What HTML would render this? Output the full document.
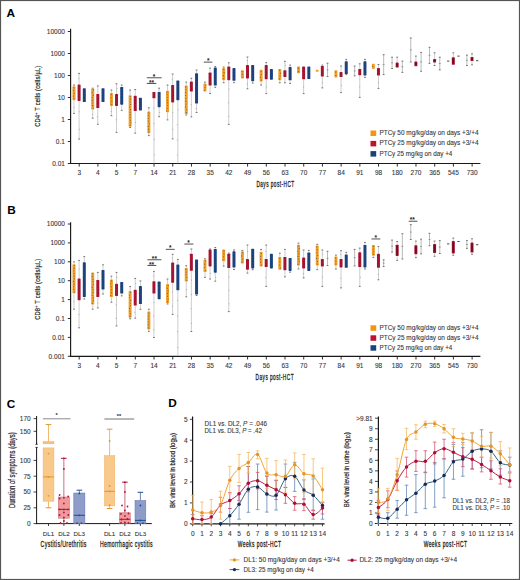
<!DOCTYPE html>
<html><head><meta charset="utf-8"><style>
html,body{margin:0;padding:0;background:#fff;}
body{width:520px;height:580px;overflow:hidden;font-family:"Liberation Sans", sans-serif;}
svg{display:block;}
</style></head><body>
<svg width="520" height="580" viewBox="0 0 520 580" font-family="'Liberation Sans', sans-serif">
<g>
<rect x="0.00" y="0.00" width="520.00" height="580.00" fill="#fff" />
<text x="6.60" y="16.80" font-size="11.8" text-anchor="start" fill="#000" font-weight="bold" >A</text>
<text x="7.20" y="214.20" font-size="11.8" text-anchor="start" fill="#000" font-weight="bold" >B</text>
<text x="6.80" y="407.60" font-size="11.8" text-anchor="start" fill="#000" font-weight="bold" >C</text>
<text x="168.30" y="407.20" font-size="11.8" text-anchor="start" fill="#000" font-weight="bold" >D</text>
<line x1="70.60" y1="28.70" x2="70.60" y2="164.00" stroke="#181818" stroke-width="1.15" />
<line x1="70.10" y1="163.50" x2="480.40" y2="163.50" stroke="#181818" stroke-width="1.15" />
<line x1="67.80" y1="31.50" x2="70.60" y2="31.50" stroke="#181818" stroke-width="0.9" />
<text x="64.90" y="33.80" font-size="6.5" text-anchor="end" fill="#383838" font-weight="normal" stroke="#383838" stroke-width="0.1" >10000</text>
<line x1="67.80" y1="53.50" x2="70.60" y2="53.50" stroke="#181818" stroke-width="0.9" />
<text x="64.90" y="55.80" font-size="6.5" text-anchor="end" fill="#383838" font-weight="normal" stroke="#383838" stroke-width="0.1" >1000</text>
<line x1="67.80" y1="75.50" x2="70.60" y2="75.50" stroke="#181818" stroke-width="0.9" />
<text x="64.90" y="77.80" font-size="6.5" text-anchor="end" fill="#383838" font-weight="normal" stroke="#383838" stroke-width="0.1" >100</text>
<line x1="67.80" y1="97.50" x2="70.60" y2="97.50" stroke="#181818" stroke-width="0.9" />
<text x="64.90" y="99.80" font-size="6.5" text-anchor="end" fill="#383838" font-weight="normal" stroke="#383838" stroke-width="0.1" >10</text>
<line x1="67.80" y1="119.50" x2="70.60" y2="119.50" stroke="#181818" stroke-width="0.9" />
<text x="64.90" y="121.80" font-size="6.5" text-anchor="end" fill="#383838" font-weight="normal" stroke="#383838" stroke-width="0.1" >1</text>
<line x1="67.80" y1="141.50" x2="70.60" y2="141.50" stroke="#181818" stroke-width="0.9" />
<text x="64.90" y="143.80" font-size="6.5" text-anchor="end" fill="#383838" font-weight="normal" stroke="#383838" stroke-width="0.1" >0.1</text>
<line x1="67.80" y1="163.50" x2="70.60" y2="163.50" stroke="#181818" stroke-width="0.9" />
<text x="64.90" y="165.80" font-size="6.5" text-anchor="end" fill="#383838" font-weight="normal" stroke="#383838" stroke-width="0.1" >0.01</text>
<line x1="79.20" y1="163.50" x2="79.20" y2="166.60" stroke="#181818" stroke-width="0.9" />
<text x="79.20" y="175.20" font-size="6.5" text-anchor="middle" fill="#383838" font-weight="normal" stroke="#383838" stroke-width="0.1" >3</text>
<line x1="97.91" y1="163.50" x2="97.91" y2="166.60" stroke="#181818" stroke-width="0.9" />
<text x="97.91" y="175.20" font-size="6.5" text-anchor="middle" fill="#383838" font-weight="normal" stroke="#383838" stroke-width="0.1" >4</text>
<line x1="116.62" y1="163.50" x2="116.62" y2="166.60" stroke="#181818" stroke-width="0.9" />
<text x="116.62" y="175.20" font-size="6.5" text-anchor="middle" fill="#383838" font-weight="normal" stroke="#383838" stroke-width="0.1" >5</text>
<line x1="135.33" y1="163.50" x2="135.33" y2="166.60" stroke="#181818" stroke-width="0.9" />
<text x="135.33" y="175.20" font-size="6.5" text-anchor="middle" fill="#383838" font-weight="normal" stroke="#383838" stroke-width="0.1" >7</text>
<line x1="154.04" y1="163.50" x2="154.04" y2="166.60" stroke="#181818" stroke-width="0.9" />
<text x="154.04" y="175.20" font-size="6.5" text-anchor="middle" fill="#383838" font-weight="normal" stroke="#383838" stroke-width="0.1" >14</text>
<line x1="172.75" y1="163.50" x2="172.75" y2="166.60" stroke="#181818" stroke-width="0.9" />
<text x="172.75" y="175.20" font-size="6.5" text-anchor="middle" fill="#383838" font-weight="normal" stroke="#383838" stroke-width="0.1" >21</text>
<line x1="191.46" y1="163.50" x2="191.46" y2="166.60" stroke="#181818" stroke-width="0.9" />
<text x="191.46" y="175.20" font-size="6.5" text-anchor="middle" fill="#383838" font-weight="normal" stroke="#383838" stroke-width="0.1" >28</text>
<line x1="210.17" y1="163.50" x2="210.17" y2="166.60" stroke="#181818" stroke-width="0.9" />
<text x="210.17" y="175.20" font-size="6.5" text-anchor="middle" fill="#383838" font-weight="normal" stroke="#383838" stroke-width="0.1" >35</text>
<line x1="228.88" y1="163.50" x2="228.88" y2="166.60" stroke="#181818" stroke-width="0.9" />
<text x="228.88" y="175.20" font-size="6.5" text-anchor="middle" fill="#383838" font-weight="normal" stroke="#383838" stroke-width="0.1" >42</text>
<line x1="247.59" y1="163.50" x2="247.59" y2="166.60" stroke="#181818" stroke-width="0.9" />
<text x="247.59" y="175.20" font-size="6.5" text-anchor="middle" fill="#383838" font-weight="normal" stroke="#383838" stroke-width="0.1" >49</text>
<line x1="266.30" y1="163.50" x2="266.30" y2="166.60" stroke="#181818" stroke-width="0.9" />
<text x="266.30" y="175.20" font-size="6.5" text-anchor="middle" fill="#383838" font-weight="normal" stroke="#383838" stroke-width="0.1" >56</text>
<line x1="285.01" y1="163.50" x2="285.01" y2="166.60" stroke="#181818" stroke-width="0.9" />
<text x="285.01" y="175.20" font-size="6.5" text-anchor="middle" fill="#383838" font-weight="normal" stroke="#383838" stroke-width="0.1" >63</text>
<line x1="303.72" y1="163.50" x2="303.72" y2="166.60" stroke="#181818" stroke-width="0.9" />
<text x="303.72" y="175.20" font-size="6.5" text-anchor="middle" fill="#383838" font-weight="normal" stroke="#383838" stroke-width="0.1" >70</text>
<line x1="322.43" y1="163.50" x2="322.43" y2="166.60" stroke="#181818" stroke-width="0.9" />
<text x="322.43" y="175.20" font-size="6.5" text-anchor="middle" fill="#383838" font-weight="normal" stroke="#383838" stroke-width="0.1" >77</text>
<line x1="341.14" y1="163.50" x2="341.14" y2="166.60" stroke="#181818" stroke-width="0.9" />
<text x="341.14" y="175.20" font-size="6.5" text-anchor="middle" fill="#383838" font-weight="normal" stroke="#383838" stroke-width="0.1" >84</text>
<line x1="359.85" y1="163.50" x2="359.85" y2="166.60" stroke="#181818" stroke-width="0.9" />
<text x="359.85" y="175.20" font-size="6.5" text-anchor="middle" fill="#383838" font-weight="normal" stroke="#383838" stroke-width="0.1" >91</text>
<line x1="378.56" y1="163.50" x2="378.56" y2="166.60" stroke="#181818" stroke-width="0.9" />
<text x="378.56" y="175.20" font-size="6.5" text-anchor="middle" fill="#383838" font-weight="normal" stroke="#383838" stroke-width="0.1" >98</text>
<line x1="397.27" y1="163.50" x2="397.27" y2="166.60" stroke="#181818" stroke-width="0.9" />
<text x="397.27" y="175.20" font-size="6.5" text-anchor="middle" fill="#383838" font-weight="normal" stroke="#383838" stroke-width="0.1" >180</text>
<line x1="415.98" y1="163.50" x2="415.98" y2="166.60" stroke="#181818" stroke-width="0.9" />
<text x="415.98" y="175.20" font-size="6.5" text-anchor="middle" fill="#383838" font-weight="normal" stroke="#383838" stroke-width="0.1" >270</text>
<line x1="434.69" y1="163.50" x2="434.69" y2="166.60" stroke="#181818" stroke-width="0.9" />
<text x="434.69" y="175.20" font-size="6.5" text-anchor="middle" fill="#383838" font-weight="normal" stroke="#383838" stroke-width="0.1" >365</text>
<line x1="453.40" y1="163.50" x2="453.40" y2="166.60" stroke="#181818" stroke-width="0.9" />
<text x="453.40" y="175.20" font-size="6.5" text-anchor="middle" fill="#383838" font-weight="normal" stroke="#383838" stroke-width="0.1" >545</text>
<line x1="472.11" y1="163.50" x2="472.11" y2="166.60" stroke="#181818" stroke-width="0.9" />
<text x="472.11" y="175.20" font-size="6.5" text-anchor="middle" fill="#383838" font-weight="normal" stroke="#383838" stroke-width="0.1" >730</text>
<line x1="74.00" y1="85.00" x2="74.00" y2="86.30" stroke="#b9b9b9" stroke-width="0.7" />
<line x1="73.10" y1="85.00" x2="74.90" y2="85.00" stroke="#555" stroke-width="0.8" />
<line x1="74.00" y1="100.20" x2="74.00" y2="113.40" stroke="#b9b9b9" stroke-width="0.7" />
<line x1="73.10" y1="113.40" x2="74.90" y2="113.40" stroke="#555" stroke-width="0.8" />
<rect x="72.50" y="86.30" width="3.00" height="13.90" fill="#f0a02a" rx="0.6"/>
<circle cx="73.75" cy="87.69" r="0.55" fill="#3a2a2a" opacity="0.6"/>
<circle cx="73.51" cy="90.47" r="0.55" fill="#3a2a2a" opacity="0.6"/>
<circle cx="74.21" cy="93.25" r="0.55" fill="#3a2a2a" opacity="0.6"/>
<circle cx="73.40" cy="96.03" r="0.55" fill="#3a2a2a" opacity="0.6"/>
<circle cx="74.05" cy="98.81" r="0.55" fill="#3a2a2a" opacity="0.6"/>
<circle cx="73.81" cy="107.30" r="0.5" fill="#777" opacity="0.6"/>
<line x1="79.10" y1="73.40" x2="79.10" y2="84.40" stroke="#b9b9b9" stroke-width="0.7" />
<line x1="78.20" y1="73.40" x2="80.00" y2="73.40" stroke="#555" stroke-width="0.8" />
<line x1="79.10" y1="100.90" x2="79.10" y2="139.10" stroke="#b9b9b9" stroke-width="0.7" />
<line x1="78.20" y1="139.10" x2="80.00" y2="139.10" stroke="#555" stroke-width="0.8" />
<rect x="77.60" y="84.40" width="3.00" height="16.50" fill="#ac1433" rx="0.6"/>
<circle cx="78.48" cy="85.78" r="0.55" fill="#3a2a2a" opacity="0.6"/>
<circle cx="79.11" cy="88.53" r="0.55" fill="#3a2a2a" opacity="0.6"/>
<circle cx="78.45" cy="91.28" r="0.55" fill="#3a2a2a" opacity="0.6"/>
<circle cx="79.01" cy="94.03" r="0.55" fill="#3a2a2a" opacity="0.6"/>
<circle cx="78.50" cy="96.78" r="0.55" fill="#3a2a2a" opacity="0.6"/>
<circle cx="78.53" cy="99.53" r="0.55" fill="#3a2a2a" opacity="0.6"/>
<circle cx="78.99" cy="111.70" r="0.5" fill="#777" opacity="0.6"/>
<circle cx="79.56" cy="129.30" r="0.5" fill="#777" opacity="0.6"/>
<circle cx="78.57" cy="78.40" r="0.5" fill="#777" opacity="0.6"/>
<rect x="82.80" y="88.20" width="3.00" height="13.80" fill="#1b4584" rx="0.6"/>
<circle cx="83.91" cy="89.58" r="0.55" fill="#3a2a2a" opacity="0.6"/>
<circle cx="84.48" cy="92.34" r="0.55" fill="#3a2a2a" opacity="0.6"/>
<circle cx="84.93" cy="95.10" r="0.55" fill="#3a2a2a" opacity="0.6"/>
<circle cx="84.41" cy="97.86" r="0.55" fill="#3a2a2a" opacity="0.6"/>
<circle cx="84.16" cy="100.62" r="0.55" fill="#3a2a2a" opacity="0.6"/>
<line x1="92.71" y1="88.20" x2="92.71" y2="88.60" stroke="#b9b9b9" stroke-width="0.7" />
<line x1="91.81" y1="88.20" x2="93.61" y2="88.20" stroke="#555" stroke-width="0.8" />
<line x1="92.71" y1="109.60" x2="92.71" y2="118.20" stroke="#b9b9b9" stroke-width="0.7" />
<line x1="91.81" y1="118.20" x2="93.61" y2="118.20" stroke="#555" stroke-width="0.8" />
<rect x="91.21" y="88.60" width="3.00" height="21.00" fill="#f0a02a" rx="0.6"/>
<circle cx="93.38" cy="89.91" r="0.55" fill="#3a2a2a" opacity="0.6"/>
<circle cx="92.08" cy="92.54" r="0.55" fill="#3a2a2a" opacity="0.6"/>
<circle cx="93.21" cy="95.16" r="0.55" fill="#3a2a2a" opacity="0.6"/>
<circle cx="92.42" cy="97.79" r="0.55" fill="#3a2a2a" opacity="0.6"/>
<circle cx="92.21" cy="100.41" r="0.55" fill="#3a2a2a" opacity="0.6"/>
<circle cx="92.17" cy="103.04" r="0.55" fill="#3a2a2a" opacity="0.6"/>
<circle cx="92.44" cy="105.66" r="0.55" fill="#3a2a2a" opacity="0.6"/>
<circle cx="93.15" cy="108.29" r="0.55" fill="#3a2a2a" opacity="0.6"/>
<circle cx="92.26" cy="114.40" r="0.5" fill="#777" opacity="0.6"/>
<line x1="97.81" y1="85.90" x2="97.81" y2="93.90" stroke="#b9b9b9" stroke-width="0.7" />
<line x1="96.91" y1="85.90" x2="98.71" y2="85.90" stroke="#555" stroke-width="0.8" />
<line x1="97.81" y1="108.10" x2="97.81" y2="124.30" stroke="#b9b9b9" stroke-width="0.7" />
<line x1="96.91" y1="124.30" x2="98.71" y2="124.30" stroke="#555" stroke-width="0.8" />
<rect x="96.31" y="93.90" width="3.00" height="14.20" fill="#ac1433" rx="0.6"/>
<circle cx="97.92" cy="95.32" r="0.55" fill="#3a2a2a" opacity="0.6"/>
<circle cx="98.00" cy="98.16" r="0.55" fill="#3a2a2a" opacity="0.6"/>
<circle cx="97.63" cy="101.00" r="0.55" fill="#3a2a2a" opacity="0.6"/>
<circle cx="97.88" cy="103.84" r="0.55" fill="#3a2a2a" opacity="0.6"/>
<circle cx="97.20" cy="106.68" r="0.55" fill="#3a2a2a" opacity="0.6"/>
<circle cx="97.19" cy="116.70" r="0.5" fill="#777" opacity="0.6"/>
<rect x="101.51" y="88.20" width="3.00" height="13.80" fill="#1b4584" rx="0.6"/>
<circle cx="102.60" cy="89.58" r="0.55" fill="#3a2a2a" opacity="0.6"/>
<circle cx="103.26" cy="92.34" r="0.55" fill="#3a2a2a" opacity="0.6"/>
<circle cx="102.91" cy="95.10" r="0.55" fill="#3a2a2a" opacity="0.6"/>
<circle cx="102.75" cy="97.86" r="0.55" fill="#3a2a2a" opacity="0.6"/>
<circle cx="103.13" cy="100.62" r="0.55" fill="#3a2a2a" opacity="0.6"/>
<line x1="111.42" y1="90.10" x2="111.42" y2="93.00" stroke="#b9b9b9" stroke-width="0.7" />
<line x1="110.52" y1="90.10" x2="112.32" y2="90.10" stroke="#555" stroke-width="0.8" />
<line x1="111.42" y1="105.90" x2="111.42" y2="115.70" stroke="#b9b9b9" stroke-width="0.7" />
<line x1="110.52" y1="115.70" x2="112.32" y2="115.70" stroke="#555" stroke-width="0.8" />
<rect x="109.92" y="93.00" width="3.00" height="12.90" fill="#f0a02a" rx="0.6"/>
<circle cx="111.35" cy="94.61" r="0.55" fill="#3a2a2a" opacity="0.6"/>
<circle cx="111.14" cy="97.84" r="0.55" fill="#3a2a2a" opacity="0.6"/>
<circle cx="111.83" cy="101.06" r="0.55" fill="#3a2a2a" opacity="0.6"/>
<circle cx="111.70" cy="104.29" r="0.55" fill="#3a2a2a" opacity="0.6"/>
<circle cx="111.06" cy="111.30" r="0.5" fill="#777" opacity="0.6"/>
<line x1="116.52" y1="83.80" x2="116.52" y2="93.90" stroke="#b9b9b9" stroke-width="0.7" />
<line x1="115.62" y1="83.80" x2="117.42" y2="83.80" stroke="#555" stroke-width="0.8" />
<line x1="116.52" y1="105.90" x2="116.52" y2="132.40" stroke="#b9b9b9" stroke-width="0.7" />
<line x1="115.62" y1="132.40" x2="117.42" y2="132.40" stroke="#555" stroke-width="0.8" />
<rect x="115.02" y="93.90" width="3.00" height="12.00" fill="#ac1433" rx="0.6"/>
<circle cx="116.62" cy="95.40" r="0.55" fill="#3a2a2a" opacity="0.6"/>
<circle cx="116.56" cy="98.40" r="0.55" fill="#3a2a2a" opacity="0.6"/>
<circle cx="117.05" cy="101.40" r="0.55" fill="#3a2a2a" opacity="0.6"/>
<circle cx="116.84" cy="104.40" r="0.55" fill="#3a2a2a" opacity="0.6"/>
<circle cx="116.22" cy="119.65" r="0.5" fill="#777" opacity="0.6"/>
<circle cx="117.19" cy="88.35" r="0.5" fill="#777" opacity="0.6"/>
<line x1="121.72" y1="85.00" x2="121.72" y2="86.90" stroke="#b9b9b9" stroke-width="0.7" />
<line x1="120.82" y1="85.00" x2="122.62" y2="85.00" stroke="#555" stroke-width="0.8" />
<line x1="121.72" y1="104.70" x2="121.72" y2="110.40" stroke="#b9b9b9" stroke-width="0.7" />
<line x1="120.82" y1="110.40" x2="122.62" y2="110.40" stroke="#555" stroke-width="0.8" />
<rect x="120.22" y="86.90" width="3.00" height="17.80" fill="#1b4584" rx="0.6"/>
<circle cx="121.19" cy="88.38" r="0.55" fill="#3a2a2a" opacity="0.6"/>
<circle cx="121.61" cy="91.35" r="0.55" fill="#3a2a2a" opacity="0.6"/>
<circle cx="122.08" cy="94.32" r="0.55" fill="#3a2a2a" opacity="0.6"/>
<circle cx="121.23" cy="97.28" r="0.55" fill="#3a2a2a" opacity="0.6"/>
<circle cx="121.70" cy="100.25" r="0.55" fill="#3a2a2a" opacity="0.6"/>
<circle cx="121.07" cy="103.22" r="0.55" fill="#3a2a2a" opacity="0.6"/>
<line x1="130.13" y1="90.10" x2="130.13" y2="95.20" stroke="#b9b9b9" stroke-width="0.7" />
<line x1="129.23" y1="90.10" x2="131.03" y2="90.10" stroke="#555" stroke-width="0.8" />
<line x1="130.13" y1="126.70" x2="130.13" y2="127.50" stroke="#b9b9b9" stroke-width="0.7" />
<line x1="129.23" y1="127.50" x2="131.03" y2="127.50" stroke="#555" stroke-width="0.8" />
<rect x="128.63" y="95.20" width="3.00" height="31.50" fill="#f0a02a" rx="0.6"/>
<circle cx="130.37" cy="96.51" r="0.55" fill="#3a2a2a" opacity="0.6"/>
<circle cx="130.50" cy="99.14" r="0.55" fill="#3a2a2a" opacity="0.6"/>
<circle cx="130.23" cy="101.76" r="0.55" fill="#3a2a2a" opacity="0.6"/>
<circle cx="130.66" cy="104.39" r="0.55" fill="#3a2a2a" opacity="0.6"/>
<circle cx="129.87" cy="107.01" r="0.55" fill="#3a2a2a" opacity="0.6"/>
<circle cx="130.40" cy="109.64" r="0.55" fill="#3a2a2a" opacity="0.6"/>
<circle cx="130.26" cy="112.26" r="0.55" fill="#3a2a2a" opacity="0.6"/>
<circle cx="130.24" cy="114.89" r="0.55" fill="#3a2a2a" opacity="0.6"/>
<circle cx="130.07" cy="117.51" r="0.55" fill="#3a2a2a" opacity="0.6"/>
<circle cx="130.61" cy="120.14" r="0.55" fill="#3a2a2a" opacity="0.6"/>
<circle cx="130.75" cy="122.76" r="0.55" fill="#3a2a2a" opacity="0.6"/>
<circle cx="130.09" cy="125.39" r="0.55" fill="#3a2a2a" opacity="0.6"/>
<line x1="135.23" y1="89.50" x2="135.23" y2="95.80" stroke="#b9b9b9" stroke-width="0.7" />
<line x1="134.33" y1="89.50" x2="136.13" y2="89.50" stroke="#555" stroke-width="0.8" />
<line x1="135.23" y1="111.00" x2="135.23" y2="133.20" stroke="#b9b9b9" stroke-width="0.7" />
<line x1="134.33" y1="133.20" x2="136.13" y2="133.20" stroke="#555" stroke-width="0.8" />
<rect x="133.73" y="95.80" width="3.00" height="15.20" fill="#ac1433" rx="0.6"/>
<circle cx="135.46" cy="97.32" r="0.55" fill="#3a2a2a" opacity="0.6"/>
<circle cx="134.61" cy="100.36" r="0.55" fill="#3a2a2a" opacity="0.6"/>
<circle cx="135.51" cy="103.40" r="0.55" fill="#3a2a2a" opacity="0.6"/>
<circle cx="135.44" cy="106.44" r="0.55" fill="#3a2a2a" opacity="0.6"/>
<circle cx="135.92" cy="109.48" r="0.55" fill="#3a2a2a" opacity="0.6"/>
<circle cx="135.68" cy="122.60" r="0.5" fill="#777" opacity="0.6"/>
<rect x="138.93" y="97.70" width="3.00" height="12.70" fill="#1b4584" rx="0.6"/>
<circle cx="140.13" cy="99.29" r="0.55" fill="#3a2a2a" opacity="0.6"/>
<circle cx="140.27" cy="102.46" r="0.55" fill="#3a2a2a" opacity="0.6"/>
<circle cx="140.67" cy="105.64" r="0.55" fill="#3a2a2a" opacity="0.6"/>
<circle cx="139.76" cy="108.81" r="0.55" fill="#3a2a2a" opacity="0.6"/>
<line x1="148.84" y1="107.80" x2="148.84" y2="111.50" stroke="#b9b9b9" stroke-width="0.7" />
<line x1="147.94" y1="107.80" x2="149.74" y2="107.80" stroke="#555" stroke-width="0.8" />
<line x1="148.84" y1="133.20" x2="148.84" y2="135.60" stroke="#b9b9b9" stroke-width="0.7" />
<line x1="147.94" y1="135.60" x2="149.74" y2="135.60" stroke="#555" stroke-width="0.8" />
<rect x="147.34" y="111.50" width="3.00" height="21.70" fill="#f0a02a" rx="0.6"/>
<circle cx="148.79" cy="112.86" r="0.55" fill="#3a2a2a" opacity="0.6"/>
<circle cx="148.38" cy="115.57" r="0.55" fill="#3a2a2a" opacity="0.6"/>
<circle cx="148.30" cy="118.28" r="0.55" fill="#3a2a2a" opacity="0.6"/>
<circle cx="148.22" cy="120.99" r="0.55" fill="#3a2a2a" opacity="0.6"/>
<circle cx="149.22" cy="123.71" r="0.55" fill="#3a2a2a" opacity="0.6"/>
<circle cx="148.32" cy="126.42" r="0.55" fill="#3a2a2a" opacity="0.6"/>
<circle cx="148.49" cy="129.13" r="0.55" fill="#3a2a2a" opacity="0.6"/>
<circle cx="148.69" cy="131.84" r="0.55" fill="#3a2a2a" opacity="0.6"/>
<line x1="153.94" y1="98.30" x2="153.94" y2="163.50" stroke="#b9b9b9" stroke-width="0.7" />
<rect x="152.44" y="92.00" width="3.00" height="6.30" fill="#ac1433" rx="0.6"/>
<circle cx="154.46" cy="93.58" r="0.55" fill="#3a2a2a" opacity="0.6"/>
<circle cx="153.35" cy="96.72" r="0.55" fill="#3a2a2a" opacity="0.6"/>
<circle cx="153.87" cy="108.08" r="0.5" fill="#777" opacity="0.6"/>
<circle cx="154.01" cy="123.62" r="0.5" fill="#777" opacity="0.6"/>
<circle cx="154.48" cy="139.18" r="0.5" fill="#777" opacity="0.6"/>
<circle cx="154.39" cy="154.72" r="0.5" fill="#777" opacity="0.6"/>
<line x1="159.14" y1="88.20" x2="159.14" y2="92.00" stroke="#b9b9b9" stroke-width="0.7" />
<line x1="158.24" y1="88.20" x2="160.04" y2="88.20" stroke="#555" stroke-width="0.8" />
<line x1="159.14" y1="107.20" x2="159.14" y2="116.70" stroke="#b9b9b9" stroke-width="0.7" />
<line x1="158.24" y1="116.70" x2="160.04" y2="116.70" stroke="#555" stroke-width="0.8" />
<rect x="157.64" y="92.00" width="3.00" height="15.20" fill="#1b4584" rx="0.6"/>
<circle cx="159.65" cy="93.52" r="0.55" fill="#3a2a2a" opacity="0.6"/>
<circle cx="158.83" cy="96.56" r="0.55" fill="#3a2a2a" opacity="0.6"/>
<circle cx="159.02" cy="99.60" r="0.55" fill="#3a2a2a" opacity="0.6"/>
<circle cx="158.94" cy="102.64" r="0.55" fill="#3a2a2a" opacity="0.6"/>
<circle cx="159.68" cy="105.68" r="0.55" fill="#3a2a2a" opacity="0.6"/>
<circle cx="159.78" cy="112.45" r="0.5" fill="#777" opacity="0.6"/>
<line x1="167.55" y1="85.00" x2="167.55" y2="90.70" stroke="#b9b9b9" stroke-width="0.7" />
<line x1="166.65" y1="85.00" x2="168.45" y2="85.00" stroke="#555" stroke-width="0.8" />
<line x1="167.55" y1="112.30" x2="167.55" y2="119.90" stroke="#b9b9b9" stroke-width="0.7" />
<line x1="166.65" y1="119.90" x2="168.45" y2="119.90" stroke="#555" stroke-width="0.8" />
<rect x="166.05" y="90.70" width="3.00" height="21.60" fill="#f0a02a" rx="0.6"/>
<circle cx="167.06" cy="92.05" r="0.55" fill="#3a2a2a" opacity="0.6"/>
<circle cx="167.10" cy="94.75" r="0.55" fill="#3a2a2a" opacity="0.6"/>
<circle cx="167.17" cy="97.45" r="0.55" fill="#3a2a2a" opacity="0.6"/>
<circle cx="167.18" cy="100.15" r="0.55" fill="#3a2a2a" opacity="0.6"/>
<circle cx="167.53" cy="102.85" r="0.55" fill="#3a2a2a" opacity="0.6"/>
<circle cx="167.67" cy="105.55" r="0.55" fill="#3a2a2a" opacity="0.6"/>
<circle cx="167.22" cy="108.25" r="0.55" fill="#3a2a2a" opacity="0.6"/>
<circle cx="166.86" cy="110.95" r="0.55" fill="#3a2a2a" opacity="0.6"/>
<line x1="172.65" y1="74.00" x2="172.65" y2="85.00" stroke="#b9b9b9" stroke-width="0.7" />
<line x1="171.75" y1="74.00" x2="173.55" y2="74.00" stroke="#555" stroke-width="0.8" />
<line x1="172.65" y1="102.40" x2="172.65" y2="138.90" stroke="#b9b9b9" stroke-width="0.7" />
<line x1="171.75" y1="138.90" x2="173.55" y2="138.90" stroke="#555" stroke-width="0.8" />
<rect x="171.15" y="85.00" width="3.00" height="17.40" fill="#ac1433" rx="0.6"/>
<circle cx="172.54" cy="86.45" r="0.55" fill="#3a2a2a" opacity="0.6"/>
<circle cx="172.47" cy="89.35" r="0.55" fill="#3a2a2a" opacity="0.6"/>
<circle cx="172.74" cy="92.25" r="0.55" fill="#3a2a2a" opacity="0.6"/>
<circle cx="173.28" cy="95.15" r="0.55" fill="#3a2a2a" opacity="0.6"/>
<circle cx="172.92" cy="98.05" r="0.55" fill="#3a2a2a" opacity="0.6"/>
<circle cx="172.67" cy="100.95" r="0.55" fill="#3a2a2a" opacity="0.6"/>
<circle cx="172.81" cy="112.78" r="0.5" fill="#777" opacity="0.6"/>
<circle cx="172.90" cy="129.53" r="0.5" fill="#777" opacity="0.6"/>
<circle cx="172.03" cy="79.00" r="0.5" fill="#777" opacity="0.6"/>
<line x1="177.85" y1="100.20" x2="177.85" y2="163.50" stroke="#b9b9b9" stroke-width="0.7" />
<rect x="176.35" y="80.60" width="3.00" height="19.60" fill="#1b4584" rx="0.6"/>
<circle cx="178.41" cy="82.00" r="0.55" fill="#3a2a2a" opacity="0.6"/>
<circle cx="178.24" cy="84.80" r="0.55" fill="#3a2a2a" opacity="0.6"/>
<circle cx="178.37" cy="87.60" r="0.55" fill="#3a2a2a" opacity="0.6"/>
<circle cx="178.27" cy="90.40" r="0.55" fill="#3a2a2a" opacity="0.6"/>
<circle cx="177.70" cy="93.20" r="0.55" fill="#3a2a2a" opacity="0.6"/>
<circle cx="177.71" cy="96.00" r="0.55" fill="#3a2a2a" opacity="0.6"/>
<circle cx="177.29" cy="98.80" r="0.55" fill="#3a2a2a" opacity="0.6"/>
<circle cx="178.04" cy="109.74" r="0.5" fill="#777" opacity="0.6"/>
<circle cx="177.24" cy="124.81" r="0.5" fill="#777" opacity="0.6"/>
<circle cx="177.24" cy="139.89" r="0.5" fill="#777" opacity="0.6"/>
<circle cx="177.44" cy="154.96" r="0.5" fill="#777" opacity="0.6"/>
<line x1="186.26" y1="82.10" x2="186.26" y2="85.50" stroke="#b9b9b9" stroke-width="0.7" />
<line x1="185.36" y1="82.10" x2="187.16" y2="82.10" stroke="#555" stroke-width="0.8" />
<line x1="186.26" y1="114.00" x2="186.26" y2="115.00" stroke="#b9b9b9" stroke-width="0.7" />
<line x1="185.36" y1="115.00" x2="187.16" y2="115.00" stroke="#555" stroke-width="0.8" />
<rect x="184.76" y="85.50" width="3.00" height="28.50" fill="#f0a02a" rx="0.6"/>
<circle cx="185.79" cy="86.92" r="0.55" fill="#3a2a2a" opacity="0.6"/>
<circle cx="186.04" cy="89.78" r="0.55" fill="#3a2a2a" opacity="0.6"/>
<circle cx="185.63" cy="92.62" r="0.55" fill="#3a2a2a" opacity="0.6"/>
<circle cx="185.56" cy="95.47" r="0.55" fill="#3a2a2a" opacity="0.6"/>
<circle cx="185.77" cy="98.33" r="0.55" fill="#3a2a2a" opacity="0.6"/>
<circle cx="185.70" cy="101.17" r="0.55" fill="#3a2a2a" opacity="0.6"/>
<circle cx="186.07" cy="104.03" r="0.55" fill="#3a2a2a" opacity="0.6"/>
<circle cx="185.60" cy="106.88" r="0.55" fill="#3a2a2a" opacity="0.6"/>
<circle cx="186.78" cy="109.72" r="0.55" fill="#3a2a2a" opacity="0.6"/>
<circle cx="186.42" cy="112.58" r="0.55" fill="#3a2a2a" opacity="0.6"/>
<line x1="191.36" y1="78.30" x2="191.36" y2="81.40" stroke="#b9b9b9" stroke-width="0.7" />
<line x1="190.46" y1="78.30" x2="192.26" y2="78.30" stroke="#555" stroke-width="0.8" />
<line x1="191.36" y1="91.60" x2="191.36" y2="116.90" stroke="#b9b9b9" stroke-width="0.7" />
<line x1="190.46" y1="116.90" x2="192.26" y2="116.90" stroke="#555" stroke-width="0.8" />
<rect x="189.86" y="81.40" width="3.00" height="10.20" fill="#ac1433" rx="0.6"/>
<circle cx="190.87" cy="83.10" r="0.55" fill="#3a2a2a" opacity="0.6"/>
<circle cx="191.01" cy="86.50" r="0.55" fill="#3a2a2a" opacity="0.6"/>
<circle cx="191.15" cy="89.90" r="0.55" fill="#3a2a2a" opacity="0.6"/>
<circle cx="191.17" cy="104.75" r="0.5" fill="#777" opacity="0.6"/>
<line x1="196.56" y1="70.00" x2="196.56" y2="73.20" stroke="#b9b9b9" stroke-width="0.7" />
<line x1="195.66" y1="70.00" x2="197.46" y2="70.00" stroke="#555" stroke-width="0.8" />
<line x1="196.56" y1="103.60" x2="196.56" y2="112.50" stroke="#b9b9b9" stroke-width="0.7" />
<line x1="195.66" y1="112.50" x2="197.46" y2="112.50" stroke="#555" stroke-width="0.8" />
<rect x="195.06" y="73.20" width="3.00" height="30.40" fill="#1b4584" rx="0.6"/>
<circle cx="196.03" cy="74.58" r="0.55" fill="#3a2a2a" opacity="0.6"/>
<circle cx="197.05" cy="77.35" r="0.55" fill="#3a2a2a" opacity="0.6"/>
<circle cx="197.25" cy="80.11" r="0.55" fill="#3a2a2a" opacity="0.6"/>
<circle cx="196.51" cy="82.87" r="0.55" fill="#3a2a2a" opacity="0.6"/>
<circle cx="196.54" cy="85.64" r="0.55" fill="#3a2a2a" opacity="0.6"/>
<circle cx="195.98" cy="88.40" r="0.55" fill="#3a2a2a" opacity="0.6"/>
<circle cx="196.00" cy="91.16" r="0.55" fill="#3a2a2a" opacity="0.6"/>
<circle cx="196.34" cy="93.93" r="0.55" fill="#3a2a2a" opacity="0.6"/>
<circle cx="196.23" cy="96.69" r="0.55" fill="#3a2a2a" opacity="0.6"/>
<circle cx="197.02" cy="99.45" r="0.55" fill="#3a2a2a" opacity="0.6"/>
<circle cx="196.09" cy="102.22" r="0.55" fill="#3a2a2a" opacity="0.6"/>
<circle cx="195.89" cy="108.55" r="0.5" fill="#777" opacity="0.6"/>
<line x1="204.97" y1="82.10" x2="204.97" y2="83.60" stroke="#b9b9b9" stroke-width="0.7" />
<line x1="204.07" y1="82.10" x2="205.87" y2="82.10" stroke="#555" stroke-width="0.8" />
<rect x="203.47" y="83.60" width="3.00" height="8.00" fill="#f0a02a" rx="0.6"/>
<circle cx="205.60" cy="84.93" r="0.55" fill="#3a2a2a" opacity="0.6"/>
<circle cx="205.01" cy="87.60" r="0.55" fill="#3a2a2a" opacity="0.6"/>
<circle cx="204.48" cy="90.27" r="0.55" fill="#3a2a2a" opacity="0.6"/>
<line x1="210.07" y1="68.10" x2="210.07" y2="72.60" stroke="#b9b9b9" stroke-width="0.7" />
<line x1="209.17" y1="68.10" x2="210.97" y2="68.10" stroke="#555" stroke-width="0.8" />
<line x1="210.07" y1="85.50" x2="210.07" y2="93.50" stroke="#b9b9b9" stroke-width="0.7" />
<line x1="209.17" y1="93.50" x2="210.97" y2="93.50" stroke="#555" stroke-width="0.8" />
<rect x="208.57" y="72.60" width="3.00" height="12.90" fill="#ac1433" rx="0.6"/>
<circle cx="210.13" cy="74.21" r="0.55" fill="#3a2a2a" opacity="0.6"/>
<circle cx="209.41" cy="77.44" r="0.55" fill="#3a2a2a" opacity="0.6"/>
<circle cx="210.11" cy="80.66" r="0.55" fill="#3a2a2a" opacity="0.6"/>
<circle cx="210.74" cy="83.89" r="0.55" fill="#3a2a2a" opacity="0.6"/>
<line x1="215.27" y1="66.60" x2="215.27" y2="67.50" stroke="#b9b9b9" stroke-width="0.7" />
<line x1="214.37" y1="66.60" x2="216.17" y2="66.60" stroke="#555" stroke-width="0.8" />
<line x1="215.27" y1="85.50" x2="215.27" y2="87.40" stroke="#b9b9b9" stroke-width="0.7" />
<line x1="214.37" y1="87.40" x2="216.17" y2="87.40" stroke="#555" stroke-width="0.8" />
<rect x="213.77" y="67.50" width="3.00" height="18.00" fill="#1b4584" rx="0.6"/>
<circle cx="215.78" cy="69.00" r="0.55" fill="#3a2a2a" opacity="0.6"/>
<circle cx="215.54" cy="72.00" r="0.55" fill="#3a2a2a" opacity="0.6"/>
<circle cx="214.94" cy="75.00" r="0.55" fill="#3a2a2a" opacity="0.6"/>
<circle cx="215.08" cy="78.00" r="0.55" fill="#3a2a2a" opacity="0.6"/>
<circle cx="214.80" cy="81.00" r="0.55" fill="#3a2a2a" opacity="0.6"/>
<circle cx="215.65" cy="84.00" r="0.55" fill="#3a2a2a" opacity="0.6"/>
<line x1="223.68" y1="67.00" x2="223.68" y2="68.10" stroke="#b9b9b9" stroke-width="0.7" />
<line x1="222.78" y1="67.00" x2="224.58" y2="67.00" stroke="#555" stroke-width="0.8" />
<line x1="223.68" y1="80.20" x2="223.68" y2="82.70" stroke="#b9b9b9" stroke-width="0.7" />
<line x1="222.78" y1="82.70" x2="224.58" y2="82.70" stroke="#555" stroke-width="0.8" />
<rect x="222.18" y="68.10" width="3.00" height="12.10" fill="#f0a02a" rx="0.6"/>
<circle cx="223.73" cy="69.61" r="0.55" fill="#3a2a2a" opacity="0.6"/>
<circle cx="224.07" cy="72.64" r="0.55" fill="#3a2a2a" opacity="0.6"/>
<circle cx="223.44" cy="75.66" r="0.55" fill="#3a2a2a" opacity="0.6"/>
<circle cx="223.29" cy="78.69" r="0.55" fill="#3a2a2a" opacity="0.6"/>
<line x1="228.78" y1="62.80" x2="228.78" y2="66.60" stroke="#b9b9b9" stroke-width="0.7" />
<line x1="227.88" y1="62.80" x2="229.68" y2="62.80" stroke="#555" stroke-width="0.8" />
<line x1="228.78" y1="80.20" x2="228.78" y2="124.40" stroke="#b9b9b9" stroke-width="0.7" />
<line x1="227.88" y1="124.40" x2="229.68" y2="124.40" stroke="#555" stroke-width="0.8" />
<rect x="227.28" y="66.60" width="3.00" height="13.60" fill="#ac1433" rx="0.6"/>
<circle cx="229.22" cy="67.96" r="0.55" fill="#3a2a2a" opacity="0.6"/>
<circle cx="229.46" cy="70.68" r="0.55" fill="#3a2a2a" opacity="0.6"/>
<circle cx="229.27" cy="73.40" r="0.55" fill="#3a2a2a" opacity="0.6"/>
<circle cx="229.21" cy="76.12" r="0.55" fill="#3a2a2a" opacity="0.6"/>
<circle cx="229.23" cy="78.84" r="0.55" fill="#3a2a2a" opacity="0.6"/>
<circle cx="229.12" cy="89.07" r="0.5" fill="#777" opacity="0.6"/>
<circle cx="228.40" cy="102.80" r="0.5" fill="#777" opacity="0.6"/>
<circle cx="228.80" cy="116.53" r="0.5" fill="#777" opacity="0.6"/>
<line x1="233.98" y1="80.80" x2="233.98" y2="82.70" stroke="#b9b9b9" stroke-width="0.7" />
<line x1="233.08" y1="82.70" x2="234.88" y2="82.70" stroke="#555" stroke-width="0.8" />
<rect x="232.48" y="68.10" width="3.00" height="12.70" fill="#1b4584" rx="0.6"/>
<circle cx="233.78" cy="69.69" r="0.55" fill="#3a2a2a" opacity="0.6"/>
<circle cx="233.32" cy="72.86" r="0.55" fill="#3a2a2a" opacity="0.6"/>
<circle cx="233.32" cy="76.04" r="0.55" fill="#3a2a2a" opacity="0.6"/>
<circle cx="233.67" cy="79.21" r="0.55" fill="#3a2a2a" opacity="0.6"/>
<rect x="240.89" y="70.20" width="3.00" height="8.20" fill="#f0a02a" rx="0.6"/>
<circle cx="242.05" cy="71.57" r="0.55" fill="#3a2a2a" opacity="0.6"/>
<circle cx="242.66" cy="74.30" r="0.55" fill="#3a2a2a" opacity="0.6"/>
<circle cx="243.03" cy="77.03" r="0.55" fill="#3a2a2a" opacity="0.6"/>
<line x1="247.49" y1="57.00" x2="247.49" y2="65.10" stroke="#b9b9b9" stroke-width="0.7" />
<line x1="246.59" y1="57.00" x2="248.39" y2="57.00" stroke="#555" stroke-width="0.8" />
<line x1="247.49" y1="78.40" x2="247.49" y2="88.80" stroke="#b9b9b9" stroke-width="0.7" />
<line x1="246.59" y1="88.80" x2="248.39" y2="88.80" stroke="#555" stroke-width="0.8" />
<rect x="245.99" y="65.10" width="3.00" height="13.30" fill="#ac1433" rx="0.6"/>
<circle cx="247.42" cy="66.43" r="0.55" fill="#3a2a2a" opacity="0.6"/>
<circle cx="248.10" cy="69.09" r="0.55" fill="#3a2a2a" opacity="0.6"/>
<circle cx="248.17" cy="71.75" r="0.55" fill="#3a2a2a" opacity="0.6"/>
<circle cx="248.13" cy="74.41" r="0.55" fill="#3a2a2a" opacity="0.6"/>
<circle cx="247.30" cy="77.07" r="0.55" fill="#3a2a2a" opacity="0.6"/>
<circle cx="247.10" cy="84.10" r="0.5" fill="#777" opacity="0.6"/>
<circle cx="247.11" cy="60.55" r="0.5" fill="#777" opacity="0.6"/>
<line x1="252.69" y1="81.20" x2="252.69" y2="83.10" stroke="#b9b9b9" stroke-width="0.7" />
<line x1="251.79" y1="83.10" x2="253.59" y2="83.10" stroke="#555" stroke-width="0.8" />
<rect x="251.19" y="65.10" width="3.00" height="16.10" fill="#1b4584" rx="0.6"/>
<circle cx="252.27" cy="66.44" r="0.55" fill="#3a2a2a" opacity="0.6"/>
<circle cx="252.28" cy="69.12" r="0.55" fill="#3a2a2a" opacity="0.6"/>
<circle cx="252.86" cy="71.81" r="0.55" fill="#3a2a2a" opacity="0.6"/>
<circle cx="253.25" cy="74.49" r="0.55" fill="#3a2a2a" opacity="0.6"/>
<circle cx="253.17" cy="77.17" r="0.55" fill="#3a2a2a" opacity="0.6"/>
<circle cx="252.66" cy="79.86" r="0.55" fill="#3a2a2a" opacity="0.6"/>
<line x1="261.10" y1="81.60" x2="261.10" y2="85.00" stroke="#b9b9b9" stroke-width="0.7" />
<line x1="260.20" y1="85.00" x2="262.00" y2="85.00" stroke="#555" stroke-width="0.8" />
<rect x="259.60" y="69.80" width="3.00" height="11.80" fill="#f0a02a" rx="0.6"/>
<circle cx="261.31" cy="71.27" r="0.55" fill="#3a2a2a" opacity="0.6"/>
<circle cx="261.52" cy="74.22" r="0.55" fill="#3a2a2a" opacity="0.6"/>
<circle cx="260.52" cy="77.17" r="0.55" fill="#3a2a2a" opacity="0.6"/>
<circle cx="261.32" cy="80.12" r="0.55" fill="#3a2a2a" opacity="0.6"/>
<line x1="266.20" y1="62.60" x2="266.20" y2="65.10" stroke="#b9b9b9" stroke-width="0.7" />
<line x1="265.30" y1="62.60" x2="267.10" y2="62.60" stroke="#555" stroke-width="0.8" />
<line x1="266.20" y1="79.30" x2="266.20" y2="93.60" stroke="#b9b9b9" stroke-width="0.7" />
<line x1="265.30" y1="93.60" x2="267.10" y2="93.60" stroke="#555" stroke-width="0.8" />
<rect x="264.70" y="65.10" width="3.00" height="14.20" fill="#ac1433" rx="0.6"/>
<circle cx="266.77" cy="66.52" r="0.55" fill="#3a2a2a" opacity="0.6"/>
<circle cx="266.60" cy="69.36" r="0.55" fill="#3a2a2a" opacity="0.6"/>
<circle cx="266.55" cy="72.20" r="0.55" fill="#3a2a2a" opacity="0.6"/>
<circle cx="266.17" cy="75.04" r="0.55" fill="#3a2a2a" opacity="0.6"/>
<circle cx="265.75" cy="77.88" r="0.55" fill="#3a2a2a" opacity="0.6"/>
<circle cx="266.60" cy="86.95" r="0.5" fill="#777" opacity="0.6"/>
<rect x="269.90" y="68.90" width="3.00" height="10.80" fill="#1b4584" rx="0.6"/>
<circle cx="271.17" cy="70.25" r="0.55" fill="#3a2a2a" opacity="0.6"/>
<circle cx="271.82" cy="72.95" r="0.55" fill="#3a2a2a" opacity="0.6"/>
<circle cx="272.06" cy="75.65" r="0.55" fill="#3a2a2a" opacity="0.6"/>
<circle cx="271.25" cy="78.35" r="0.55" fill="#3a2a2a" opacity="0.6"/>
<line x1="279.81" y1="80.30" x2="279.81" y2="82.80" stroke="#b9b9b9" stroke-width="0.7" />
<line x1="278.91" y1="82.80" x2="280.71" y2="82.80" stroke="#555" stroke-width="0.8" />
<rect x="278.31" y="68.90" width="3.00" height="11.40" fill="#f0a02a" rx="0.6"/>
<circle cx="279.67" cy="70.33" r="0.55" fill="#3a2a2a" opacity="0.6"/>
<circle cx="280.44" cy="73.17" r="0.55" fill="#3a2a2a" opacity="0.6"/>
<circle cx="280.12" cy="76.03" r="0.55" fill="#3a2a2a" opacity="0.6"/>
<circle cx="279.35" cy="78.88" r="0.55" fill="#3a2a2a" opacity="0.6"/>
<line x1="284.91" y1="61.30" x2="284.91" y2="70.20" stroke="#b9b9b9" stroke-width="0.7" />
<line x1="284.01" y1="61.30" x2="285.81" y2="61.30" stroke="#555" stroke-width="0.8" />
<line x1="284.91" y1="77.10" x2="284.91" y2="82.80" stroke="#b9b9b9" stroke-width="0.7" />
<line x1="284.01" y1="82.80" x2="285.81" y2="82.80" stroke="#555" stroke-width="0.8" />
<rect x="283.41" y="70.20" width="3.00" height="6.90" fill="#ac1433" rx="0.6"/>
<circle cx="284.39" cy="71.92" r="0.55" fill="#3a2a2a" opacity="0.6"/>
<circle cx="284.42" cy="75.38" r="0.55" fill="#3a2a2a" opacity="0.6"/>
<circle cx="285.48" cy="65.25" r="0.5" fill="#777" opacity="0.6"/>
<line x1="290.11" y1="65.10" x2="290.11" y2="67.00" stroke="#b9b9b9" stroke-width="0.7" />
<line x1="289.21" y1="65.10" x2="291.01" y2="65.10" stroke="#555" stroke-width="0.8" />
<line x1="290.11" y1="80.30" x2="290.11" y2="83.50" stroke="#b9b9b9" stroke-width="0.7" />
<line x1="289.21" y1="83.50" x2="291.01" y2="83.50" stroke="#555" stroke-width="0.8" />
<rect x="288.61" y="67.00" width="3.00" height="13.30" fill="#1b4584" rx="0.6"/>
<circle cx="290.54" cy="68.33" r="0.55" fill="#3a2a2a" opacity="0.6"/>
<circle cx="289.61" cy="70.99" r="0.55" fill="#3a2a2a" opacity="0.6"/>
<circle cx="290.57" cy="73.65" r="0.55" fill="#3a2a2a" opacity="0.6"/>
<circle cx="290.78" cy="76.31" r="0.55" fill="#3a2a2a" opacity="0.6"/>
<circle cx="290.33" cy="78.97" r="0.55" fill="#3a2a2a" opacity="0.6"/>
<rect x="297.02" y="66.40" width="3.00" height="6.90" fill="#f0a02a" rx="0.6"/>
<circle cx="298.31" cy="68.12" r="0.55" fill="#3a2a2a" opacity="0.6"/>
<circle cx="298.59" cy="71.58" r="0.55" fill="#3a2a2a" opacity="0.6"/>
<line x1="303.62" y1="79.30" x2="303.62" y2="93.60" stroke="#b9b9b9" stroke-width="0.7" />
<line x1="302.72" y1="93.60" x2="304.52" y2="93.60" stroke="#555" stroke-width="0.8" />
<rect x="302.12" y="66.40" width="3.00" height="12.90" fill="#ac1433" rx="0.6"/>
<circle cx="303.10" cy="68.01" r="0.55" fill="#3a2a2a" opacity="0.6"/>
<circle cx="302.94" cy="71.24" r="0.55" fill="#3a2a2a" opacity="0.6"/>
<circle cx="304.28" cy="74.46" r="0.55" fill="#3a2a2a" opacity="0.6"/>
<circle cx="303.83" cy="77.69" r="0.55" fill="#3a2a2a" opacity="0.6"/>
<circle cx="303.66" cy="86.95" r="0.5" fill="#777" opacity="0.6"/>
<rect x="307.32" y="66.40" width="3.00" height="12.60" fill="#1b4584" rx="0.6"/>
<circle cx="309.43" cy="67.98" r="0.55" fill="#3a2a2a" opacity="0.6"/>
<circle cx="308.73" cy="71.12" r="0.55" fill="#3a2a2a" opacity="0.6"/>
<circle cx="309.34" cy="74.28" r="0.55" fill="#3a2a2a" opacity="0.6"/>
<circle cx="309.28" cy="77.42" r="0.55" fill="#3a2a2a" opacity="0.6"/>
<rect x="315.73" y="69.80" width="3.00" height="1.90" fill="#f0a02a" rx="0.6"/>
<line x1="322.33" y1="65.10" x2="322.33" y2="66.00" stroke="#b9b9b9" stroke-width="0.7" />
<line x1="321.43" y1="65.10" x2="323.23" y2="65.10" stroke="#555" stroke-width="0.8" />
<line x1="322.33" y1="76.50" x2="322.33" y2="87.90" stroke="#b9b9b9" stroke-width="0.7" />
<line x1="321.43" y1="87.90" x2="323.23" y2="87.90" stroke="#555" stroke-width="0.8" />
<rect x="320.83" y="66.00" width="3.00" height="10.50" fill="#ac1433" rx="0.6"/>
<circle cx="321.93" cy="67.31" r="0.55" fill="#3a2a2a" opacity="0.6"/>
<circle cx="321.98" cy="69.94" r="0.55" fill="#3a2a2a" opacity="0.6"/>
<circle cx="322.04" cy="72.56" r="0.55" fill="#3a2a2a" opacity="0.6"/>
<circle cx="321.97" cy="75.19" r="0.55" fill="#3a2a2a" opacity="0.6"/>
<circle cx="322.45" cy="82.70" r="0.5" fill="#777" opacity="0.6"/>
<line x1="327.53" y1="63.20" x2="327.53" y2="76.50" stroke="#aaa" stroke-width="0.8" />
<line x1="326.63" y1="63.20" x2="328.43" y2="63.20" stroke="#555" stroke-width="0.8" />
<line x1="326.63" y1="76.50" x2="328.43" y2="76.50" stroke="#555" stroke-width="0.8" />
<line x1="326.63" y1="69.85" x2="328.43" y2="69.85" stroke="#777" stroke-width="0.7" />
<rect x="334.44" y="70.20" width="3.00" height="7.20" fill="#f0a02a" rx="0.6"/>
<circle cx="335.60" cy="72.00" r="0.55" fill="#3a2a2a" opacity="0.6"/>
<circle cx="335.83" cy="75.60" r="0.55" fill="#3a2a2a" opacity="0.6"/>
<line x1="341.04" y1="66.00" x2="341.04" y2="72.10" stroke="#b9b9b9" stroke-width="0.7" />
<line x1="340.14" y1="66.00" x2="341.94" y2="66.00" stroke="#555" stroke-width="0.8" />
<line x1="341.04" y1="77.10" x2="341.04" y2="92.60" stroke="#b9b9b9" stroke-width="0.7" />
<line x1="340.14" y1="92.60" x2="341.94" y2="92.60" stroke="#555" stroke-width="0.8" />
<rect x="339.54" y="72.10" width="3.00" height="5.00" fill="#ac1433" rx="0.6"/>
<circle cx="340.52" cy="74.60" r="0.55" fill="#3a2a2a" opacity="0.6"/>
<circle cx="341.61" cy="85.35" r="0.5" fill="#777" opacity="0.6"/>
<line x1="346.24" y1="59.40" x2="346.24" y2="61.30" stroke="#b9b9b9" stroke-width="0.7" />
<line x1="345.34" y1="59.40" x2="347.14" y2="59.40" stroke="#555" stroke-width="0.8" />
<line x1="346.24" y1="74.00" x2="346.24" y2="74.60" stroke="#b9b9b9" stroke-width="0.7" />
<line x1="345.34" y1="74.60" x2="347.14" y2="74.60" stroke="#555" stroke-width="0.8" />
<rect x="344.74" y="61.30" width="3.00" height="12.70" fill="#1b4584" rx="0.6"/>
<circle cx="346.04" cy="62.89" r="0.55" fill="#3a2a2a" opacity="0.6"/>
<circle cx="346.18" cy="66.06" r="0.55" fill="#3a2a2a" opacity="0.6"/>
<circle cx="346.36" cy="69.24" r="0.55" fill="#3a2a2a" opacity="0.6"/>
<circle cx="346.81" cy="72.41" r="0.55" fill="#3a2a2a" opacity="0.6"/>
<line x1="354.65" y1="66.00" x2="354.65" y2="75.90" stroke="#aaa" stroke-width="0.8" />
<line x1="353.75" y1="66.00" x2="355.55" y2="66.00" stroke="#555" stroke-width="0.8" />
<line x1="353.75" y1="75.90" x2="355.55" y2="75.90" stroke="#555" stroke-width="0.8" />
<line x1="353.75" y1="70.95" x2="355.55" y2="70.95" stroke="#777" stroke-width="0.7" />
<line x1="359.75" y1="63.80" x2="359.75" y2="68.90" stroke="#b9b9b9" stroke-width="0.7" />
<line x1="358.85" y1="63.80" x2="360.65" y2="63.80" stroke="#555" stroke-width="0.8" />
<line x1="359.75" y1="75.20" x2="359.75" y2="97.40" stroke="#b9b9b9" stroke-width="0.7" />
<line x1="358.85" y1="97.40" x2="360.65" y2="97.40" stroke="#555" stroke-width="0.8" />
<rect x="358.25" y="68.90" width="3.00" height="6.30" fill="#ac1433" rx="0.6"/>
<circle cx="359.64" cy="70.48" r="0.55" fill="#3a2a2a" opacity="0.6"/>
<circle cx="360.33" cy="73.62" r="0.55" fill="#3a2a2a" opacity="0.6"/>
<circle cx="359.75" cy="86.80" r="0.5" fill="#777" opacity="0.6"/>
<line x1="364.95" y1="59.40" x2="364.95" y2="61.30" stroke="#b9b9b9" stroke-width="0.7" />
<line x1="364.05" y1="59.40" x2="365.85" y2="59.40" stroke="#555" stroke-width="0.8" />
<line x1="364.95" y1="75.50" x2="364.95" y2="77.40" stroke="#b9b9b9" stroke-width="0.7" />
<line x1="364.05" y1="77.40" x2="365.85" y2="77.40" stroke="#555" stroke-width="0.8" />
<rect x="363.45" y="61.30" width="3.00" height="14.20" fill="#1b4584" rx="0.6"/>
<circle cx="364.99" cy="62.72" r="0.55" fill="#3a2a2a" opacity="0.6"/>
<circle cx="364.98" cy="65.56" r="0.55" fill="#3a2a2a" opacity="0.6"/>
<circle cx="364.28" cy="68.40" r="0.55" fill="#3a2a2a" opacity="0.6"/>
<circle cx="364.87" cy="71.24" r="0.55" fill="#3a2a2a" opacity="0.6"/>
<circle cx="364.51" cy="74.08" r="0.55" fill="#3a2a2a" opacity="0.6"/>
<rect x="371.86" y="63.80" width="3.00" height="5.10" fill="#f0a02a" rx="0.6"/>
<circle cx="372.67" cy="66.35" r="0.55" fill="#3a2a2a" opacity="0.6"/>
<line x1="378.46" y1="64.50" x2="378.46" y2="68.00" stroke="#b9b9b9" stroke-width="0.7" />
<line x1="377.56" y1="64.50" x2="379.36" y2="64.50" stroke="#555" stroke-width="0.8" />
<line x1="378.46" y1="75.50" x2="378.46" y2="88.40" stroke="#b9b9b9" stroke-width="0.7" />
<line x1="377.56" y1="88.40" x2="379.36" y2="88.40" stroke="#555" stroke-width="0.8" />
<rect x="376.96" y="68.00" width="3.00" height="7.50" fill="#ac1433" rx="0.6"/>
<circle cx="378.88" cy="69.88" r="0.55" fill="#3a2a2a" opacity="0.6"/>
<circle cx="378.00" cy="73.62" r="0.55" fill="#3a2a2a" opacity="0.6"/>
<circle cx="378.42" cy="82.45" r="0.5" fill="#777" opacity="0.6"/>
<line x1="383.66" y1="54.70" x2="383.66" y2="74.60" stroke="#aaa" stroke-width="0.8" />
<line x1="382.76" y1="54.70" x2="384.56" y2="54.70" stroke="#555" stroke-width="0.8" />
<line x1="382.76" y1="74.60" x2="384.56" y2="74.60" stroke="#555" stroke-width="0.8" />
<line x1="382.76" y1="64.65" x2="384.56" y2="64.65" stroke="#777" stroke-width="0.7" />
<line x1="392.07" y1="57.20" x2="392.07" y2="68.50" stroke="#aaa" stroke-width="0.8" />
<line x1="391.17" y1="57.20" x2="392.97" y2="57.20" stroke="#555" stroke-width="0.8" />
<line x1="391.17" y1="68.50" x2="392.97" y2="68.50" stroke="#555" stroke-width="0.8" />
<line x1="391.17" y1="62.85" x2="392.97" y2="62.85" stroke="#777" stroke-width="0.7" />
<line x1="397.17" y1="57.20" x2="397.17" y2="62.50" stroke="#b9b9b9" stroke-width="0.7" />
<line x1="396.27" y1="57.20" x2="398.07" y2="57.20" stroke="#555" stroke-width="0.8" />
<rect x="395.67" y="62.50" width="3.00" height="5.10" fill="#ac1433" rx="0.6"/>
<rect x="396.27" y="63.50" width="1.80" height="3.10" fill="#3a0812" opacity="0.55"/>
<line x1="402.37" y1="61.10" x2="402.37" y2="72.40" stroke="#aaa" stroke-width="0.8" />
<line x1="401.47" y1="61.10" x2="403.27" y2="61.10" stroke="#555" stroke-width="0.8" />
<line x1="401.47" y1="72.40" x2="403.27" y2="72.40" stroke="#555" stroke-width="0.8" />
<line x1="401.47" y1="66.75" x2="403.27" y2="66.75" stroke="#777" stroke-width="0.7" />
<line x1="410.78" y1="37.90" x2="410.78" y2="62.00" stroke="#aaa" stroke-width="0.8" />
<line x1="409.88" y1="37.90" x2="411.68" y2="37.90" stroke="#555" stroke-width="0.8" />
<line x1="409.88" y1="62.00" x2="411.68" y2="62.00" stroke="#555" stroke-width="0.8" />
<line x1="409.88" y1="49.95" x2="411.68" y2="49.95" stroke="#777" stroke-width="0.7" />
<line x1="415.88" y1="56.10" x2="415.88" y2="61.40" stroke="#b9b9b9" stroke-width="0.7" />
<line x1="414.98" y1="56.10" x2="416.78" y2="56.10" stroke="#555" stroke-width="0.8" />
<rect x="414.38" y="61.40" width="3.00" height="4.80" fill="#ac1433" rx="0.6"/>
<rect x="414.98" y="62.40" width="1.80" height="2.80" fill="#3a0812" opacity="0.55"/>
<line x1="421.08" y1="52.40" x2="421.08" y2="71.30" stroke="#aaa" stroke-width="0.8" />
<line x1="420.18" y1="52.40" x2="421.98" y2="52.40" stroke="#555" stroke-width="0.8" />
<line x1="420.18" y1="71.30" x2="421.98" y2="71.30" stroke="#555" stroke-width="0.8" />
<line x1="420.18" y1="61.85" x2="421.98" y2="61.85" stroke="#777" stroke-width="0.7" />
<line x1="429.49" y1="47.30" x2="429.49" y2="63.40" stroke="#aaa" stroke-width="0.8" />
<line x1="428.59" y1="47.30" x2="430.39" y2="47.30" stroke="#555" stroke-width="0.8" />
<line x1="428.59" y1="63.40" x2="430.39" y2="63.40" stroke="#555" stroke-width="0.8" />
<line x1="428.59" y1="55.35" x2="430.39" y2="55.35" stroke="#777" stroke-width="0.7" />
<line x1="434.59" y1="52.80" x2="434.59" y2="59.00" stroke="#b9b9b9" stroke-width="0.7" />
<line x1="433.69" y1="52.80" x2="435.49" y2="52.80" stroke="#555" stroke-width="0.8" />
<line x1="434.59" y1="62.50" x2="434.59" y2="65.50" stroke="#b9b9b9" stroke-width="0.7" />
<line x1="433.69" y1="65.50" x2="435.49" y2="65.50" stroke="#555" stroke-width="0.8" />
<rect x="433.09" y="59.00" width="3.00" height="3.50" fill="#ac1433" rx="0.6"/>
<rect x="433.69" y="60.00" width="1.80" height="1.50" fill="#3a0812" opacity="0.55"/>
<line x1="439.79" y1="57.20" x2="439.79" y2="69.90" stroke="#aaa" stroke-width="0.8" />
<line x1="438.89" y1="57.20" x2="440.69" y2="57.20" stroke="#555" stroke-width="0.8" />
<line x1="438.89" y1="69.90" x2="440.69" y2="69.90" stroke="#555" stroke-width="0.8" />
<line x1="438.89" y1="63.55" x2="440.69" y2="63.55" stroke="#777" stroke-width="0.7" />
<line x1="447.10" y1="61.10" x2="449.30" y2="61.10" stroke="#444" stroke-width="1.0" />
<line x1="453.30" y1="52.80" x2="453.30" y2="57.20" stroke="#b9b9b9" stroke-width="0.7" />
<line x1="452.40" y1="52.80" x2="454.20" y2="52.80" stroke="#555" stroke-width="0.8" />
<rect x="451.80" y="57.20" width="3.00" height="7.60" fill="#ac1433" rx="0.6"/>
<rect x="452.40" y="58.20" width="1.80" height="5.60" fill="#3a0812" opacity="0.55"/>
<line x1="457.40" y1="56.10" x2="459.60" y2="56.10" stroke="#444" stroke-width="1.0" />
<line x1="466.91" y1="55.10" x2="466.91" y2="65.50" stroke="#aaa" stroke-width="0.8" />
<line x1="466.01" y1="55.10" x2="467.81" y2="55.10" stroke="#555" stroke-width="0.8" />
<line x1="466.01" y1="65.50" x2="467.81" y2="65.50" stroke="#555" stroke-width="0.8" />
<line x1="466.01" y1="60.30" x2="467.81" y2="60.30" stroke="#777" stroke-width="0.7" />
<line x1="472.01" y1="53.80" x2="472.01" y2="56.90" stroke="#b9b9b9" stroke-width="0.7" />
<line x1="471.11" y1="53.80" x2="472.91" y2="53.80" stroke="#555" stroke-width="0.8" />
<line x1="472.01" y1="61.10" x2="472.01" y2="64.80" stroke="#b9b9b9" stroke-width="0.7" />
<line x1="471.11" y1="64.80" x2="472.91" y2="64.80" stroke="#555" stroke-width="0.8" />
<rect x="470.51" y="56.90" width="3.00" height="4.20" fill="#ac1433" rx="0.6"/>
<rect x="471.11" y="57.90" width="1.80" height="2.20" fill="#3a0812" opacity="0.55"/>
<line x1="476.11" y1="60.70" x2="478.31" y2="60.70" stroke="#444" stroke-width="1.0" />
<line x1="146.80" y1="77.75" x2="161.60" y2="77.75" stroke="#5a5a5a" stroke-width="1.05" />
<text x="154.00" y="78.80" font-size="6.5" text-anchor="middle" fill="#222" font-weight="bold" >*</text>
<line x1="146.80" y1="83.45" x2="156.30" y2="83.45" stroke="#5a5a5a" stroke-width="1.05" />
<text x="151.60" y="84.50" font-size="6.5" text-anchor="middle" fill="#222" font-weight="bold" >**</text>
<line x1="203.80" y1="62.15" x2="212.40" y2="62.15" stroke="#5a5a5a" stroke-width="1.05" />
<text x="208.20" y="63.10" font-size="6.5" text-anchor="middle" fill="#222" font-weight="bold" >*</text>
<rect x="370.50" y="130.50" width="5.70" height="5.50" fill="#f3960e" />
<text x="379.50" y="135.00" font-size="6.5" text-anchor="start" fill="#383838" font-weight="normal" stroke="#383838" stroke-width="0.1" textLength="99" lengthAdjust="spacingAndGlyphs">PTCy 50 mg/kg/day on days +3/+4</text>
<rect x="370.50" y="140.90" width="5.70" height="5.50" fill="#c3102f" />
<text x="379.50" y="145.40" font-size="6.5" text-anchor="start" fill="#383838" font-weight="normal" stroke="#383838" stroke-width="0.1" textLength="99" lengthAdjust="spacingAndGlyphs">PTCy 25 mg/kg/day on days +3/+4</text>
<rect x="370.50" y="151.10" width="5.70" height="5.50" fill="#184280" />
<text x="379.50" y="155.60" font-size="6.5" text-anchor="start" fill="#383838" font-weight="normal" stroke="#383838" stroke-width="0.1" textLength="72.8" lengthAdjust="spacingAndGlyphs">PTCy 25 mg/kg on day +4</text>
<text x="40.50" y="96.20" font-size="7.6" text-anchor="middle" fill="#222" stroke="#222" stroke-width="0.2" letter-spacing="0.3" font-weight="normal" textLength="61.2" lengthAdjust="spacingAndGlyphs" transform="rotate(-90 40.50 96.20)">CD4<tspan font-size="5" dy="-2.6">+</tspan><tspan dy="2.6"> T cells (cells/µL)</tspan></text>
<text x="275.50" y="186.60" font-size="8.4" text-anchor="middle" fill="#222" stroke="#222" stroke-width="0.3" letter-spacing="0.8" font-weight="normal" textLength="38.2" lengthAdjust="spacingAndGlyphs" >Days post-HCT</text>
<line x1="70.60" y1="222.20" x2="70.60" y2="356.90" stroke="#181818" stroke-width="1.15" />
<line x1="70.10" y1="356.40" x2="480.40" y2="356.40" stroke="#181818" stroke-width="1.15" />
<line x1="67.80" y1="224.00" x2="70.60" y2="224.00" stroke="#181818" stroke-width="0.9" />
<text x="64.90" y="226.30" font-size="6.5" text-anchor="end" fill="#383838" font-weight="normal" stroke="#383838" stroke-width="0.1" >10000</text>
<line x1="67.80" y1="242.90" x2="70.60" y2="242.90" stroke="#181818" stroke-width="0.9" />
<text x="64.90" y="245.20" font-size="6.5" text-anchor="end" fill="#383838" font-weight="normal" stroke="#383838" stroke-width="0.1" >1000</text>
<line x1="67.80" y1="261.80" x2="70.60" y2="261.80" stroke="#181818" stroke-width="0.9" />
<text x="64.90" y="264.10" font-size="6.5" text-anchor="end" fill="#383838" font-weight="normal" stroke="#383838" stroke-width="0.1" >100</text>
<line x1="67.80" y1="280.70" x2="70.60" y2="280.70" stroke="#181818" stroke-width="0.9" />
<text x="64.90" y="283.00" font-size="6.5" text-anchor="end" fill="#383838" font-weight="normal" stroke="#383838" stroke-width="0.1" >10</text>
<line x1="67.80" y1="299.60" x2="70.60" y2="299.60" stroke="#181818" stroke-width="0.9" />
<text x="64.90" y="301.90" font-size="6.5" text-anchor="end" fill="#383838" font-weight="normal" stroke="#383838" stroke-width="0.1" >1</text>
<line x1="67.80" y1="318.50" x2="70.60" y2="318.50" stroke="#181818" stroke-width="0.9" />
<text x="64.90" y="320.80" font-size="6.5" text-anchor="end" fill="#383838" font-weight="normal" stroke="#383838" stroke-width="0.1" >0.1</text>
<line x1="67.80" y1="337.40" x2="70.60" y2="337.40" stroke="#181818" stroke-width="0.9" />
<text x="64.90" y="339.70" font-size="6.5" text-anchor="end" fill="#383838" font-weight="normal" stroke="#383838" stroke-width="0.1" >0.01</text>
<line x1="67.80" y1="356.30" x2="70.60" y2="356.30" stroke="#181818" stroke-width="0.9" />
<text x="64.90" y="358.60" font-size="6.5" text-anchor="end" fill="#383838" font-weight="normal" stroke="#383838" stroke-width="0.1" >0.001</text>
<line x1="79.20" y1="356.40" x2="79.20" y2="359.50" stroke="#181818" stroke-width="0.9" />
<text x="79.20" y="367.60" font-size="6.5" text-anchor="middle" fill="#383838" font-weight="normal" stroke="#383838" stroke-width="0.1" >3</text>
<line x1="97.91" y1="356.40" x2="97.91" y2="359.50" stroke="#181818" stroke-width="0.9" />
<text x="97.91" y="367.60" font-size="6.5" text-anchor="middle" fill="#383838" font-weight="normal" stroke="#383838" stroke-width="0.1" >4</text>
<line x1="116.62" y1="356.40" x2="116.62" y2="359.50" stroke="#181818" stroke-width="0.9" />
<text x="116.62" y="367.60" font-size="6.5" text-anchor="middle" fill="#383838" font-weight="normal" stroke="#383838" stroke-width="0.1" >5</text>
<line x1="135.33" y1="356.40" x2="135.33" y2="359.50" stroke="#181818" stroke-width="0.9" />
<text x="135.33" y="367.60" font-size="6.5" text-anchor="middle" fill="#383838" font-weight="normal" stroke="#383838" stroke-width="0.1" >7</text>
<line x1="154.04" y1="356.40" x2="154.04" y2="359.50" stroke="#181818" stroke-width="0.9" />
<text x="154.04" y="367.60" font-size="6.5" text-anchor="middle" fill="#383838" font-weight="normal" stroke="#383838" stroke-width="0.1" >14</text>
<line x1="172.75" y1="356.40" x2="172.75" y2="359.50" stroke="#181818" stroke-width="0.9" />
<text x="172.75" y="367.60" font-size="6.5" text-anchor="middle" fill="#383838" font-weight="normal" stroke="#383838" stroke-width="0.1" >21</text>
<line x1="191.46" y1="356.40" x2="191.46" y2="359.50" stroke="#181818" stroke-width="0.9" />
<text x="191.46" y="367.60" font-size="6.5" text-anchor="middle" fill="#383838" font-weight="normal" stroke="#383838" stroke-width="0.1" >28</text>
<line x1="210.17" y1="356.40" x2="210.17" y2="359.50" stroke="#181818" stroke-width="0.9" />
<text x="210.17" y="367.60" font-size="6.5" text-anchor="middle" fill="#383838" font-weight="normal" stroke="#383838" stroke-width="0.1" >35</text>
<line x1="228.88" y1="356.40" x2="228.88" y2="359.50" stroke="#181818" stroke-width="0.9" />
<text x="228.88" y="367.60" font-size="6.5" text-anchor="middle" fill="#383838" font-weight="normal" stroke="#383838" stroke-width="0.1" >42</text>
<line x1="247.59" y1="356.40" x2="247.59" y2="359.50" stroke="#181818" stroke-width="0.9" />
<text x="247.59" y="367.60" font-size="6.5" text-anchor="middle" fill="#383838" font-weight="normal" stroke="#383838" stroke-width="0.1" >49</text>
<line x1="266.30" y1="356.40" x2="266.30" y2="359.50" stroke="#181818" stroke-width="0.9" />
<text x="266.30" y="367.60" font-size="6.5" text-anchor="middle" fill="#383838" font-weight="normal" stroke="#383838" stroke-width="0.1" >56</text>
<line x1="285.01" y1="356.40" x2="285.01" y2="359.50" stroke="#181818" stroke-width="0.9" />
<text x="285.01" y="367.60" font-size="6.5" text-anchor="middle" fill="#383838" font-weight="normal" stroke="#383838" stroke-width="0.1" >63</text>
<line x1="303.72" y1="356.40" x2="303.72" y2="359.50" stroke="#181818" stroke-width="0.9" />
<text x="303.72" y="367.60" font-size="6.5" text-anchor="middle" fill="#383838" font-weight="normal" stroke="#383838" stroke-width="0.1" >70</text>
<line x1="322.43" y1="356.40" x2="322.43" y2="359.50" stroke="#181818" stroke-width="0.9" />
<text x="322.43" y="367.60" font-size="6.5" text-anchor="middle" fill="#383838" font-weight="normal" stroke="#383838" stroke-width="0.1" >77</text>
<line x1="341.14" y1="356.40" x2="341.14" y2="359.50" stroke="#181818" stroke-width="0.9" />
<text x="341.14" y="367.60" font-size="6.5" text-anchor="middle" fill="#383838" font-weight="normal" stroke="#383838" stroke-width="0.1" >84</text>
<line x1="359.85" y1="356.40" x2="359.85" y2="359.50" stroke="#181818" stroke-width="0.9" />
<text x="359.85" y="367.60" font-size="6.5" text-anchor="middle" fill="#383838" font-weight="normal" stroke="#383838" stroke-width="0.1" >91</text>
<line x1="378.56" y1="356.40" x2="378.56" y2="359.50" stroke="#181818" stroke-width="0.9" />
<text x="378.56" y="367.60" font-size="6.5" text-anchor="middle" fill="#383838" font-weight="normal" stroke="#383838" stroke-width="0.1" >98</text>
<line x1="397.27" y1="356.40" x2="397.27" y2="359.50" stroke="#181818" stroke-width="0.9" />
<text x="397.27" y="367.60" font-size="6.5" text-anchor="middle" fill="#383838" font-weight="normal" stroke="#383838" stroke-width="0.1" >180</text>
<line x1="415.98" y1="356.40" x2="415.98" y2="359.50" stroke="#181818" stroke-width="0.9" />
<text x="415.98" y="367.60" font-size="6.5" text-anchor="middle" fill="#383838" font-weight="normal" stroke="#383838" stroke-width="0.1" >270</text>
<line x1="434.69" y1="356.40" x2="434.69" y2="359.50" stroke="#181818" stroke-width="0.9" />
<text x="434.69" y="367.60" font-size="6.5" text-anchor="middle" fill="#383838" font-weight="normal" stroke="#383838" stroke-width="0.1" >365</text>
<line x1="453.40" y1="356.40" x2="453.40" y2="359.50" stroke="#181818" stroke-width="0.9" />
<text x="453.40" y="367.60" font-size="6.5" text-anchor="middle" fill="#383838" font-weight="normal" stroke="#383838" stroke-width="0.1" >545</text>
<line x1="472.11" y1="356.40" x2="472.11" y2="359.50" stroke="#181818" stroke-width="0.9" />
<text x="472.11" y="367.60" font-size="6.5" text-anchor="middle" fill="#383838" font-weight="normal" stroke="#383838" stroke-width="0.1" >730</text>
<line x1="74.00" y1="261.80" x2="74.00" y2="264.20" stroke="#b9b9b9" stroke-width="0.7" />
<line x1="73.10" y1="261.80" x2="74.90" y2="261.80" stroke="#555" stroke-width="0.8" />
<line x1="74.00" y1="293.30" x2="74.00" y2="309.20" stroke="#b9b9b9" stroke-width="0.7" />
<line x1="73.10" y1="309.20" x2="74.90" y2="309.20" stroke="#555" stroke-width="0.8" />
<rect x="72.50" y="264.20" width="3.00" height="29.10" fill="#f0a02a" rx="0.6"/>
<circle cx="74.32" cy="265.52" r="0.55" fill="#3a2a2a" opacity="0.6"/>
<circle cx="74.08" cy="268.17" r="0.55" fill="#3a2a2a" opacity="0.6"/>
<circle cx="73.76" cy="270.81" r="0.55" fill="#3a2a2a" opacity="0.6"/>
<circle cx="74.03" cy="273.46" r="0.55" fill="#3a2a2a" opacity="0.6"/>
<circle cx="74.08" cy="276.10" r="0.55" fill="#3a2a2a" opacity="0.6"/>
<circle cx="74.40" cy="278.75" r="0.55" fill="#3a2a2a" opacity="0.6"/>
<circle cx="73.45" cy="281.40" r="0.55" fill="#3a2a2a" opacity="0.6"/>
<circle cx="74.08" cy="284.04" r="0.55" fill="#3a2a2a" opacity="0.6"/>
<circle cx="73.65" cy="286.69" r="0.55" fill="#3a2a2a" opacity="0.6"/>
<circle cx="73.69" cy="289.33" r="0.55" fill="#3a2a2a" opacity="0.6"/>
<circle cx="74.38" cy="291.98" r="0.55" fill="#3a2a2a" opacity="0.6"/>
<circle cx="74.01" cy="301.75" r="0.5" fill="#777" opacity="0.6"/>
<line x1="79.10" y1="260.40" x2="79.10" y2="278.50" stroke="#b9b9b9" stroke-width="0.7" />
<line x1="78.20" y1="260.40" x2="80.00" y2="260.40" stroke="#555" stroke-width="0.8" />
<line x1="79.10" y1="300.30" x2="79.10" y2="327.80" stroke="#b9b9b9" stroke-width="0.7" />
<line x1="78.20" y1="327.80" x2="80.00" y2="327.80" stroke="#555" stroke-width="0.8" />
<rect x="77.60" y="278.50" width="3.00" height="21.80" fill="#ac1433" rx="0.6"/>
<circle cx="79.19" cy="279.86" r="0.55" fill="#3a2a2a" opacity="0.6"/>
<circle cx="79.46" cy="282.59" r="0.55" fill="#3a2a2a" opacity="0.6"/>
<circle cx="79.68" cy="285.31" r="0.55" fill="#3a2a2a" opacity="0.6"/>
<circle cx="79.02" cy="288.04" r="0.55" fill="#3a2a2a" opacity="0.6"/>
<circle cx="79.26" cy="290.76" r="0.55" fill="#3a2a2a" opacity="0.6"/>
<circle cx="79.11" cy="293.49" r="0.55" fill="#3a2a2a" opacity="0.6"/>
<circle cx="79.12" cy="296.21" r="0.55" fill="#3a2a2a" opacity="0.6"/>
<circle cx="79.37" cy="298.94" r="0.55" fill="#3a2a2a" opacity="0.6"/>
<circle cx="79.03" cy="314.55" r="0.5" fill="#777" opacity="0.6"/>
<circle cx="79.15" cy="268.95" r="0.5" fill="#777" opacity="0.6"/>
<line x1="84.30" y1="256.60" x2="84.30" y2="262.30" stroke="#b9b9b9" stroke-width="0.7" />
<line x1="83.40" y1="256.60" x2="85.20" y2="256.60" stroke="#555" stroke-width="0.8" />
<line x1="84.30" y1="297.10" x2="84.30" y2="299.00" stroke="#b9b9b9" stroke-width="0.7" />
<line x1="83.40" y1="299.00" x2="85.20" y2="299.00" stroke="#555" stroke-width="0.8" />
<rect x="82.80" y="262.30" width="3.00" height="34.80" fill="#1b4584" rx="0.6"/>
<circle cx="84.27" cy="263.64" r="0.55" fill="#3a2a2a" opacity="0.6"/>
<circle cx="84.92" cy="266.32" r="0.55" fill="#3a2a2a" opacity="0.6"/>
<circle cx="84.58" cy="268.99" r="0.55" fill="#3a2a2a" opacity="0.6"/>
<circle cx="84.83" cy="271.67" r="0.55" fill="#3a2a2a" opacity="0.6"/>
<circle cx="84.92" cy="274.35" r="0.55" fill="#3a2a2a" opacity="0.6"/>
<circle cx="83.96" cy="277.02" r="0.55" fill="#3a2a2a" opacity="0.6"/>
<circle cx="84.38" cy="279.70" r="0.55" fill="#3a2a2a" opacity="0.6"/>
<circle cx="84.92" cy="282.38" r="0.55" fill="#3a2a2a" opacity="0.6"/>
<circle cx="84.78" cy="285.05" r="0.55" fill="#3a2a2a" opacity="0.6"/>
<circle cx="83.79" cy="287.73" r="0.55" fill="#3a2a2a" opacity="0.6"/>
<circle cx="83.77" cy="290.41" r="0.55" fill="#3a2a2a" opacity="0.6"/>
<circle cx="84.22" cy="293.08" r="0.55" fill="#3a2a2a" opacity="0.6"/>
<circle cx="83.70" cy="295.76" r="0.55" fill="#3a2a2a" opacity="0.6"/>
<line x1="92.71" y1="304.60" x2="92.71" y2="309.20" stroke="#b9b9b9" stroke-width="0.7" />
<line x1="91.81" y1="309.20" x2="93.61" y2="309.20" stroke="#555" stroke-width="0.8" />
<rect x="91.21" y="272.40" width="3.00" height="32.20" fill="#f0a02a" rx="0.6"/>
<circle cx="92.35" cy="273.74" r="0.55" fill="#3a2a2a" opacity="0.6"/>
<circle cx="92.11" cy="276.42" r="0.55" fill="#3a2a2a" opacity="0.6"/>
<circle cx="92.95" cy="279.11" r="0.55" fill="#3a2a2a" opacity="0.6"/>
<circle cx="93.11" cy="281.79" r="0.55" fill="#3a2a2a" opacity="0.6"/>
<circle cx="93.27" cy="284.48" r="0.55" fill="#3a2a2a" opacity="0.6"/>
<circle cx="92.23" cy="287.16" r="0.55" fill="#3a2a2a" opacity="0.6"/>
<circle cx="93.01" cy="289.84" r="0.55" fill="#3a2a2a" opacity="0.6"/>
<circle cx="92.93" cy="292.52" r="0.55" fill="#3a2a2a" opacity="0.6"/>
<circle cx="92.21" cy="295.21" r="0.55" fill="#3a2a2a" opacity="0.6"/>
<circle cx="93.25" cy="297.89" r="0.55" fill="#3a2a2a" opacity="0.6"/>
<circle cx="93.36" cy="300.58" r="0.55" fill="#3a2a2a" opacity="0.6"/>
<circle cx="92.32" cy="303.26" r="0.55" fill="#3a2a2a" opacity="0.6"/>
<line x1="97.81" y1="272.40" x2="97.81" y2="280.00" stroke="#b9b9b9" stroke-width="0.7" />
<line x1="96.91" y1="272.40" x2="98.71" y2="272.40" stroke="#555" stroke-width="0.8" />
<line x1="97.81" y1="297.10" x2="97.81" y2="307.90" stroke="#b9b9b9" stroke-width="0.7" />
<line x1="96.91" y1="307.90" x2="98.71" y2="307.90" stroke="#555" stroke-width="0.8" />
<rect x="96.31" y="280.00" width="3.00" height="17.10" fill="#ac1433" rx="0.6"/>
<circle cx="98.44" cy="281.43" r="0.55" fill="#3a2a2a" opacity="0.6"/>
<circle cx="97.67" cy="284.27" r="0.55" fill="#3a2a2a" opacity="0.6"/>
<circle cx="97.79" cy="287.12" r="0.55" fill="#3a2a2a" opacity="0.6"/>
<circle cx="98.50" cy="289.98" r="0.55" fill="#3a2a2a" opacity="0.6"/>
<circle cx="98.28" cy="292.83" r="0.55" fill="#3a2a2a" opacity="0.6"/>
<circle cx="97.34" cy="295.68" r="0.55" fill="#3a2a2a" opacity="0.6"/>
<circle cx="97.71" cy="303.00" r="0.5" fill="#777" opacity="0.6"/>
<line x1="103.01" y1="264.80" x2="103.01" y2="269.90" stroke="#b9b9b9" stroke-width="0.7" />
<line x1="102.11" y1="264.80" x2="103.91" y2="264.80" stroke="#555" stroke-width="0.8" />
<line x1="103.01" y1="289.50" x2="103.01" y2="294.00" stroke="#b9b9b9" stroke-width="0.7" />
<line x1="102.11" y1="294.00" x2="103.91" y2="294.00" stroke="#555" stroke-width="0.8" />
<rect x="101.51" y="269.90" width="3.00" height="19.60" fill="#1b4584" rx="0.6"/>
<circle cx="103.03" cy="271.30" r="0.55" fill="#3a2a2a" opacity="0.6"/>
<circle cx="102.78" cy="274.10" r="0.55" fill="#3a2a2a" opacity="0.6"/>
<circle cx="102.58" cy="276.90" r="0.55" fill="#3a2a2a" opacity="0.6"/>
<circle cx="102.76" cy="279.70" r="0.55" fill="#3a2a2a" opacity="0.6"/>
<circle cx="103.32" cy="282.50" r="0.55" fill="#3a2a2a" opacity="0.6"/>
<circle cx="102.34" cy="285.30" r="0.55" fill="#3a2a2a" opacity="0.6"/>
<circle cx="103.09" cy="288.10" r="0.55" fill="#3a2a2a" opacity="0.6"/>
<line x1="111.42" y1="276.20" x2="111.42" y2="279.40" stroke="#b9b9b9" stroke-width="0.7" />
<line x1="110.52" y1="276.20" x2="112.32" y2="276.20" stroke="#555" stroke-width="0.8" />
<line x1="111.42" y1="297.10" x2="111.42" y2="302.20" stroke="#b9b9b9" stroke-width="0.7" />
<line x1="110.52" y1="302.20" x2="112.32" y2="302.20" stroke="#555" stroke-width="0.8" />
<rect x="109.92" y="279.40" width="3.00" height="17.70" fill="#f0a02a" rx="0.6"/>
<circle cx="111.34" cy="280.88" r="0.55" fill="#3a2a2a" opacity="0.6"/>
<circle cx="110.75" cy="283.82" r="0.55" fill="#3a2a2a" opacity="0.6"/>
<circle cx="111.18" cy="286.77" r="0.55" fill="#3a2a2a" opacity="0.6"/>
<circle cx="111.59" cy="289.73" r="0.55" fill="#3a2a2a" opacity="0.6"/>
<circle cx="111.44" cy="292.68" r="0.55" fill="#3a2a2a" opacity="0.6"/>
<circle cx="110.81" cy="295.62" r="0.55" fill="#3a2a2a" opacity="0.6"/>
<line x1="116.52" y1="272.40" x2="116.52" y2="283.80" stroke="#b9b9b9" stroke-width="0.7" />
<line x1="115.62" y1="272.40" x2="117.42" y2="272.40" stroke="#555" stroke-width="0.8" />
<line x1="116.52" y1="295.90" x2="116.52" y2="325.90" stroke="#b9b9b9" stroke-width="0.7" />
<line x1="115.62" y1="325.90" x2="117.42" y2="325.90" stroke="#555" stroke-width="0.8" />
<rect x="115.02" y="283.80" width="3.00" height="12.10" fill="#ac1433" rx="0.6"/>
<circle cx="117.20" cy="285.31" r="0.55" fill="#3a2a2a" opacity="0.6"/>
<circle cx="116.92" cy="288.34" r="0.55" fill="#3a2a2a" opacity="0.6"/>
<circle cx="117.18" cy="291.36" r="0.55" fill="#3a2a2a" opacity="0.6"/>
<circle cx="115.97" cy="294.39" r="0.55" fill="#3a2a2a" opacity="0.6"/>
<circle cx="116.19" cy="304.65" r="0.5" fill="#777" opacity="0.6"/>
<circle cx="115.88" cy="318.15" r="0.5" fill="#777" opacity="0.6"/>
<circle cx="116.91" cy="277.60" r="0.5" fill="#777" opacity="0.6"/>
<line x1="121.72" y1="293.60" x2="121.72" y2="295.90" stroke="#b9b9b9" stroke-width="0.7" />
<line x1="120.82" y1="295.90" x2="122.62" y2="295.90" stroke="#555" stroke-width="0.8" />
<rect x="120.22" y="281.90" width="3.00" height="11.70" fill="#1b4584" rx="0.6"/>
<circle cx="121.40" cy="283.36" r="0.55" fill="#3a2a2a" opacity="0.6"/>
<circle cx="121.20" cy="286.29" r="0.55" fill="#3a2a2a" opacity="0.6"/>
<circle cx="121.61" cy="289.21" r="0.55" fill="#3a2a2a" opacity="0.6"/>
<circle cx="122.30" cy="292.14" r="0.55" fill="#3a2a2a" opacity="0.6"/>
<line x1="130.13" y1="286.50" x2="130.13" y2="291.10" stroke="#b9b9b9" stroke-width="0.7" />
<line x1="129.23" y1="286.50" x2="131.03" y2="286.50" stroke="#555" stroke-width="0.8" />
<line x1="130.13" y1="317.70" x2="130.13" y2="318.80" stroke="#b9b9b9" stroke-width="0.7" />
<line x1="129.23" y1="318.80" x2="131.03" y2="318.80" stroke="#555" stroke-width="0.8" />
<rect x="128.63" y="291.10" width="3.00" height="26.60" fill="#f0a02a" rx="0.6"/>
<circle cx="130.58" cy="292.43" r="0.55" fill="#3a2a2a" opacity="0.6"/>
<circle cx="129.79" cy="295.09" r="0.55" fill="#3a2a2a" opacity="0.6"/>
<circle cx="129.64" cy="297.75" r="0.55" fill="#3a2a2a" opacity="0.6"/>
<circle cx="130.72" cy="300.41" r="0.55" fill="#3a2a2a" opacity="0.6"/>
<circle cx="130.23" cy="303.07" r="0.55" fill="#3a2a2a" opacity="0.6"/>
<circle cx="130.41" cy="305.73" r="0.55" fill="#3a2a2a" opacity="0.6"/>
<circle cx="129.56" cy="308.39" r="0.55" fill="#3a2a2a" opacity="0.6"/>
<circle cx="129.51" cy="311.05" r="0.55" fill="#3a2a2a" opacity="0.6"/>
<circle cx="130.39" cy="313.71" r="0.55" fill="#3a2a2a" opacity="0.6"/>
<circle cx="130.03" cy="316.37" r="0.55" fill="#3a2a2a" opacity="0.6"/>
<line x1="135.23" y1="278.40" x2="135.23" y2="289.80" stroke="#b9b9b9" stroke-width="0.7" />
<line x1="134.33" y1="278.40" x2="136.13" y2="278.40" stroke="#555" stroke-width="0.8" />
<line x1="135.23" y1="305.50" x2="135.23" y2="318.20" stroke="#b9b9b9" stroke-width="0.7" />
<line x1="134.33" y1="318.20" x2="136.13" y2="318.20" stroke="#555" stroke-width="0.8" />
<rect x="133.73" y="289.80" width="3.00" height="15.70" fill="#ac1433" rx="0.6"/>
<circle cx="134.63" cy="291.11" r="0.55" fill="#3a2a2a" opacity="0.6"/>
<circle cx="135.84" cy="293.73" r="0.55" fill="#3a2a2a" opacity="0.6"/>
<circle cx="135.42" cy="296.34" r="0.55" fill="#3a2a2a" opacity="0.6"/>
<circle cx="135.65" cy="298.96" r="0.55" fill="#3a2a2a" opacity="0.6"/>
<circle cx="134.65" cy="301.57" r="0.55" fill="#3a2a2a" opacity="0.6"/>
<circle cx="135.73" cy="304.19" r="0.55" fill="#3a2a2a" opacity="0.6"/>
<circle cx="134.62" cy="312.35" r="0.5" fill="#777" opacity="0.6"/>
<circle cx="135.74" cy="283.60" r="0.5" fill="#777" opacity="0.6"/>
<line x1="140.43" y1="280.90" x2="140.43" y2="286.00" stroke="#b9b9b9" stroke-width="0.7" />
<line x1="139.53" y1="280.90" x2="141.33" y2="280.90" stroke="#555" stroke-width="0.8" />
<line x1="140.43" y1="304.00" x2="140.43" y2="309.30" stroke="#b9b9b9" stroke-width="0.7" />
<line x1="139.53" y1="309.30" x2="141.33" y2="309.30" stroke="#555" stroke-width="0.8" />
<rect x="138.93" y="286.00" width="3.00" height="18.00" fill="#1b4584" rx="0.6"/>
<circle cx="140.37" cy="287.50" r="0.55" fill="#3a2a2a" opacity="0.6"/>
<circle cx="140.20" cy="290.50" r="0.55" fill="#3a2a2a" opacity="0.6"/>
<circle cx="140.50" cy="293.50" r="0.55" fill="#3a2a2a" opacity="0.6"/>
<circle cx="141.03" cy="296.50" r="0.55" fill="#3a2a2a" opacity="0.6"/>
<circle cx="140.11" cy="299.50" r="0.55" fill="#3a2a2a" opacity="0.6"/>
<circle cx="139.91" cy="302.50" r="0.55" fill="#3a2a2a" opacity="0.6"/>
<line x1="148.84" y1="309.20" x2="148.84" y2="311.50" stroke="#b9b9b9" stroke-width="0.7" />
<line x1="147.94" y1="309.20" x2="149.74" y2="309.20" stroke="#555" stroke-width="0.8" />
<line x1="148.84" y1="329.40" x2="148.84" y2="331.40" stroke="#b9b9b9" stroke-width="0.7" />
<line x1="147.94" y1="331.40" x2="149.74" y2="331.40" stroke="#555" stroke-width="0.8" />
<rect x="147.34" y="311.50" width="3.00" height="17.90" fill="#f0a02a" rx="0.6"/>
<circle cx="148.88" cy="312.99" r="0.55" fill="#3a2a2a" opacity="0.6"/>
<circle cx="148.47" cy="315.98" r="0.55" fill="#3a2a2a" opacity="0.6"/>
<circle cx="148.29" cy="318.96" r="0.55" fill="#3a2a2a" opacity="0.6"/>
<circle cx="148.37" cy="321.94" r="0.55" fill="#3a2a2a" opacity="0.6"/>
<circle cx="148.21" cy="324.92" r="0.55" fill="#3a2a2a" opacity="0.6"/>
<circle cx="148.42" cy="327.91" r="0.55" fill="#3a2a2a" opacity="0.6"/>
<line x1="153.94" y1="271.40" x2="153.94" y2="281.20" stroke="#b9b9b9" stroke-width="0.7" />
<line x1="153.04" y1="271.40" x2="154.84" y2="271.40" stroke="#555" stroke-width="0.8" />
<line x1="153.94" y1="293.60" x2="153.94" y2="337.50" stroke="#b9b9b9" stroke-width="0.7" />
<line x1="153.04" y1="337.50" x2="154.84" y2="337.50" stroke="#555" stroke-width="0.8" />
<rect x="152.44" y="281.20" width="3.00" height="12.40" fill="#ac1433" rx="0.6"/>
<circle cx="153.68" cy="282.75" r="0.55" fill="#3a2a2a" opacity="0.6"/>
<circle cx="153.67" cy="285.85" r="0.55" fill="#3a2a2a" opacity="0.6"/>
<circle cx="154.30" cy="288.95" r="0.55" fill="#3a2a2a" opacity="0.6"/>
<circle cx="153.65" cy="292.05" r="0.55" fill="#3a2a2a" opacity="0.6"/>
<circle cx="153.94" cy="302.42" r="0.5" fill="#777" opacity="0.6"/>
<circle cx="153.49" cy="316.05" r="0.5" fill="#777" opacity="0.6"/>
<circle cx="153.73" cy="329.68" r="0.5" fill="#777" opacity="0.6"/>
<circle cx="153.27" cy="275.80" r="0.5" fill="#777" opacity="0.6"/>
<rect x="157.64" y="281.60" width="3.00" height="17.70" fill="#1b4584" rx="0.6"/>
<circle cx="158.79" cy="283.08" r="0.55" fill="#3a2a2a" opacity="0.6"/>
<circle cx="158.46" cy="286.03" r="0.55" fill="#3a2a2a" opacity="0.6"/>
<circle cx="159.47" cy="288.98" r="0.55" fill="#3a2a2a" opacity="0.6"/>
<circle cx="159.21" cy="291.93" r="0.55" fill="#3a2a2a" opacity="0.6"/>
<circle cx="158.71" cy="294.88" r="0.55" fill="#3a2a2a" opacity="0.6"/>
<circle cx="159.10" cy="297.82" r="0.55" fill="#3a2a2a" opacity="0.6"/>
<line x1="167.55" y1="279.00" x2="167.55" y2="284.10" stroke="#b9b9b9" stroke-width="0.7" />
<line x1="166.65" y1="279.00" x2="168.45" y2="279.00" stroke="#555" stroke-width="0.8" />
<line x1="167.55" y1="303.10" x2="167.55" y2="304.00" stroke="#b9b9b9" stroke-width="0.7" />
<line x1="166.65" y1="304.00" x2="168.45" y2="304.00" stroke="#555" stroke-width="0.8" />
<rect x="166.05" y="284.10" width="3.00" height="19.00" fill="#f0a02a" rx="0.6"/>
<circle cx="168.16" cy="285.46" r="0.55" fill="#3a2a2a" opacity="0.6"/>
<circle cx="167.00" cy="288.17" r="0.55" fill="#3a2a2a" opacity="0.6"/>
<circle cx="168.00" cy="290.89" r="0.55" fill="#3a2a2a" opacity="0.6"/>
<circle cx="167.46" cy="293.60" r="0.55" fill="#3a2a2a" opacity="0.6"/>
<circle cx="167.54" cy="296.31" r="0.55" fill="#3a2a2a" opacity="0.6"/>
<circle cx="168.02" cy="299.03" r="0.55" fill="#3a2a2a" opacity="0.6"/>
<circle cx="167.40" cy="301.74" r="0.55" fill="#3a2a2a" opacity="0.6"/>
<line x1="172.65" y1="254.30" x2="172.65" y2="262.60" stroke="#b9b9b9" stroke-width="0.7" />
<line x1="171.75" y1="254.30" x2="173.55" y2="254.30" stroke="#555" stroke-width="0.8" />
<line x1="172.65" y1="282.80" x2="172.65" y2="314.40" stroke="#b9b9b9" stroke-width="0.7" />
<line x1="171.75" y1="314.40" x2="173.55" y2="314.40" stroke="#555" stroke-width="0.8" />
<rect x="171.15" y="262.60" width="3.00" height="20.20" fill="#ac1433" rx="0.6"/>
<circle cx="172.66" cy="264.04" r="0.55" fill="#3a2a2a" opacity="0.6"/>
<circle cx="172.91" cy="266.93" r="0.55" fill="#3a2a2a" opacity="0.6"/>
<circle cx="173.33" cy="269.81" r="0.55" fill="#3a2a2a" opacity="0.6"/>
<circle cx="172.43" cy="272.70" r="0.55" fill="#3a2a2a" opacity="0.6"/>
<circle cx="173.12" cy="275.59" r="0.55" fill="#3a2a2a" opacity="0.6"/>
<circle cx="172.94" cy="278.47" r="0.55" fill="#3a2a2a" opacity="0.6"/>
<circle cx="172.84" cy="281.36" r="0.55" fill="#3a2a2a" opacity="0.6"/>
<circle cx="172.52" cy="291.95" r="0.5" fill="#777" opacity="0.6"/>
<circle cx="172.44" cy="306.25" r="0.5" fill="#777" opacity="0.6"/>
<circle cx="172.03" cy="257.95" r="0.5" fill="#777" opacity="0.6"/>
<line x1="177.85" y1="259.40" x2="177.85" y2="264.50" stroke="#b9b9b9" stroke-width="0.7" />
<line x1="176.95" y1="259.40" x2="178.75" y2="259.40" stroke="#555" stroke-width="0.8" />
<line x1="177.85" y1="290.30" x2="177.85" y2="356.00" stroke="#b9b9b9" stroke-width="0.7" />
<rect x="176.35" y="264.50" width="3.00" height="25.80" fill="#1b4584" rx="0.6"/>
<circle cx="177.33" cy="265.93" r="0.55" fill="#3a2a2a" opacity="0.6"/>
<circle cx="177.25" cy="268.80" r="0.55" fill="#3a2a2a" opacity="0.6"/>
<circle cx="178.19" cy="271.67" r="0.55" fill="#3a2a2a" opacity="0.6"/>
<circle cx="177.51" cy="274.53" r="0.55" fill="#3a2a2a" opacity="0.6"/>
<circle cx="177.38" cy="277.40" r="0.55" fill="#3a2a2a" opacity="0.6"/>
<circle cx="177.27" cy="280.27" r="0.55" fill="#3a2a2a" opacity="0.6"/>
<circle cx="178.33" cy="283.13" r="0.55" fill="#3a2a2a" opacity="0.6"/>
<circle cx="178.37" cy="286.00" r="0.55" fill="#3a2a2a" opacity="0.6"/>
<circle cx="178.09" cy="288.87" r="0.55" fill="#3a2a2a" opacity="0.6"/>
<circle cx="177.54" cy="300.14" r="0.5" fill="#777" opacity="0.6"/>
<circle cx="177.49" cy="315.81" r="0.5" fill="#777" opacity="0.6"/>
<circle cx="177.56" cy="331.49" r="0.5" fill="#777" opacity="0.6"/>
<circle cx="177.79" cy="347.16" r="0.5" fill="#777" opacity="0.6"/>
<line x1="186.26" y1="265.70" x2="186.26" y2="268.00" stroke="#b9b9b9" stroke-width="0.7" />
<line x1="185.36" y1="265.70" x2="187.16" y2="265.70" stroke="#555" stroke-width="0.8" />
<line x1="186.26" y1="281.60" x2="186.26" y2="296.80" stroke="#b9b9b9" stroke-width="0.7" />
<line x1="185.36" y1="296.80" x2="187.16" y2="296.80" stroke="#555" stroke-width="0.8" />
<rect x="184.76" y="268.00" width="3.00" height="13.60" fill="#f0a02a" rx="0.6"/>
<circle cx="185.78" cy="269.36" r="0.55" fill="#3a2a2a" opacity="0.6"/>
<circle cx="186.18" cy="272.08" r="0.55" fill="#3a2a2a" opacity="0.6"/>
<circle cx="185.93" cy="274.80" r="0.55" fill="#3a2a2a" opacity="0.6"/>
<circle cx="186.91" cy="277.52" r="0.55" fill="#3a2a2a" opacity="0.6"/>
<circle cx="186.92" cy="280.24" r="0.55" fill="#3a2a2a" opacity="0.6"/>
<circle cx="186.33" cy="289.70" r="0.5" fill="#777" opacity="0.6"/>
<line x1="191.36" y1="249.00" x2="191.36" y2="253.70" stroke="#b9b9b9" stroke-width="0.7" />
<line x1="190.46" y1="249.00" x2="192.26" y2="249.00" stroke="#555" stroke-width="0.8" />
<line x1="191.36" y1="270.80" x2="191.36" y2="331.50" stroke="#b9b9b9" stroke-width="0.7" />
<line x1="190.46" y1="331.50" x2="192.26" y2="331.50" stroke="#555" stroke-width="0.8" />
<rect x="189.86" y="253.70" width="3.00" height="17.10" fill="#ac1433" rx="0.6"/>
<circle cx="191.00" cy="255.12" r="0.55" fill="#3a2a2a" opacity="0.6"/>
<circle cx="192.01" cy="257.98" r="0.55" fill="#3a2a2a" opacity="0.6"/>
<circle cx="191.09" cy="260.82" r="0.55" fill="#3a2a2a" opacity="0.6"/>
<circle cx="191.16" cy="263.68" r="0.55" fill="#3a2a2a" opacity="0.6"/>
<circle cx="190.66" cy="266.52" r="0.55" fill="#3a2a2a" opacity="0.6"/>
<circle cx="191.19" cy="269.38" r="0.55" fill="#3a2a2a" opacity="0.6"/>
<circle cx="191.32" cy="280.01" r="0.5" fill="#777" opacity="0.6"/>
<circle cx="191.36" cy="294.44" r="0.5" fill="#777" opacity="0.6"/>
<circle cx="190.94" cy="308.86" r="0.5" fill="#777" opacity="0.6"/>
<circle cx="191.37" cy="323.29" r="0.5" fill="#777" opacity="0.6"/>
<line x1="196.56" y1="294.50" x2="196.56" y2="295.50" stroke="#b9b9b9" stroke-width="0.7" />
<line x1="195.66" y1="295.50" x2="197.46" y2="295.50" stroke="#555" stroke-width="0.8" />
<rect x="195.06" y="259.40" width="3.00" height="35.10" fill="#1b4584" rx="0.6"/>
<circle cx="195.87" cy="260.75" r="0.55" fill="#3a2a2a" opacity="0.6"/>
<circle cx="196.23" cy="263.45" r="0.55" fill="#3a2a2a" opacity="0.6"/>
<circle cx="195.99" cy="266.15" r="0.55" fill="#3a2a2a" opacity="0.6"/>
<circle cx="196.42" cy="268.85" r="0.55" fill="#3a2a2a" opacity="0.6"/>
<circle cx="195.92" cy="271.55" r="0.55" fill="#3a2a2a" opacity="0.6"/>
<circle cx="195.89" cy="274.25" r="0.55" fill="#3a2a2a" opacity="0.6"/>
<circle cx="196.29" cy="276.95" r="0.55" fill="#3a2a2a" opacity="0.6"/>
<circle cx="196.19" cy="279.65" r="0.55" fill="#3a2a2a" opacity="0.6"/>
<circle cx="196.68" cy="282.35" r="0.55" fill="#3a2a2a" opacity="0.6"/>
<circle cx="196.60" cy="285.05" r="0.55" fill="#3a2a2a" opacity="0.6"/>
<circle cx="196.91" cy="287.75" r="0.55" fill="#3a2a2a" opacity="0.6"/>
<circle cx="196.78" cy="290.45" r="0.55" fill="#3a2a2a" opacity="0.6"/>
<circle cx="196.86" cy="293.15" r="0.55" fill="#3a2a2a" opacity="0.6"/>
<line x1="204.97" y1="258.80" x2="204.97" y2="259.40" stroke="#b9b9b9" stroke-width="0.7" />
<line x1="204.07" y1="258.80" x2="205.87" y2="258.80" stroke="#555" stroke-width="0.8" />
<line x1="204.97" y1="272.10" x2="204.97" y2="277.40" stroke="#b9b9b9" stroke-width="0.7" />
<line x1="204.07" y1="277.40" x2="205.87" y2="277.40" stroke="#555" stroke-width="0.8" />
<rect x="203.47" y="259.40" width="3.00" height="12.70" fill="#f0a02a" rx="0.6"/>
<circle cx="205.50" cy="260.99" r="0.55" fill="#3a2a2a" opacity="0.6"/>
<circle cx="204.82" cy="264.16" r="0.55" fill="#3a2a2a" opacity="0.6"/>
<circle cx="204.73" cy="267.34" r="0.55" fill="#3a2a2a" opacity="0.6"/>
<circle cx="205.65" cy="270.51" r="0.55" fill="#3a2a2a" opacity="0.6"/>
<line x1="210.07" y1="249.00" x2="210.07" y2="249.40" stroke="#b9b9b9" stroke-width="0.7" />
<line x1="209.17" y1="249.00" x2="210.97" y2="249.00" stroke="#555" stroke-width="0.8" />
<line x1="210.07" y1="266.40" x2="210.07" y2="279.00" stroke="#b9b9b9" stroke-width="0.7" />
<line x1="209.17" y1="279.00" x2="210.97" y2="279.00" stroke="#555" stroke-width="0.8" />
<rect x="208.57" y="249.40" width="3.00" height="17.00" fill="#ac1433" rx="0.6"/>
<circle cx="209.58" cy="250.82" r="0.55" fill="#3a2a2a" opacity="0.6"/>
<circle cx="210.38" cy="253.65" r="0.55" fill="#3a2a2a" opacity="0.6"/>
<circle cx="210.27" cy="256.48" r="0.55" fill="#3a2a2a" opacity="0.6"/>
<circle cx="209.43" cy="259.32" r="0.55" fill="#3a2a2a" opacity="0.6"/>
<circle cx="210.54" cy="262.15" r="0.55" fill="#3a2a2a" opacity="0.6"/>
<circle cx="210.62" cy="264.98" r="0.55" fill="#3a2a2a" opacity="0.6"/>
<circle cx="210.25" cy="273.20" r="0.5" fill="#777" opacity="0.6"/>
<line x1="215.27" y1="247.50" x2="215.27" y2="249.00" stroke="#b9b9b9" stroke-width="0.7" />
<line x1="214.37" y1="247.50" x2="216.17" y2="247.50" stroke="#555" stroke-width="0.8" />
<line x1="215.27" y1="272.70" x2="215.27" y2="281.20" stroke="#b9b9b9" stroke-width="0.7" />
<line x1="214.37" y1="281.20" x2="216.17" y2="281.20" stroke="#555" stroke-width="0.8" />
<rect x="213.77" y="249.00" width="3.00" height="23.70" fill="#1b4584" rx="0.6"/>
<circle cx="215.60" cy="250.32" r="0.55" fill="#3a2a2a" opacity="0.6"/>
<circle cx="215.71" cy="252.95" r="0.55" fill="#3a2a2a" opacity="0.6"/>
<circle cx="214.77" cy="255.58" r="0.55" fill="#3a2a2a" opacity="0.6"/>
<circle cx="215.30" cy="258.22" r="0.55" fill="#3a2a2a" opacity="0.6"/>
<circle cx="215.28" cy="260.85" r="0.55" fill="#3a2a2a" opacity="0.6"/>
<circle cx="215.74" cy="263.48" r="0.55" fill="#3a2a2a" opacity="0.6"/>
<circle cx="215.70" cy="266.12" r="0.55" fill="#3a2a2a" opacity="0.6"/>
<circle cx="215.73" cy="268.75" r="0.55" fill="#3a2a2a" opacity="0.6"/>
<circle cx="215.39" cy="271.38" r="0.55" fill="#3a2a2a" opacity="0.6"/>
<circle cx="215.82" cy="277.45" r="0.5" fill="#777" opacity="0.6"/>
<line x1="223.68" y1="261.30" x2="223.68" y2="266.10" stroke="#b9b9b9" stroke-width="0.7" />
<line x1="222.78" y1="266.10" x2="224.58" y2="266.10" stroke="#555" stroke-width="0.8" />
<rect x="222.18" y="249.40" width="3.00" height="11.90" fill="#f0a02a" rx="0.6"/>
<circle cx="223.94" cy="250.89" r="0.55" fill="#3a2a2a" opacity="0.6"/>
<circle cx="223.95" cy="253.86" r="0.55" fill="#3a2a2a" opacity="0.6"/>
<circle cx="223.30" cy="256.84" r="0.55" fill="#3a2a2a" opacity="0.6"/>
<circle cx="223.02" cy="259.81" r="0.55" fill="#3a2a2a" opacity="0.6"/>
<line x1="228.78" y1="253.10" x2="228.78" y2="253.70" stroke="#b9b9b9" stroke-width="0.7" />
<line x1="227.88" y1="253.10" x2="229.68" y2="253.10" stroke="#555" stroke-width="0.8" />
<line x1="228.78" y1="268.00" x2="228.78" y2="311.60" stroke="#b9b9b9" stroke-width="0.7" />
<line x1="227.88" y1="311.60" x2="229.68" y2="311.60" stroke="#555" stroke-width="0.8" />
<rect x="227.28" y="253.70" width="3.00" height="14.30" fill="#ac1433" rx="0.6"/>
<circle cx="228.27" cy="255.13" r="0.55" fill="#3a2a2a" opacity="0.6"/>
<circle cx="228.58" cy="257.99" r="0.55" fill="#3a2a2a" opacity="0.6"/>
<circle cx="228.23" cy="260.85" r="0.55" fill="#3a2a2a" opacity="0.6"/>
<circle cx="229.25" cy="263.71" r="0.55" fill="#3a2a2a" opacity="0.6"/>
<circle cx="228.86" cy="266.57" r="0.55" fill="#3a2a2a" opacity="0.6"/>
<circle cx="228.96" cy="276.77" r="0.5" fill="#777" opacity="0.6"/>
<circle cx="228.96" cy="290.30" r="0.5" fill="#777" opacity="0.6"/>
<circle cx="229.03" cy="303.83" r="0.5" fill="#777" opacity="0.6"/>
<line x1="233.98" y1="249.90" x2="233.98" y2="251.30" stroke="#b9b9b9" stroke-width="0.7" />
<line x1="233.08" y1="249.90" x2="234.88" y2="249.90" stroke="#555" stroke-width="0.8" />
<line x1="233.98" y1="267.60" x2="233.98" y2="269.50" stroke="#b9b9b9" stroke-width="0.7" />
<line x1="233.08" y1="269.50" x2="234.88" y2="269.50" stroke="#555" stroke-width="0.8" />
<rect x="232.48" y="251.30" width="3.00" height="16.30" fill="#1b4584" rx="0.6"/>
<circle cx="233.97" cy="252.66" r="0.55" fill="#3a2a2a" opacity="0.6"/>
<circle cx="233.28" cy="255.38" r="0.55" fill="#3a2a2a" opacity="0.6"/>
<circle cx="234.40" cy="258.09" r="0.55" fill="#3a2a2a" opacity="0.6"/>
<circle cx="234.33" cy="260.81" r="0.55" fill="#3a2a2a" opacity="0.6"/>
<circle cx="233.98" cy="263.53" r="0.55" fill="#3a2a2a" opacity="0.6"/>
<circle cx="234.03" cy="266.24" r="0.55" fill="#3a2a2a" opacity="0.6"/>
<line x1="242.39" y1="250.40" x2="242.39" y2="251.30" stroke="#b9b9b9" stroke-width="0.7" />
<line x1="241.49" y1="250.40" x2="243.29" y2="250.40" stroke="#555" stroke-width="0.8" />
<rect x="240.89" y="251.30" width="3.00" height="12.30" fill="#f0a02a" rx="0.6"/>
<circle cx="242.61" cy="252.84" r="0.55" fill="#3a2a2a" opacity="0.6"/>
<circle cx="241.78" cy="255.91" r="0.55" fill="#3a2a2a" opacity="0.6"/>
<circle cx="242.72" cy="258.99" r="0.55" fill="#3a2a2a" opacity="0.6"/>
<circle cx="242.04" cy="262.06" r="0.55" fill="#3a2a2a" opacity="0.6"/>
<line x1="247.49" y1="245.00" x2="247.49" y2="258.90" stroke="#b9b9b9" stroke-width="0.7" />
<line x1="246.59" y1="245.00" x2="248.39" y2="245.00" stroke="#555" stroke-width="0.8" />
<line x1="247.49" y1="269.70" x2="247.49" y2="273.10" stroke="#b9b9b9" stroke-width="0.7" />
<line x1="246.59" y1="273.10" x2="248.39" y2="273.10" stroke="#555" stroke-width="0.8" />
<rect x="245.99" y="258.90" width="3.00" height="10.80" fill="#ac1433" rx="0.6"/>
<circle cx="246.89" cy="260.25" r="0.55" fill="#3a2a2a" opacity="0.6"/>
<circle cx="247.16" cy="262.95" r="0.55" fill="#3a2a2a" opacity="0.6"/>
<circle cx="247.81" cy="265.65" r="0.55" fill="#3a2a2a" opacity="0.6"/>
<circle cx="247.08" cy="268.35" r="0.55" fill="#3a2a2a" opacity="0.6"/>
<circle cx="247.83" cy="251.45" r="0.5" fill="#777" opacity="0.6"/>
<line x1="252.69" y1="268.40" x2="252.69" y2="269.70" stroke="#b9b9b9" stroke-width="0.7" />
<line x1="251.79" y1="269.70" x2="253.59" y2="269.70" stroke="#555" stroke-width="0.8" />
<rect x="251.19" y="248.80" width="3.00" height="19.60" fill="#1b4584" rx="0.6"/>
<circle cx="253.36" cy="250.20" r="0.55" fill="#3a2a2a" opacity="0.6"/>
<circle cx="252.68" cy="253.00" r="0.55" fill="#3a2a2a" opacity="0.6"/>
<circle cx="252.53" cy="255.80" r="0.55" fill="#3a2a2a" opacity="0.6"/>
<circle cx="252.66" cy="258.60" r="0.55" fill="#3a2a2a" opacity="0.6"/>
<circle cx="252.95" cy="261.40" r="0.55" fill="#3a2a2a" opacity="0.6"/>
<circle cx="253.06" cy="264.20" r="0.55" fill="#3a2a2a" opacity="0.6"/>
<circle cx="252.85" cy="267.00" r="0.55" fill="#3a2a2a" opacity="0.6"/>
<line x1="261.10" y1="249.40" x2="261.10" y2="251.90" stroke="#b9b9b9" stroke-width="0.7" />
<line x1="260.20" y1="249.40" x2="262.00" y2="249.40" stroke="#555" stroke-width="0.8" />
<rect x="259.60" y="251.90" width="3.00" height="14.60" fill="#f0a02a" rx="0.6"/>
<circle cx="261.30" cy="253.36" r="0.55" fill="#3a2a2a" opacity="0.6"/>
<circle cx="260.51" cy="256.28" r="0.55" fill="#3a2a2a" opacity="0.6"/>
<circle cx="260.61" cy="259.20" r="0.55" fill="#3a2a2a" opacity="0.6"/>
<circle cx="260.76" cy="262.12" r="0.55" fill="#3a2a2a" opacity="0.6"/>
<circle cx="261.44" cy="265.04" r="0.55" fill="#3a2a2a" opacity="0.6"/>
<line x1="266.20" y1="245.00" x2="266.20" y2="258.90" stroke="#b9b9b9" stroke-width="0.7" />
<line x1="265.30" y1="245.00" x2="267.10" y2="245.00" stroke="#555" stroke-width="0.8" />
<line x1="266.20" y1="267.10" x2="266.20" y2="286.40" stroke="#b9b9b9" stroke-width="0.7" />
<line x1="265.30" y1="286.40" x2="267.10" y2="286.40" stroke="#555" stroke-width="0.8" />
<rect x="264.70" y="258.90" width="3.00" height="8.20" fill="#ac1433" rx="0.6"/>
<circle cx="265.93" cy="260.27" r="0.55" fill="#3a2a2a" opacity="0.6"/>
<circle cx="266.29" cy="263.00" r="0.55" fill="#3a2a2a" opacity="0.6"/>
<circle cx="265.52" cy="265.73" r="0.55" fill="#3a2a2a" opacity="0.6"/>
<circle cx="265.58" cy="277.25" r="0.5" fill="#777" opacity="0.6"/>
<circle cx="265.88" cy="251.45" r="0.5" fill="#777" opacity="0.6"/>
<rect x="269.90" y="253.80" width="3.00" height="14.60" fill="#1b4584" rx="0.6"/>
<circle cx="271.64" cy="255.26" r="0.55" fill="#3a2a2a" opacity="0.6"/>
<circle cx="271.67" cy="258.18" r="0.55" fill="#3a2a2a" opacity="0.6"/>
<circle cx="271.65" cy="261.10" r="0.55" fill="#3a2a2a" opacity="0.6"/>
<circle cx="271.11" cy="264.02" r="0.55" fill="#3a2a2a" opacity="0.6"/>
<circle cx="271.42" cy="266.94" r="0.55" fill="#3a2a2a" opacity="0.6"/>
<line x1="279.81" y1="253.20" x2="279.81" y2="257.00" stroke="#b9b9b9" stroke-width="0.7" />
<line x1="278.91" y1="253.20" x2="280.71" y2="253.20" stroke="#555" stroke-width="0.8" />
<rect x="278.31" y="257.00" width="3.00" height="12.70" fill="#f0a02a" rx="0.6"/>
<circle cx="279.76" cy="258.59" r="0.55" fill="#3a2a2a" opacity="0.6"/>
<circle cx="279.76" cy="261.76" r="0.55" fill="#3a2a2a" opacity="0.6"/>
<circle cx="279.28" cy="264.94" r="0.55" fill="#3a2a2a" opacity="0.6"/>
<circle cx="280.36" cy="268.11" r="0.55" fill="#3a2a2a" opacity="0.6"/>
<line x1="284.91" y1="249.40" x2="284.91" y2="257.00" stroke="#b9b9b9" stroke-width="0.7" />
<line x1="284.01" y1="249.40" x2="285.81" y2="249.40" stroke="#555" stroke-width="0.8" />
<line x1="284.91" y1="270.30" x2="284.91" y2="276.90" stroke="#b9b9b9" stroke-width="0.7" />
<line x1="284.01" y1="276.90" x2="285.81" y2="276.90" stroke="#555" stroke-width="0.8" />
<rect x="283.41" y="257.00" width="3.00" height="13.30" fill="#ac1433" rx="0.6"/>
<circle cx="284.49" cy="258.33" r="0.55" fill="#3a2a2a" opacity="0.6"/>
<circle cx="285.58" cy="260.99" r="0.55" fill="#3a2a2a" opacity="0.6"/>
<circle cx="285.52" cy="263.65" r="0.55" fill="#3a2a2a" opacity="0.6"/>
<circle cx="284.23" cy="266.31" r="0.55" fill="#3a2a2a" opacity="0.6"/>
<circle cx="284.85" cy="268.97" r="0.55" fill="#3a2a2a" opacity="0.6"/>
<line x1="290.11" y1="270.90" x2="290.11" y2="272.20" stroke="#b9b9b9" stroke-width="0.7" />
<line x1="289.21" y1="272.20" x2="291.01" y2="272.20" stroke="#555" stroke-width="0.8" />
<rect x="288.61" y="258.00" width="3.00" height="12.90" fill="#1b4584" rx="0.6"/>
<circle cx="290.56" cy="259.61" r="0.55" fill="#3a2a2a" opacity="0.6"/>
<circle cx="290.77" cy="262.84" r="0.55" fill="#3a2a2a" opacity="0.6"/>
<circle cx="290.04" cy="266.06" r="0.55" fill="#3a2a2a" opacity="0.6"/>
<circle cx="289.79" cy="269.29" r="0.55" fill="#3a2a2a" opacity="0.6"/>
<line x1="298.52" y1="243.10" x2="298.52" y2="244.70" stroke="#b9b9b9" stroke-width="0.7" />
<line x1="297.62" y1="243.10" x2="299.42" y2="243.10" stroke="#555" stroke-width="0.8" />
<line x1="298.52" y1="265.50" x2="298.52" y2="269.00" stroke="#b9b9b9" stroke-width="0.7" />
<line x1="297.62" y1="269.00" x2="299.42" y2="269.00" stroke="#555" stroke-width="0.8" />
<rect x="297.02" y="244.70" width="3.00" height="20.80" fill="#f0a02a" rx="0.6"/>
<circle cx="298.11" cy="246.00" r="0.55" fill="#3a2a2a" opacity="0.6"/>
<circle cx="299.14" cy="248.60" r="0.55" fill="#3a2a2a" opacity="0.6"/>
<circle cx="298.11" cy="251.20" r="0.55" fill="#3a2a2a" opacity="0.6"/>
<circle cx="298.63" cy="253.80" r="0.55" fill="#3a2a2a" opacity="0.6"/>
<circle cx="298.02" cy="256.40" r="0.55" fill="#3a2a2a" opacity="0.6"/>
<circle cx="298.55" cy="259.00" r="0.55" fill="#3a2a2a" opacity="0.6"/>
<circle cx="299.15" cy="261.60" r="0.55" fill="#3a2a2a" opacity="0.6"/>
<circle cx="298.01" cy="264.20" r="0.55" fill="#3a2a2a" opacity="0.6"/>
<line x1="303.62" y1="250.00" x2="303.62" y2="257.60" stroke="#b9b9b9" stroke-width="0.7" />
<line x1="302.72" y1="250.00" x2="304.52" y2="250.00" stroke="#555" stroke-width="0.8" />
<line x1="303.62" y1="268.40" x2="303.62" y2="277.90" stroke="#b9b9b9" stroke-width="0.7" />
<line x1="302.72" y1="277.90" x2="304.52" y2="277.90" stroke="#555" stroke-width="0.8" />
<rect x="302.12" y="257.60" width="3.00" height="10.80" fill="#ac1433" rx="0.6"/>
<circle cx="304.07" cy="258.95" r="0.55" fill="#3a2a2a" opacity="0.6"/>
<circle cx="303.63" cy="261.65" r="0.55" fill="#3a2a2a" opacity="0.6"/>
<circle cx="304.16" cy="264.35" r="0.55" fill="#3a2a2a" opacity="0.6"/>
<circle cx="303.90" cy="267.05" r="0.55" fill="#3a2a2a" opacity="0.6"/>
<circle cx="303.24" cy="273.65" r="0.5" fill="#777" opacity="0.6"/>
<line x1="308.82" y1="250.40" x2="308.82" y2="252.60" stroke="#b9b9b9" stroke-width="0.7" />
<line x1="307.92" y1="250.40" x2="309.72" y2="250.40" stroke="#555" stroke-width="0.8" />
<rect x="307.32" y="252.60" width="3.00" height="18.30" fill="#1b4584" rx="0.6"/>
<circle cx="309.38" cy="253.91" r="0.55" fill="#3a2a2a" opacity="0.6"/>
<circle cx="308.80" cy="256.52" r="0.55" fill="#3a2a2a" opacity="0.6"/>
<circle cx="308.15" cy="259.14" r="0.55" fill="#3a2a2a" opacity="0.6"/>
<circle cx="308.13" cy="261.75" r="0.55" fill="#3a2a2a" opacity="0.6"/>
<circle cx="308.81" cy="264.36" r="0.55" fill="#3a2a2a" opacity="0.6"/>
<circle cx="308.75" cy="266.98" r="0.55" fill="#3a2a2a" opacity="0.6"/>
<circle cx="308.54" cy="269.59" r="0.55" fill="#3a2a2a" opacity="0.6"/>
<line x1="317.23" y1="244.30" x2="317.23" y2="245.60" stroke="#b9b9b9" stroke-width="0.7" />
<line x1="316.33" y1="244.30" x2="318.13" y2="244.30" stroke="#555" stroke-width="0.8" />
<line x1="317.23" y1="265.50" x2="317.23" y2="269.70" stroke="#b9b9b9" stroke-width="0.7" />
<line x1="316.33" y1="269.70" x2="318.13" y2="269.70" stroke="#555" stroke-width="0.8" />
<rect x="315.73" y="245.60" width="3.00" height="19.90" fill="#f0a02a" rx="0.6"/>
<circle cx="316.73" cy="247.02" r="0.55" fill="#3a2a2a" opacity="0.6"/>
<circle cx="317.01" cy="249.86" r="0.55" fill="#3a2a2a" opacity="0.6"/>
<circle cx="316.97" cy="252.71" r="0.55" fill="#3a2a2a" opacity="0.6"/>
<circle cx="317.71" cy="255.55" r="0.55" fill="#3a2a2a" opacity="0.6"/>
<circle cx="316.53" cy="258.39" r="0.55" fill="#3a2a2a" opacity="0.6"/>
<circle cx="317.58" cy="261.24" r="0.55" fill="#3a2a2a" opacity="0.6"/>
<circle cx="317.70" cy="264.08" r="0.55" fill="#3a2a2a" opacity="0.6"/>
<line x1="322.33" y1="250.00" x2="322.33" y2="258.90" stroke="#b9b9b9" stroke-width="0.7" />
<line x1="321.43" y1="250.00" x2="323.23" y2="250.00" stroke="#555" stroke-width="0.8" />
<line x1="322.33" y1="266.50" x2="322.33" y2="286.40" stroke="#b9b9b9" stroke-width="0.7" />
<line x1="321.43" y1="286.40" x2="323.23" y2="286.40" stroke="#555" stroke-width="0.8" />
<rect x="320.83" y="258.90" width="3.00" height="7.60" fill="#ac1433" rx="0.6"/>
<circle cx="321.80" cy="260.80" r="0.55" fill="#3a2a2a" opacity="0.6"/>
<circle cx="322.93" cy="264.60" r="0.55" fill="#3a2a2a" opacity="0.6"/>
<circle cx="322.63" cy="276.95" r="0.5" fill="#777" opacity="0.6"/>
<circle cx="322.89" cy="253.95" r="0.5" fill="#777" opacity="0.6"/>
<line x1="327.53" y1="251.30" x2="327.53" y2="265.50" stroke="#aaa" stroke-width="0.8" />
<line x1="326.63" y1="251.30" x2="328.43" y2="251.30" stroke="#555" stroke-width="0.8" />
<line x1="326.63" y1="265.50" x2="328.43" y2="265.50" stroke="#555" stroke-width="0.8" />
<line x1="326.63" y1="258.40" x2="328.43" y2="258.40" stroke="#777" stroke-width="0.7" />
<line x1="335.94" y1="255.10" x2="335.94" y2="256.40" stroke="#b9b9b9" stroke-width="0.7" />
<line x1="335.04" y1="255.10" x2="336.84" y2="255.10" stroke="#555" stroke-width="0.8" />
<line x1="335.94" y1="265.50" x2="335.94" y2="269.00" stroke="#b9b9b9" stroke-width="0.7" />
<line x1="335.04" y1="269.00" x2="336.84" y2="269.00" stroke="#555" stroke-width="0.8" />
<rect x="334.44" y="256.40" width="3.00" height="9.10" fill="#f0a02a" rx="0.6"/>
<circle cx="335.65" cy="257.92" r="0.55" fill="#3a2a2a" opacity="0.6"/>
<circle cx="335.76" cy="260.95" r="0.55" fill="#3a2a2a" opacity="0.6"/>
<circle cx="335.79" cy="263.98" r="0.55" fill="#3a2a2a" opacity="0.6"/>
<line x1="341.04" y1="250.70" x2="341.04" y2="258.90" stroke="#b9b9b9" stroke-width="0.7" />
<line x1="340.14" y1="250.70" x2="341.94" y2="250.70" stroke="#555" stroke-width="0.8" />
<line x1="341.04" y1="267.40" x2="341.04" y2="287.90" stroke="#b9b9b9" stroke-width="0.7" />
<line x1="340.14" y1="287.90" x2="341.94" y2="287.90" stroke="#555" stroke-width="0.8" />
<rect x="339.54" y="258.90" width="3.00" height="8.50" fill="#ac1433" rx="0.6"/>
<circle cx="341.74" cy="260.32" r="0.55" fill="#3a2a2a" opacity="0.6"/>
<circle cx="341.16" cy="263.15" r="0.55" fill="#3a2a2a" opacity="0.6"/>
<circle cx="340.84" cy="265.98" r="0.55" fill="#3a2a2a" opacity="0.6"/>
<circle cx="340.94" cy="278.15" r="0.5" fill="#777" opacity="0.6"/>
<circle cx="340.73" cy="254.30" r="0.5" fill="#777" opacity="0.6"/>
<line x1="346.24" y1="252.30" x2="346.24" y2="254.50" stroke="#b9b9b9" stroke-width="0.7" />
<line x1="345.34" y1="252.30" x2="347.14" y2="252.30" stroke="#555" stroke-width="0.8" />
<rect x="344.74" y="254.50" width="3.00" height="13.30" fill="#1b4584" rx="0.6"/>
<circle cx="345.61" cy="255.83" r="0.55" fill="#3a2a2a" opacity="0.6"/>
<circle cx="345.68" cy="258.49" r="0.55" fill="#3a2a2a" opacity="0.6"/>
<circle cx="346.71" cy="261.15" r="0.55" fill="#3a2a2a" opacity="0.6"/>
<circle cx="345.94" cy="263.81" r="0.55" fill="#3a2a2a" opacity="0.6"/>
<circle cx="346.85" cy="266.47" r="0.55" fill="#3a2a2a" opacity="0.6"/>
<line x1="354.65" y1="249.40" x2="354.65" y2="265.90" stroke="#aaa" stroke-width="0.8" />
<line x1="353.75" y1="249.40" x2="355.55" y2="249.40" stroke="#555" stroke-width="0.8" />
<line x1="353.75" y1="265.90" x2="355.55" y2="265.90" stroke="#555" stroke-width="0.8" />
<line x1="353.75" y1="257.65" x2="355.55" y2="257.65" stroke="#777" stroke-width="0.7" />
<line x1="359.75" y1="248.10" x2="359.75" y2="252.30" stroke="#b9b9b9" stroke-width="0.7" />
<line x1="358.85" y1="248.10" x2="360.65" y2="248.10" stroke="#555" stroke-width="0.8" />
<line x1="359.75" y1="267.10" x2="359.75" y2="286.40" stroke="#b9b9b9" stroke-width="0.7" />
<line x1="358.85" y1="286.40" x2="360.65" y2="286.40" stroke="#555" stroke-width="0.8" />
<rect x="358.25" y="252.30" width="3.00" height="14.80" fill="#ac1433" rx="0.6"/>
<circle cx="359.40" cy="253.78" r="0.55" fill="#3a2a2a" opacity="0.6"/>
<circle cx="359.42" cy="256.74" r="0.55" fill="#3a2a2a" opacity="0.6"/>
<circle cx="359.77" cy="259.70" r="0.55" fill="#3a2a2a" opacity="0.6"/>
<circle cx="359.32" cy="262.66" r="0.55" fill="#3a2a2a" opacity="0.6"/>
<circle cx="359.57" cy="265.62" r="0.55" fill="#3a2a2a" opacity="0.6"/>
<circle cx="360.39" cy="277.25" r="0.5" fill="#777" opacity="0.6"/>
<line x1="364.95" y1="242.40" x2="364.95" y2="245.00" stroke="#b9b9b9" stroke-width="0.7" />
<line x1="364.05" y1="242.40" x2="365.85" y2="242.40" stroke="#555" stroke-width="0.8" />
<line x1="364.95" y1="267.40" x2="364.95" y2="269.00" stroke="#b9b9b9" stroke-width="0.7" />
<line x1="364.05" y1="269.00" x2="365.85" y2="269.00" stroke="#555" stroke-width="0.8" />
<rect x="363.45" y="245.00" width="3.00" height="22.40" fill="#1b4584" rx="0.6"/>
<circle cx="365.49" cy="246.40" r="0.55" fill="#3a2a2a" opacity="0.6"/>
<circle cx="365.39" cy="249.20" r="0.55" fill="#3a2a2a" opacity="0.6"/>
<circle cx="365.13" cy="252.00" r="0.55" fill="#3a2a2a" opacity="0.6"/>
<circle cx="365.53" cy="254.80" r="0.55" fill="#3a2a2a" opacity="0.6"/>
<circle cx="365.57" cy="257.60" r="0.55" fill="#3a2a2a" opacity="0.6"/>
<circle cx="365.02" cy="260.40" r="0.55" fill="#3a2a2a" opacity="0.6"/>
<circle cx="365.26" cy="263.20" r="0.55" fill="#3a2a2a" opacity="0.6"/>
<circle cx="364.32" cy="266.00" r="0.55" fill="#3a2a2a" opacity="0.6"/>
<line x1="373.36" y1="255.70" x2="373.36" y2="257.60" stroke="#b9b9b9" stroke-width="0.7" />
<line x1="372.46" y1="257.60" x2="374.26" y2="257.60" stroke="#555" stroke-width="0.8" />
<rect x="371.86" y="245.00" width="3.00" height="10.70" fill="#f0a02a" rx="0.6"/>
<circle cx="373.69" cy="246.34" r="0.55" fill="#3a2a2a" opacity="0.6"/>
<circle cx="373.29" cy="249.01" r="0.55" fill="#3a2a2a" opacity="0.6"/>
<circle cx="373.71" cy="251.69" r="0.55" fill="#3a2a2a" opacity="0.6"/>
<circle cx="373.56" cy="254.36" r="0.55" fill="#3a2a2a" opacity="0.6"/>
<line x1="378.46" y1="246.60" x2="378.46" y2="253.80" stroke="#b9b9b9" stroke-width="0.7" />
<line x1="377.56" y1="246.60" x2="379.36" y2="246.60" stroke="#555" stroke-width="0.8" />
<line x1="378.46" y1="267.80" x2="378.46" y2="279.80" stroke="#b9b9b9" stroke-width="0.7" />
<line x1="377.56" y1="279.80" x2="379.36" y2="279.80" stroke="#555" stroke-width="0.8" />
<rect x="376.96" y="253.80" width="3.00" height="14.00" fill="#ac1433" rx="0.6"/>
<circle cx="378.16" cy="255.20" r="0.55" fill="#3a2a2a" opacity="0.6"/>
<circle cx="377.83" cy="258.00" r="0.55" fill="#3a2a2a" opacity="0.6"/>
<circle cx="379.06" cy="260.80" r="0.55" fill="#3a2a2a" opacity="0.6"/>
<circle cx="377.94" cy="263.60" r="0.55" fill="#3a2a2a" opacity="0.6"/>
<circle cx="378.42" cy="266.40" r="0.55" fill="#3a2a2a" opacity="0.6"/>
<circle cx="378.24" cy="274.30" r="0.5" fill="#777" opacity="0.6"/>
<line x1="383.66" y1="259.80" x2="383.66" y2="266.50" stroke="#aaa" stroke-width="0.8" />
<line x1="382.76" y1="259.80" x2="384.56" y2="259.80" stroke="#555" stroke-width="0.8" />
<line x1="382.76" y1="266.50" x2="384.56" y2="266.50" stroke="#555" stroke-width="0.8" />
<line x1="382.76" y1="263.15" x2="384.56" y2="263.15" stroke="#777" stroke-width="0.7" />
<line x1="392.07" y1="240.10" x2="392.07" y2="252.10" stroke="#aaa" stroke-width="0.8" />
<line x1="391.17" y1="240.10" x2="392.97" y2="240.10" stroke="#555" stroke-width="0.8" />
<line x1="391.17" y1="252.10" x2="392.97" y2="252.10" stroke="#555" stroke-width="0.8" />
<line x1="391.17" y1="246.10" x2="392.97" y2="246.10" stroke="#777" stroke-width="0.7" />
<line x1="397.17" y1="241.50" x2="397.17" y2="244.70" stroke="#b9b9b9" stroke-width="0.7" />
<line x1="396.27" y1="241.50" x2="398.07" y2="241.50" stroke="#555" stroke-width="0.8" />
<line x1="397.17" y1="256.00" x2="397.17" y2="260.40" stroke="#b9b9b9" stroke-width="0.7" />
<line x1="396.27" y1="260.40" x2="398.07" y2="260.40" stroke="#555" stroke-width="0.8" />
<rect x="395.67" y="244.70" width="3.00" height="11.30" fill="#ac1433" rx="0.6"/>
<rect x="396.27" y="245.70" width="1.80" height="9.30" fill="#3a0812" opacity="0.55"/>
<line x1="402.37" y1="233.70" x2="402.37" y2="259.00" stroke="#aaa" stroke-width="0.8" />
<line x1="401.47" y1="233.70" x2="403.27" y2="233.70" stroke="#555" stroke-width="0.8" />
<line x1="401.47" y1="259.00" x2="403.27" y2="259.00" stroke="#555" stroke-width="0.8" />
<line x1="401.47" y1="246.35" x2="403.27" y2="246.35" stroke="#777" stroke-width="0.7" />
<line x1="410.78" y1="224.60" x2="410.78" y2="239.50" stroke="#aaa" stroke-width="0.8" />
<line x1="409.88" y1="224.60" x2="411.68" y2="224.60" stroke="#555" stroke-width="0.8" />
<line x1="409.88" y1="239.50" x2="411.68" y2="239.50" stroke="#555" stroke-width="0.8" />
<line x1="409.88" y1="232.05" x2="411.68" y2="232.05" stroke="#777" stroke-width="0.7" />
<line x1="415.88" y1="241.10" x2="415.88" y2="245.20" stroke="#b9b9b9" stroke-width="0.7" />
<line x1="414.98" y1="241.10" x2="416.78" y2="241.10" stroke="#555" stroke-width="0.8" />
<line x1="415.88" y1="254.30" x2="415.88" y2="257.70" stroke="#b9b9b9" stroke-width="0.7" />
<line x1="414.98" y1="257.70" x2="416.78" y2="257.70" stroke="#555" stroke-width="0.8" />
<rect x="414.38" y="245.20" width="3.00" height="9.10" fill="#ac1433" rx="0.6"/>
<rect x="414.98" y="246.20" width="1.80" height="7.10" fill="#3a0812" opacity="0.55"/>
<line x1="421.08" y1="239.20" x2="421.08" y2="253.90" stroke="#aaa" stroke-width="0.8" />
<line x1="420.18" y1="239.20" x2="421.98" y2="239.20" stroke="#555" stroke-width="0.8" />
<line x1="420.18" y1="253.90" x2="421.98" y2="253.90" stroke="#555" stroke-width="0.8" />
<line x1="420.18" y1="246.55" x2="421.98" y2="246.55" stroke="#777" stroke-width="0.7" />
<line x1="429.49" y1="233.30" x2="429.49" y2="245.70" stroke="#aaa" stroke-width="0.8" />
<line x1="428.59" y1="233.30" x2="430.39" y2="233.30" stroke="#555" stroke-width="0.8" />
<line x1="428.59" y1="245.70" x2="430.39" y2="245.70" stroke="#555" stroke-width="0.8" />
<line x1="428.59" y1="239.50" x2="430.39" y2="239.50" stroke="#777" stroke-width="0.7" />
<line x1="434.59" y1="241.10" x2="434.59" y2="243.90" stroke="#b9b9b9" stroke-width="0.7" />
<line x1="433.69" y1="241.10" x2="435.49" y2="241.10" stroke="#555" stroke-width="0.8" />
<line x1="434.59" y1="253.00" x2="434.59" y2="256.30" stroke="#b9b9b9" stroke-width="0.7" />
<line x1="433.69" y1="256.30" x2="435.49" y2="256.30" stroke="#555" stroke-width="0.8" />
<rect x="433.09" y="243.90" width="3.00" height="9.10" fill="#ac1433" rx="0.6"/>
<rect x="433.69" y="244.90" width="1.80" height="7.10" fill="#3a0812" opacity="0.55"/>
<line x1="439.79" y1="240.60" x2="439.79" y2="253.50" stroke="#aaa" stroke-width="0.8" />
<line x1="438.89" y1="240.60" x2="440.69" y2="240.60" stroke="#555" stroke-width="0.8" />
<line x1="438.89" y1="253.50" x2="440.69" y2="253.50" stroke="#555" stroke-width="0.8" />
<line x1="438.89" y1="247.05" x2="440.69" y2="247.05" stroke="#777" stroke-width="0.7" />
<line x1="447.10" y1="243.90" x2="449.30" y2="243.90" stroke="#444" stroke-width="1.0" />
<line x1="453.30" y1="238.10" x2="453.30" y2="241.10" stroke="#b9b9b9" stroke-width="0.7" />
<line x1="452.40" y1="238.10" x2="454.20" y2="238.10" stroke="#555" stroke-width="0.8" />
<line x1="453.30" y1="253.50" x2="453.30" y2="255.30" stroke="#b9b9b9" stroke-width="0.7" />
<line x1="452.40" y1="255.30" x2="454.20" y2="255.30" stroke="#555" stroke-width="0.8" />
<rect x="451.80" y="241.10" width="3.00" height="12.40" fill="#ac1433" rx="0.6"/>
<rect x="452.40" y="242.10" width="1.80" height="10.40" fill="#3a0812" opacity="0.55"/>
<line x1="457.40" y1="241.50" x2="459.60" y2="241.50" stroke="#444" stroke-width="1.0" />
<line x1="466.91" y1="240.60" x2="466.91" y2="248.40" stroke="#aaa" stroke-width="0.8" />
<line x1="466.01" y1="240.60" x2="467.81" y2="240.60" stroke="#555" stroke-width="0.8" />
<line x1="466.01" y1="248.40" x2="467.81" y2="248.40" stroke="#555" stroke-width="0.8" />
<line x1="466.01" y1="244.50" x2="467.81" y2="244.50" stroke="#777" stroke-width="0.7" />
<line x1="472.01" y1="238.80" x2="472.01" y2="242.50" stroke="#b9b9b9" stroke-width="0.7" />
<line x1="471.11" y1="238.80" x2="472.91" y2="238.80" stroke="#555" stroke-width="0.8" />
<line x1="472.01" y1="252.60" x2="472.01" y2="254.30" stroke="#b9b9b9" stroke-width="0.7" />
<line x1="471.11" y1="254.30" x2="472.91" y2="254.30" stroke="#555" stroke-width="0.8" />
<rect x="470.51" y="242.50" width="3.00" height="10.10" fill="#ac1433" rx="0.6"/>
<rect x="471.11" y="243.50" width="1.80" height="8.10" fill="#3a0812" opacity="0.55"/>
<line x1="476.11" y1="244.70" x2="478.31" y2="244.70" stroke="#444" stroke-width="1.0" />
<line x1="147.40" y1="259.75" x2="161.40" y2="259.75" stroke="#5a5a5a" stroke-width="1.05" />
<text x="154.40" y="260.60" font-size="6.5" text-anchor="middle" fill="#222" font-weight="bold" >**</text>
<line x1="147.40" y1="265.45" x2="156.30" y2="265.45" stroke="#5a5a5a" stroke-width="1.05" />
<text x="151.60" y="266.50" font-size="6.5" text-anchor="middle" fill="#222" font-weight="bold" >**</text>
<line x1="165.80" y1="249.35" x2="174.70" y2="249.35" stroke="#5a5a5a" stroke-width="1.05" />
<text x="170.20" y="250.20" font-size="6.5" text-anchor="middle" fill="#222" font-weight="bold" >*</text>
<line x1="184.30" y1="244.05" x2="193.40" y2="244.05" stroke="#5a5a5a" stroke-width="1.05" />
<text x="188.60" y="244.80" font-size="6.5" text-anchor="middle" fill="#222" font-weight="bold" >*</text>
<line x1="371.40" y1="238.95" x2="380.30" y2="238.95" stroke="#5a5a5a" stroke-width="1.05" />
<text x="375.80" y="239.70" font-size="6.5" text-anchor="middle" fill="#222" font-weight="bold" >*</text>
<line x1="408.70" y1="221.25" x2="417.40" y2="221.25" stroke="#5a5a5a" stroke-width="1.05" />
<text x="412.30" y="222.10" font-size="6.5" text-anchor="middle" fill="#222" font-weight="bold" >**</text>
<rect x="370.50" y="325.30" width="5.70" height="5.50" fill="#f3960e" />
<text x="379.50" y="329.80" font-size="6.5" text-anchor="start" fill="#383838" font-weight="normal" stroke="#383838" stroke-width="0.1" textLength="99" lengthAdjust="spacingAndGlyphs">PTCy 50 mg/kg/day on days +3/+4</text>
<rect x="370.50" y="335.30" width="5.70" height="5.50" fill="#c3102f" />
<text x="379.50" y="339.80" font-size="6.5" text-anchor="start" fill="#383838" font-weight="normal" stroke="#383838" stroke-width="0.1" textLength="99" lengthAdjust="spacingAndGlyphs">PTCy 25 mg/kg/day on days +3/+4</text>
<rect x="370.50" y="345.20" width="5.70" height="5.50" fill="#184280" />
<text x="379.50" y="349.70" font-size="6.5" text-anchor="start" fill="#383838" font-weight="normal" stroke="#383838" stroke-width="0.1" textLength="72.8" lengthAdjust="spacingAndGlyphs">PTCy 25 mg/kg on day +4</text>
<text x="40.50" y="289.20" font-size="7.6" text-anchor="middle" fill="#222" stroke="#222" stroke-width="0.2" letter-spacing="0.3" font-weight="normal" textLength="61.2" lengthAdjust="spacingAndGlyphs" transform="rotate(-90 40.50 289.20)">CD8<tspan font-size="5" dy="-2.6">+</tspan><tspan dy="2.6"> T cells (cells/µL)</tspan></text>
<text x="274.80" y="379.80" font-size="8.4" text-anchor="middle" fill="#222" stroke="#222" stroke-width="0.3" letter-spacing="0.8" font-weight="normal" textLength="38.4" lengthAdjust="spacingAndGlyphs" >Days post-HCT</text>
<line x1="36.60" y1="416.00" x2="36.60" y2="444.30" stroke="#181818" stroke-width="1" />
<line x1="36.60" y1="447.40" x2="36.60" y2="524.10" stroke="#181818" stroke-width="1" />
<line x1="35.40" y1="444.30" x2="37.80" y2="444.30" stroke="#181818" stroke-width="0.8" />
<line x1="35.40" y1="447.40" x2="37.80" y2="447.40" stroke="#181818" stroke-width="0.8" />
<line x1="36.10" y1="523.60" x2="151.80" y2="523.60" stroke="#181818" stroke-width="1" />
<line x1="33.60" y1="418.60" x2="36.60" y2="418.60" stroke="#181818" stroke-width="0.8" />
<text x="30.70" y="420.90" font-size="6.5" text-anchor="end" fill="#383838" font-weight="normal" stroke="#383838" stroke-width="0.1" >170</text>
<line x1="33.60" y1="431.30" x2="36.60" y2="431.30" stroke="#181818" stroke-width="0.8" />
<text x="30.70" y="433.60" font-size="6.5" text-anchor="end" fill="#383838" font-weight="normal" stroke="#383838" stroke-width="0.1" >150</text>
<line x1="33.60" y1="460.40" x2="36.60" y2="460.40" stroke="#181818" stroke-width="0.8" />
<text x="30.70" y="462.70" font-size="6.5" text-anchor="end" fill="#383838" font-weight="normal" stroke="#383838" stroke-width="0.1" >100</text>
<line x1="33.60" y1="476.20" x2="36.60" y2="476.20" stroke="#181818" stroke-width="0.8" />
<text x="30.70" y="478.50" font-size="6.5" text-anchor="end" fill="#383838" font-weight="normal" stroke="#383838" stroke-width="0.1" >75</text>
<line x1="33.60" y1="492.00" x2="36.60" y2="492.00" stroke="#181818" stroke-width="0.8" />
<text x="30.70" y="494.30" font-size="6.5" text-anchor="end" fill="#383838" font-weight="normal" stroke="#383838" stroke-width="0.1" >50</text>
<line x1="33.60" y1="507.80" x2="36.60" y2="507.80" stroke="#181818" stroke-width="0.8" />
<text x="30.70" y="510.10" font-size="6.5" text-anchor="end" fill="#383838" font-weight="normal" stroke="#383838" stroke-width="0.1" >25</text>
<line x1="33.60" y1="523.60" x2="36.60" y2="523.60" stroke="#181818" stroke-width="0.8" />
<text x="30.70" y="525.90" font-size="6.5" text-anchor="end" fill="#383838" font-weight="normal" stroke="#383838" stroke-width="0.1" >0</text>
<line x1="48.50" y1="523.60" x2="48.50" y2="526.00" stroke="#181818" stroke-width="0.8" />
<text x="48.50" y="535.70" font-size="6.2" text-anchor="middle" fill="#383838" font-weight="normal" stroke="#383838" stroke-width="0.1" >DL1</text>
<line x1="63.90" y1="523.60" x2="63.90" y2="526.00" stroke="#181818" stroke-width="0.8" />
<text x="63.90" y="535.70" font-size="6.2" text-anchor="middle" fill="#383838" font-weight="normal" stroke="#383838" stroke-width="0.1" >DL2</text>
<line x1="79.30" y1="523.60" x2="79.30" y2="526.00" stroke="#181818" stroke-width="0.8" />
<text x="79.30" y="535.70" font-size="6.2" text-anchor="middle" fill="#383838" font-weight="normal" stroke="#383838" stroke-width="0.1" >DL3</text>
<line x1="109.60" y1="523.60" x2="109.60" y2="526.00" stroke="#181818" stroke-width="0.8" />
<text x="109.60" y="535.70" font-size="6.2" text-anchor="middle" fill="#383838" font-weight="normal" stroke="#383838" stroke-width="0.1" >DL1</text>
<line x1="124.90" y1="523.60" x2="124.90" y2="526.00" stroke="#181818" stroke-width="0.8" />
<text x="124.90" y="535.70" font-size="6.2" text-anchor="middle" fill="#383838" font-weight="normal" stroke="#383838" stroke-width="0.1" >DL2</text>
<line x1="140.40" y1="523.60" x2="140.40" y2="526.00" stroke="#181818" stroke-width="0.8" />
<text x="140.40" y="535.70" font-size="6.2" text-anchor="middle" fill="#383838" font-weight="normal" stroke="#383838" stroke-width="0.1" >DL3</text>
<text x="63.70" y="547.40" font-size="8.8" text-anchor="middle" fill="#222" stroke="#222" stroke-width="0.28" letter-spacing="0.6" font-weight="normal" textLength="46.2" lengthAdjust="spacingAndGlyphs" >Cystitis/Urethritis</text>
<text x="126.40" y="547.40" font-size="8.8" text-anchor="middle" fill="#222" stroke="#222" stroke-width="0.28" letter-spacing="0.6" font-weight="normal" textLength="52.9" lengthAdjust="spacingAndGlyphs" >Hemorrhagic cystitis</text>
<text x="15.00" y="470.20" font-size="8.4" text-anchor="middle" fill="#222" stroke="#222" stroke-width="0.18"  font-weight="normal" textLength="75.7" lengthAdjust="spacingAndGlyphs" transform="rotate(-90 15.00 470.20)">Duration of symptoms (days)</text>
<line x1="48.50" y1="424.60" x2="48.50" y2="441.30" stroke="#f0b060" stroke-width="0.9" />
<line x1="45.70" y1="424.60" x2="51.30" y2="424.60" stroke="#e0962a" stroke-width="1.0" />
<rect x="43.10" y="441.60" width="10.80" height="2.20" fill="#f6c07a" stroke="#f0b060" stroke-width="0.5"/>
<line x1="48.50" y1="501.20" x2="48.50" y2="507.80" stroke="#f0b060" stroke-width="0.9" />
<line x1="45.70" y1="507.80" x2="51.30" y2="507.80" stroke="#e0962a" stroke-width="1.0" />
<rect x="43.10" y="447.90" width="10.80" height="53.30" fill="#f9c98b" stroke="#f0b060" stroke-width="0.5"/>
<line x1="43.10" y1="476.90" x2="53.90" y2="476.90" stroke="#e0962a" stroke-width="1.0" />
<circle cx="48.50" cy="453.60" r="0.9" fill="#e0962a"/>
<circle cx="48.50" cy="495.80" r="0.9" fill="#e0962a"/>
<circle cx="48.50" cy="476.90" r="0.9" fill="#e0962a"/>
<line x1="63.85" y1="458.30" x2="63.85" y2="497.00" stroke="#c46070" stroke-width="0.9" />
<line x1="61.05" y1="458.30" x2="66.65" y2="458.30" stroke="#b01538" stroke-width="1.0" />
<line x1="63.85" y1="518.20" x2="63.85" y2="523.60" stroke="#c46070" stroke-width="0.9" />
<line x1="61.05" y1="523.60" x2="66.65" y2="523.60" stroke="#b01538" stroke-width="1.0" />
<rect x="58.30" y="497.00" width="11.10" height="21.20" fill="#f09a9c" stroke="#c46070" stroke-width="0.5"/>
<line x1="58.30" y1="509.40" x2="69.40" y2="509.40" stroke="#b01538" stroke-width="1.0" />
<circle cx="63.90" cy="458.30" r="0.9" fill="#b01538"/>
<circle cx="63.90" cy="469.00" r="0.9" fill="#b01538"/>
<circle cx="59.60" cy="495.00" r="0.9" fill="#b01538"/>
<circle cx="68.20" cy="496.50" r="0.9" fill="#b01538"/>
<circle cx="59.60" cy="498.50" r="0.9" fill="#b01538"/>
<circle cx="63.90" cy="497.80" r="0.9" fill="#b01538"/>
<circle cx="63.90" cy="503.50" r="0.9" fill="#b01538"/>
<circle cx="59.60" cy="509.40" r="0.9" fill="#b01538"/>
<circle cx="68.20" cy="509.40" r="0.9" fill="#b01538"/>
<circle cx="63.90" cy="509.40" r="0.9" fill="#b01538"/>
<circle cx="63.90" cy="512.50" r="0.9" fill="#b01538"/>
<circle cx="59.60" cy="515.00" r="0.9" fill="#b01538"/>
<circle cx="68.20" cy="515.00" r="0.9" fill="#b01538"/>
<circle cx="63.90" cy="517.50" r="0.9" fill="#b01538"/>
<circle cx="63.90" cy="521.00" r="0.9" fill="#b01538"/>
<circle cx="60.50" cy="523.00" r="0.9" fill="#b01538"/>
<circle cx="67.00" cy="523.00" r="0.9" fill="#b01538"/>
<line x1="79.35" y1="490.20" x2="79.35" y2="493.00" stroke="#5f74ad" stroke-width="0.9" />
<line x1="76.55" y1="490.20" x2="82.15" y2="490.20" stroke="#1c4f92" stroke-width="1.0" />
<rect x="73.80" y="493.00" width="11.10" height="30.60" fill="#8e9cca" stroke="#5f74ad" stroke-width="0.5"/>
<line x1="73.80" y1="515.30" x2="84.90" y2="515.30" stroke="#1c4f92" stroke-width="1.0" />
<circle cx="79.30" cy="493.50" r="0.9" fill="#1c4f92"/>
<circle cx="79.30" cy="515.30" r="0.9" fill="#1c4f92"/>
<circle cx="77.00" cy="523.20" r="0.9" fill="#1c4f92"/>
<circle cx="81.50" cy="523.20" r="0.9" fill="#1c4f92"/>
<line x1="109.60" y1="429.20" x2="109.60" y2="455.70" stroke="#f0b060" stroke-width="0.9" />
<line x1="106.80" y1="429.20" x2="112.40" y2="429.20" stroke="#e0962a" stroke-width="1.0" />
<line x1="109.60" y1="505.90" x2="109.60" y2="508.50" stroke="#f0b060" stroke-width="0.9" />
<line x1="106.80" y1="508.50" x2="112.40" y2="508.50" stroke="#e0962a" stroke-width="1.0" />
<rect x="104.40" y="455.70" width="10.40" height="50.20" fill="#f9c98b" stroke="#f0b060" stroke-width="0.5"/>
<line x1="104.40" y1="491.30" x2="114.80" y2="491.30" stroke="#e0962a" stroke-width="1.0" />
<circle cx="109.60" cy="441.00" r="0.9" fill="#e0962a"/>
<circle cx="109.60" cy="486.00" r="0.9" fill="#e0962a"/>
<circle cx="109.60" cy="505.20" r="0.9" fill="#e0962a"/>
<circle cx="109.60" cy="491.30" r="0.9" fill="#e0962a"/>
<line x1="124.90" y1="482.20" x2="124.90" y2="512.80" stroke="#c46070" stroke-width="0.9" />
<line x1="122.10" y1="482.20" x2="127.70" y2="482.20" stroke="#b01538" stroke-width="1.0" />
<rect x="119.50" y="512.80" width="10.80" height="10.60" fill="#f09a9c" stroke="#c46070" stroke-width="0.5"/>
<line x1="119.50" y1="519.30" x2="130.30" y2="519.30" stroke="#b01538" stroke-width="1.0" />
<circle cx="124.90" cy="482.20" r="0.9" fill="#b01538"/>
<circle cx="124.90" cy="492.00" r="0.9" fill="#b01538"/>
<circle cx="122.00" cy="505.50" r="0.9" fill="#b01538"/>
<circle cx="127.50" cy="506.50" r="0.9" fill="#b01538"/>
<circle cx="124.90" cy="510.50" r="0.9" fill="#b01538"/>
<circle cx="121.00" cy="514.00" r="0.9" fill="#b01538"/>
<circle cx="128.50" cy="513.50" r="0.9" fill="#b01538"/>
<circle cx="124.90" cy="516.00" r="0.9" fill="#b01538"/>
<circle cx="121.50" cy="519.50" r="0.9" fill="#b01538"/>
<circle cx="127.50" cy="519.00" r="0.9" fill="#b01538"/>
<circle cx="124.90" cy="522.50" r="0.9" fill="#b01538"/>
<circle cx="121.00" cy="523.00" r="0.9" fill="#b01538"/>
<circle cx="128.50" cy="523.00" r="0.9" fill="#b01538"/>
<line x1="140.40" y1="492.30" x2="140.40" y2="500.50" stroke="#5f74ad" stroke-width="0.9" />
<line x1="137.60" y1="492.30" x2="143.20" y2="492.30" stroke="#1c4f92" stroke-width="1.0" />
<rect x="135.00" y="500.50" width="10.80" height="23.10" fill="#8e9cca" stroke="#5f74ad" stroke-width="0.5"/>
<line x1="135.00" y1="520.40" x2="145.80" y2="520.40" stroke="#1c4f92" stroke-width="1.0" />
<circle cx="140.40" cy="505.50" r="0.9" fill="#1c4f92"/>
<circle cx="140.40" cy="520.40" r="0.9" fill="#1c4f92"/>
<circle cx="137.50" cy="523.20" r="0.9" fill="#1c4f92"/>
<circle cx="143.00" cy="523.20" r="0.9" fill="#1c4f92"/>
<line x1="42.90" y1="418.80" x2="70.50" y2="418.80" stroke="#666" stroke-width="0.75" />
<text x="56.70" y="417.40" font-size="5.6" text-anchor="middle" fill="#222" font-weight="bold" >*</text>
<line x1="104.40" y1="419.00" x2="134.20" y2="419.00" stroke="#444" stroke-width="0.75" />
<text x="119.00" y="417.60" font-size="5.6" text-anchor="middle" fill="#222" font-weight="bold" >**</text>
<line x1="192.60" y1="416.50" x2="192.60" y2="524.30" stroke="#181818" stroke-width="1.2" />
<line x1="190.80" y1="523.80" x2="324.60" y2="523.80" stroke="#181818" stroke-width="1.2" />
<line x1="189.90" y1="523.80" x2="192.70" y2="523.80" stroke="#181818" stroke-width="0.8" />
<text x="187.50" y="526.10" font-size="6.5" text-anchor="end" fill="#383838" font-weight="normal" stroke="#383838" stroke-width="0.1" >0</text>
<line x1="189.90" y1="502.90" x2="192.70" y2="502.90" stroke="#181818" stroke-width="0.8" />
<text x="187.50" y="505.20" font-size="6.5" text-anchor="end" fill="#383838" font-weight="normal" stroke="#383838" stroke-width="0.1" >1</text>
<line x1="189.90" y1="482.00" x2="192.70" y2="482.00" stroke="#181818" stroke-width="0.8" />
<text x="187.50" y="484.30" font-size="6.5" text-anchor="end" fill="#383838" font-weight="normal" stroke="#383838" stroke-width="0.1" >2</text>
<line x1="189.90" y1="461.10" x2="192.70" y2="461.10" stroke="#181818" stroke-width="0.8" />
<text x="187.50" y="463.40" font-size="6.5" text-anchor="end" fill="#383838" font-weight="normal" stroke="#383838" stroke-width="0.1" >3</text>
<line x1="189.90" y1="440.20" x2="192.70" y2="440.20" stroke="#181818" stroke-width="0.8" />
<text x="187.50" y="442.50" font-size="6.5" text-anchor="end" fill="#383838" font-weight="normal" stroke="#383838" stroke-width="0.1" >4</text>
<line x1="189.90" y1="419.30" x2="192.70" y2="419.30" stroke="#181818" stroke-width="0.8" />
<text x="187.50" y="421.60" font-size="6.5" text-anchor="end" fill="#383838" font-weight="normal" stroke="#383838" stroke-width="0.1" >5</text>
<line x1="192.70" y1="523.80" x2="192.70" y2="526.30" stroke="#181818" stroke-width="0.8" />
<text x="192.70" y="536.00" font-size="6.5" text-anchor="middle" fill="#383838" font-weight="normal" stroke="#383838" stroke-width="0.1" >0</text>
<line x1="201.97" y1="523.80" x2="201.97" y2="526.30" stroke="#181818" stroke-width="0.8" />
<text x="201.97" y="536.00" font-size="6.5" text-anchor="middle" fill="#383838" font-weight="normal" stroke="#383838" stroke-width="0.1" >1</text>
<line x1="211.24" y1="523.80" x2="211.24" y2="526.30" stroke="#181818" stroke-width="0.8" />
<text x="211.24" y="536.00" font-size="6.5" text-anchor="middle" fill="#383838" font-weight="normal" stroke="#383838" stroke-width="0.1" >2</text>
<line x1="220.51" y1="523.80" x2="220.51" y2="526.30" stroke="#181818" stroke-width="0.8" />
<text x="220.51" y="536.00" font-size="6.5" text-anchor="middle" fill="#383838" font-weight="normal" stroke="#383838" stroke-width="0.1" >3</text>
<line x1="229.78" y1="523.80" x2="229.78" y2="526.30" stroke="#181818" stroke-width="0.8" />
<text x="229.78" y="536.00" font-size="6.5" text-anchor="middle" fill="#383838" font-weight="normal" stroke="#383838" stroke-width="0.1" >4</text>
<line x1="239.05" y1="523.80" x2="239.05" y2="526.30" stroke="#181818" stroke-width="0.8" />
<text x="239.05" y="536.00" font-size="6.5" text-anchor="middle" fill="#383838" font-weight="normal" stroke="#383838" stroke-width="0.1" >5</text>
<line x1="248.32" y1="523.80" x2="248.32" y2="526.30" stroke="#181818" stroke-width="0.8" />
<text x="248.32" y="536.00" font-size="6.5" text-anchor="middle" fill="#383838" font-weight="normal" stroke="#383838" stroke-width="0.1" >6</text>
<line x1="257.59" y1="523.80" x2="257.59" y2="526.30" stroke="#181818" stroke-width="0.8" />
<text x="257.59" y="536.00" font-size="6.5" text-anchor="middle" fill="#383838" font-weight="normal" stroke="#383838" stroke-width="0.1" >7</text>
<line x1="266.86" y1="523.80" x2="266.86" y2="526.30" stroke="#181818" stroke-width="0.8" />
<text x="266.86" y="536.00" font-size="6.5" text-anchor="middle" fill="#383838" font-weight="normal" stroke="#383838" stroke-width="0.1" >8</text>
<line x1="276.13" y1="523.80" x2="276.13" y2="526.30" stroke="#181818" stroke-width="0.8" />
<text x="276.13" y="536.00" font-size="6.5" text-anchor="middle" fill="#383838" font-weight="normal" stroke="#383838" stroke-width="0.1" >9</text>
<line x1="285.40" y1="523.80" x2="285.40" y2="526.30" stroke="#181818" stroke-width="0.8" />
<text x="285.40" y="536.00" font-size="6.5" text-anchor="middle" fill="#383838" font-weight="normal" stroke="#383838" stroke-width="0.1" >10</text>
<line x1="294.67" y1="523.80" x2="294.67" y2="526.30" stroke="#181818" stroke-width="0.8" />
<text x="294.67" y="536.00" font-size="6.5" text-anchor="middle" fill="#383838" font-weight="normal" stroke="#383838" stroke-width="0.1" >11</text>
<line x1="303.94" y1="523.80" x2="303.94" y2="526.30" stroke="#181818" stroke-width="0.8" />
<text x="303.94" y="536.00" font-size="6.5" text-anchor="middle" fill="#383838" font-weight="normal" stroke="#383838" stroke-width="0.1" >12</text>
<line x1="313.21" y1="523.80" x2="313.21" y2="526.30" stroke="#181818" stroke-width="0.8" />
<text x="313.21" y="536.00" font-size="6.5" text-anchor="middle" fill="#383838" font-weight="normal" stroke="#383838" stroke-width="0.1" >13</text>
<line x1="322.48" y1="523.80" x2="322.48" y2="526.30" stroke="#181818" stroke-width="0.8" />
<text x="322.48" y="536.00" font-size="6.5" text-anchor="middle" fill="#383838" font-weight="normal" stroke="#383838" stroke-width="0.1" >14</text>
<line x1="229.78" y1="508.54" x2="229.78" y2="523.80" stroke="#5f84b4" stroke-width="0.9" opacity="0.85"/>
<line x1="227.98" y1="508.54" x2="231.58" y2="508.54" stroke="#5f84b4" stroke-width="0.9" opacity="0.85"/>
<line x1="227.98" y1="523.80" x2="231.58" y2="523.80" stroke="#5f84b4" stroke-width="0.9" opacity="0.85"/>
<line x1="239.05" y1="493.91" x2="239.05" y2="519.20" stroke="#5f84b4" stroke-width="0.9" opacity="0.85"/>
<line x1="237.25" y1="493.91" x2="240.85" y2="493.91" stroke="#5f84b4" stroke-width="0.9" opacity="0.85"/>
<line x1="237.25" y1="519.20" x2="240.85" y2="519.20" stroke="#5f84b4" stroke-width="0.9" opacity="0.85"/>
<line x1="248.32" y1="466.53" x2="248.32" y2="512.30" stroke="#5f84b4" stroke-width="0.9" opacity="0.85"/>
<line x1="246.52" y1="466.53" x2="250.12" y2="466.53" stroke="#5f84b4" stroke-width="0.9" opacity="0.85"/>
<line x1="246.52" y1="512.30" x2="250.12" y2="512.30" stroke="#5f84b4" stroke-width="0.9" opacity="0.85"/>
<line x1="257.59" y1="464.03" x2="257.59" y2="509.59" stroke="#5f84b4" stroke-width="0.9" opacity="0.85"/>
<line x1="255.79" y1="464.03" x2="259.39" y2="464.03" stroke="#5f84b4" stroke-width="0.9" opacity="0.85"/>
<line x1="255.79" y1="509.59" x2="259.39" y2="509.59" stroke="#5f84b4" stroke-width="0.9" opacity="0.85"/>
<line x1="266.86" y1="476.36" x2="266.86" y2="512.10" stroke="#5f84b4" stroke-width="0.9" opacity="0.85"/>
<line x1="265.06" y1="476.36" x2="268.66" y2="476.36" stroke="#5f84b4" stroke-width="0.9" opacity="0.85"/>
<line x1="265.06" y1="512.10" x2="268.66" y2="512.10" stroke="#5f84b4" stroke-width="0.9" opacity="0.85"/>
<line x1="276.13" y1="480.33" x2="276.13" y2="510.01" stroke="#5f84b4" stroke-width="0.9" opacity="0.85"/>
<line x1="274.33" y1="480.33" x2="277.93" y2="480.33" stroke="#5f84b4" stroke-width="0.9" opacity="0.85"/>
<line x1="274.33" y1="510.01" x2="277.93" y2="510.01" stroke="#5f84b4" stroke-width="0.9" opacity="0.85"/>
<line x1="285.40" y1="464.03" x2="285.40" y2="487.43" stroke="#5f84b4" stroke-width="0.9" opacity="0.85"/>
<line x1="283.60" y1="464.03" x2="287.20" y2="464.03" stroke="#5f84b4" stroke-width="0.9" opacity="0.85"/>
<line x1="283.60" y1="487.43" x2="287.20" y2="487.43" stroke="#5f84b4" stroke-width="0.9" opacity="0.85"/>
<line x1="294.67" y1="462.35" x2="294.67" y2="491.40" stroke="#5f84b4" stroke-width="0.9" opacity="0.85"/>
<line x1="292.87" y1="462.35" x2="296.47" y2="462.35" stroke="#5f84b4" stroke-width="0.9" opacity="0.85"/>
<line x1="292.87" y1="491.40" x2="296.47" y2="491.40" stroke="#5f84b4" stroke-width="0.9" opacity="0.85"/>
<line x1="303.94" y1="479.91" x2="303.94" y2="499.56" stroke="#5f84b4" stroke-width="0.9" opacity="0.85"/>
<line x1="302.14" y1="479.91" x2="305.74" y2="479.91" stroke="#5f84b4" stroke-width="0.9" opacity="0.85"/>
<line x1="302.14" y1="499.56" x2="305.74" y2="499.56" stroke="#5f84b4" stroke-width="0.9" opacity="0.85"/>
<line x1="313.21" y1="478.86" x2="313.21" y2="510.01" stroke="#5f84b4" stroke-width="0.9" opacity="0.85"/>
<line x1="311.41" y1="478.86" x2="315.01" y2="478.86" stroke="#5f84b4" stroke-width="0.9" opacity="0.85"/>
<line x1="311.41" y1="510.01" x2="315.01" y2="510.01" stroke="#5f84b4" stroke-width="0.9" opacity="0.85"/>
<line x1="322.48" y1="502.69" x2="322.48" y2="519.20" stroke="#5f84b4" stroke-width="0.9" opacity="0.85"/>
<line x1="320.68" y1="502.69" x2="324.28" y2="502.69" stroke="#5f84b4" stroke-width="0.9" opacity="0.85"/>
<line x1="320.68" y1="519.20" x2="324.28" y2="519.20" stroke="#5f84b4" stroke-width="0.9" opacity="0.85"/>
<line x1="192.70" y1="514.60" x2="192.70" y2="523.80" stroke="#d9506e" stroke-width="0.9" opacity="0.85"/>
<line x1="190.90" y1="514.60" x2="194.50" y2="514.60" stroke="#d9506e" stroke-width="0.9" opacity="0.85"/>
<line x1="190.90" y1="523.80" x2="194.50" y2="523.80" stroke="#d9506e" stroke-width="0.9" opacity="0.85"/>
<line x1="201.97" y1="515.65" x2="201.97" y2="523.80" stroke="#d9506e" stroke-width="0.9" opacity="0.85"/>
<line x1="200.17" y1="515.65" x2="203.77" y2="515.65" stroke="#d9506e" stroke-width="0.9" opacity="0.85"/>
<line x1="200.17" y1="523.80" x2="203.77" y2="523.80" stroke="#d9506e" stroke-width="0.9" opacity="0.85"/>
<line x1="211.24" y1="513.56" x2="211.24" y2="523.80" stroke="#d9506e" stroke-width="0.9" opacity="0.85"/>
<line x1="209.44" y1="513.56" x2="213.04" y2="513.56" stroke="#d9506e" stroke-width="0.9" opacity="0.85"/>
<line x1="209.44" y1="523.80" x2="213.04" y2="523.80" stroke="#d9506e" stroke-width="0.9" opacity="0.85"/>
<line x1="220.51" y1="497.26" x2="220.51" y2="512.10" stroke="#d9506e" stroke-width="0.9" opacity="0.85"/>
<line x1="218.71" y1="497.26" x2="222.31" y2="497.26" stroke="#d9506e" stroke-width="0.9" opacity="0.85"/>
<line x1="218.71" y1="512.10" x2="222.31" y2="512.10" stroke="#d9506e" stroke-width="0.9" opacity="0.85"/>
<line x1="229.78" y1="492.45" x2="229.78" y2="508.54" stroke="#d9506e" stroke-width="0.9" opacity="0.85"/>
<line x1="227.98" y1="492.45" x2="231.58" y2="492.45" stroke="#d9506e" stroke-width="0.9" opacity="0.85"/>
<line x1="227.98" y1="508.54" x2="231.58" y2="508.54" stroke="#d9506e" stroke-width="0.9" opacity="0.85"/>
<line x1="239.05" y1="485.76" x2="239.05" y2="500.60" stroke="#d9506e" stroke-width="0.9" opacity="0.85"/>
<line x1="237.25" y1="485.76" x2="240.85" y2="485.76" stroke="#d9506e" stroke-width="0.9" opacity="0.85"/>
<line x1="237.25" y1="500.60" x2="240.85" y2="500.60" stroke="#d9506e" stroke-width="0.9" opacity="0.85"/>
<line x1="248.32" y1="466.53" x2="248.32" y2="491.82" stroke="#d9506e" stroke-width="0.9" opacity="0.85"/>
<line x1="246.52" y1="466.53" x2="250.12" y2="466.53" stroke="#d9506e" stroke-width="0.9" opacity="0.85"/>
<line x1="246.52" y1="491.82" x2="250.12" y2="491.82" stroke="#d9506e" stroke-width="0.9" opacity="0.85"/>
<line x1="257.59" y1="472.39" x2="257.59" y2="488.90" stroke="#d9506e" stroke-width="0.9" opacity="0.85"/>
<line x1="255.79" y1="472.39" x2="259.39" y2="472.39" stroke="#d9506e" stroke-width="0.9" opacity="0.85"/>
<line x1="255.79" y1="488.90" x2="259.39" y2="488.90" stroke="#d9506e" stroke-width="0.9" opacity="0.85"/>
<line x1="266.86" y1="475.94" x2="266.86" y2="494.75" stroke="#d9506e" stroke-width="0.9" opacity="0.85"/>
<line x1="265.06" y1="475.94" x2="268.66" y2="475.94" stroke="#d9506e" stroke-width="0.9" opacity="0.85"/>
<line x1="265.06" y1="494.75" x2="268.66" y2="494.75" stroke="#d9506e" stroke-width="0.9" opacity="0.85"/>
<line x1="276.13" y1="480.33" x2="276.13" y2="499.56" stroke="#d9506e" stroke-width="0.9" opacity="0.85"/>
<line x1="274.33" y1="480.33" x2="277.93" y2="480.33" stroke="#d9506e" stroke-width="0.9" opacity="0.85"/>
<line x1="274.33" y1="499.56" x2="277.93" y2="499.56" stroke="#d9506e" stroke-width="0.9" opacity="0.85"/>
<line x1="285.40" y1="487.43" x2="285.40" y2="503.32" stroke="#d9506e" stroke-width="0.9" opacity="0.85"/>
<line x1="283.60" y1="487.43" x2="287.20" y2="487.43" stroke="#d9506e" stroke-width="0.9" opacity="0.85"/>
<line x1="283.60" y1="503.32" x2="287.20" y2="503.32" stroke="#d9506e" stroke-width="0.9" opacity="0.85"/>
<line x1="294.67" y1="496.63" x2="294.67" y2="510.21" stroke="#d9506e" stroke-width="0.9" opacity="0.85"/>
<line x1="292.87" y1="496.63" x2="296.47" y2="496.63" stroke="#d9506e" stroke-width="0.9" opacity="0.85"/>
<line x1="292.87" y1="510.21" x2="296.47" y2="510.21" stroke="#d9506e" stroke-width="0.9" opacity="0.85"/>
<line x1="303.94" y1="498.72" x2="303.94" y2="510.63" stroke="#d9506e" stroke-width="0.9" opacity="0.85"/>
<line x1="302.14" y1="498.72" x2="305.74" y2="498.72" stroke="#d9506e" stroke-width="0.9" opacity="0.85"/>
<line x1="302.14" y1="510.63" x2="305.74" y2="510.63" stroke="#d9506e" stroke-width="0.9" opacity="0.85"/>
<line x1="313.21" y1="510.63" x2="313.21" y2="519.20" stroke="#d9506e" stroke-width="0.9" opacity="0.85"/>
<line x1="311.41" y1="510.63" x2="315.01" y2="510.63" stroke="#d9506e" stroke-width="0.9" opacity="0.85"/>
<line x1="311.41" y1="519.20" x2="315.01" y2="519.20" stroke="#d9506e" stroke-width="0.9" opacity="0.85"/>
<line x1="322.48" y1="502.06" x2="322.48" y2="513.98" stroke="#d9506e" stroke-width="0.9" opacity="0.85"/>
<line x1="320.68" y1="502.06" x2="324.28" y2="502.06" stroke="#d9506e" stroke-width="0.9" opacity="0.85"/>
<line x1="320.68" y1="513.98" x2="324.28" y2="513.98" stroke="#d9506e" stroke-width="0.9" opacity="0.85"/>
<line x1="192.70" y1="495.17" x2="192.70" y2="523.80" stroke="#f6b85c" stroke-width="0.9" opacity="0.85"/>
<line x1="190.90" y1="495.17" x2="194.50" y2="495.17" stroke="#f6b85c" stroke-width="0.9" opacity="0.85"/>
<line x1="190.90" y1="523.80" x2="194.50" y2="523.80" stroke="#f6b85c" stroke-width="0.9" opacity="0.85"/>
<line x1="201.97" y1="502.06" x2="201.97" y2="523.80" stroke="#f6b85c" stroke-width="0.9" opacity="0.85"/>
<line x1="200.17" y1="502.06" x2="203.77" y2="502.06" stroke="#f6b85c" stroke-width="0.9" opacity="0.85"/>
<line x1="200.17" y1="523.80" x2="203.77" y2="523.80" stroke="#f6b85c" stroke-width="0.9" opacity="0.85"/>
<line x1="211.24" y1="499.56" x2="211.24" y2="523.80" stroke="#f6b85c" stroke-width="0.9" opacity="0.85"/>
<line x1="209.44" y1="499.56" x2="213.04" y2="499.56" stroke="#f6b85c" stroke-width="0.9" opacity="0.85"/>
<line x1="209.44" y1="523.80" x2="213.04" y2="523.80" stroke="#f6b85c" stroke-width="0.9" opacity="0.85"/>
<line x1="220.51" y1="491.20" x2="220.51" y2="519.20" stroke="#f6b85c" stroke-width="0.9" opacity="0.85"/>
<line x1="218.71" y1="491.20" x2="222.31" y2="491.20" stroke="#f6b85c" stroke-width="0.9" opacity="0.85"/>
<line x1="218.71" y1="519.20" x2="222.31" y2="519.20" stroke="#f6b85c" stroke-width="0.9" opacity="0.85"/>
<line x1="229.78" y1="466.32" x2="229.78" y2="493.91" stroke="#f6b85c" stroke-width="0.9" opacity="0.85"/>
<line x1="227.98" y1="466.32" x2="231.58" y2="466.32" stroke="#f6b85c" stroke-width="0.9" opacity="0.85"/>
<line x1="227.98" y1="493.91" x2="231.58" y2="493.91" stroke="#f6b85c" stroke-width="0.9" opacity="0.85"/>
<line x1="239.05" y1="454.41" x2="239.05" y2="482.42" stroke="#f6b85c" stroke-width="0.9" opacity="0.85"/>
<line x1="237.25" y1="454.41" x2="240.85" y2="454.41" stroke="#f6b85c" stroke-width="0.9" opacity="0.85"/>
<line x1="237.25" y1="482.42" x2="240.85" y2="482.42" stroke="#f6b85c" stroke-width="0.9" opacity="0.85"/>
<line x1="248.32" y1="452.53" x2="248.32" y2="473.01" stroke="#f6b85c" stroke-width="0.9" opacity="0.85"/>
<line x1="246.52" y1="452.53" x2="250.12" y2="452.53" stroke="#f6b85c" stroke-width="0.9" opacity="0.85"/>
<line x1="246.52" y1="473.01" x2="250.12" y2="473.01" stroke="#f6b85c" stroke-width="0.9" opacity="0.85"/>
<line x1="257.59" y1="450.86" x2="257.59" y2="458.80" stroke="#f6b85c" stroke-width="0.9" opacity="0.85"/>
<line x1="255.79" y1="450.86" x2="259.39" y2="450.86" stroke="#f6b85c" stroke-width="0.9" opacity="0.85"/>
<line x1="255.79" y1="458.80" x2="259.39" y2="458.80" stroke="#f6b85c" stroke-width="0.9" opacity="0.85"/>
<line x1="266.86" y1="458.38" x2="266.86" y2="488.27" stroke="#f6b85c" stroke-width="0.9" opacity="0.85"/>
<line x1="265.06" y1="458.38" x2="268.66" y2="458.38" stroke="#f6b85c" stroke-width="0.9" opacity="0.85"/>
<line x1="265.06" y1="488.27" x2="268.66" y2="488.27" stroke="#f6b85c" stroke-width="0.9" opacity="0.85"/>
<line x1="276.13" y1="460.68" x2="276.13" y2="488.27" stroke="#f6b85c" stroke-width="0.9" opacity="0.85"/>
<line x1="274.33" y1="460.68" x2="277.93" y2="460.68" stroke="#f6b85c" stroke-width="0.9" opacity="0.85"/>
<line x1="274.33" y1="488.27" x2="277.93" y2="488.27" stroke="#f6b85c" stroke-width="0.9" opacity="0.85"/>
<line x1="285.40" y1="460.05" x2="285.40" y2="492.66" stroke="#f6b85c" stroke-width="0.9" opacity="0.85"/>
<line x1="283.60" y1="460.05" x2="287.20" y2="460.05" stroke="#f6b85c" stroke-width="0.9" opacity="0.85"/>
<line x1="283.60" y1="492.66" x2="287.20" y2="492.66" stroke="#f6b85c" stroke-width="0.9" opacity="0.85"/>
<line x1="294.67" y1="452.95" x2="294.67" y2="478.86" stroke="#f6b85c" stroke-width="0.9" opacity="0.85"/>
<line x1="292.87" y1="452.95" x2="296.47" y2="452.95" stroke="#f6b85c" stroke-width="0.9" opacity="0.85"/>
<line x1="292.87" y1="478.86" x2="296.47" y2="478.86" stroke="#f6b85c" stroke-width="0.9" opacity="0.85"/>
<line x1="303.94" y1="454.41" x2="303.94" y2="492.66" stroke="#f6b85c" stroke-width="0.9" opacity="0.85"/>
<line x1="302.14" y1="454.41" x2="305.74" y2="454.41" stroke="#f6b85c" stroke-width="0.9" opacity="0.85"/>
<line x1="302.14" y1="492.66" x2="305.74" y2="492.66" stroke="#f6b85c" stroke-width="0.9" opacity="0.85"/>
<line x1="313.21" y1="458.80" x2="313.21" y2="493.91" stroke="#f6b85c" stroke-width="0.9" opacity="0.85"/>
<line x1="311.41" y1="458.80" x2="315.01" y2="458.80" stroke="#f6b85c" stroke-width="0.9" opacity="0.85"/>
<line x1="311.41" y1="493.91" x2="315.01" y2="493.91" stroke="#f6b85c" stroke-width="0.9" opacity="0.85"/>
<line x1="322.48" y1="468.21" x2="322.48" y2="502.69" stroke="#f6b85c" stroke-width="0.9" opacity="0.85"/>
<line x1="320.68" y1="468.21" x2="324.28" y2="468.21" stroke="#f6b85c" stroke-width="0.9" opacity="0.85"/>
<line x1="320.68" y1="502.69" x2="324.28" y2="502.69" stroke="#f6b85c" stroke-width="0.9" opacity="0.85"/>
<path d="M220.51,523.80 C222.05,522.44 226.69,518.92 229.78,515.65 C232.87,512.37 235.96,508.54 239.05,504.15 C242.14,499.76 245.23,492.17 248.32,489.31 C251.41,486.46 254.50,486.25 257.59,487.02 C260.68,487.78 263.77,492.55 266.86,493.91 C269.95,495.27 273.04,497.67 276.13,495.17 C279.22,492.66 282.31,482.00 285.40,478.86 C288.49,475.73 291.58,474.51 294.67,476.36 C297.76,478.20 300.85,486.81 303.94,489.94 C307.03,493.08 310.12,492.55 313.21,495.17 C316.30,497.78 320.94,503.88 322.48,505.62" fill="none" stroke="#33628a" stroke-width="1.0"/>
<path d="M192.70,518.78 C194.25,518.92 198.88,519.90 201.97,519.62 C205.06,519.34 208.15,519.55 211.24,517.11 C214.33,514.67 217.42,507.74 220.51,504.99 C223.60,502.24 226.69,502.48 229.78,500.60 C232.87,498.72 235.96,496.60 239.05,493.70 C242.14,490.81 245.23,485.41 248.32,483.25 C251.41,481.09 254.50,480.40 257.59,480.75 C260.68,481.09 263.77,483.85 266.86,485.34 C269.95,486.84 273.04,488.17 276.13,489.73 C279.22,491.30 282.31,492.48 285.40,494.75 C288.49,497.01 291.58,501.72 294.67,503.32 C297.76,504.92 300.85,502.48 303.94,504.36 C307.03,506.24 310.12,513.98 313.21,514.60 C316.30,515.23 320.94,509.20 322.48,508.12" fill="none" stroke="#c21c44" stroke-width="1.0"/>
<path d="M192.70,510.01 C194.25,510.46 198.88,512.37 201.97,512.72 C205.06,513.07 208.15,513.38 211.24,512.10 C214.33,510.81 217.42,510.28 220.51,504.99 C223.60,499.70 226.69,486.42 229.78,480.33 C232.87,474.23 235.96,471.38 239.05,468.41 C242.14,465.45 245.23,464.90 248.32,462.56 C251.41,460.23 254.50,452.67 257.59,454.41 C260.68,456.15 263.77,469.63 266.86,473.01 C269.95,476.39 273.04,474.13 276.13,474.68 C279.22,475.24 282.31,477.99 285.40,476.36 C288.49,474.72 291.58,465.31 294.67,464.86 C297.76,464.41 300.85,471.79 303.94,473.64 C307.03,475.49 310.12,473.26 313.21,475.94 C316.30,478.62 320.94,487.43 322.48,489.73" fill="none" stroke="#f3a52e" stroke-width="1.0"/>
<circle cx="220.51" cy="523.80" r="1.75" fill="#1a2a55"/>
<circle cx="229.78" cy="515.65" r="1.75" fill="#1a2a55"/>
<circle cx="239.05" cy="504.15" r="1.75" fill="#1a2a55"/>
<circle cx="248.32" cy="489.31" r="1.75" fill="#1a2a55"/>
<circle cx="257.59" cy="487.02" r="1.75" fill="#1a2a55"/>
<circle cx="266.86" cy="493.91" r="1.75" fill="#1a2a55"/>
<circle cx="276.13" cy="495.17" r="1.75" fill="#1a2a55"/>
<circle cx="285.40" cy="478.86" r="1.75" fill="#1a2a55"/>
<circle cx="294.67" cy="476.36" r="1.75" fill="#1a2a55"/>
<circle cx="303.94" cy="489.94" r="1.75" fill="#1a2a55"/>
<circle cx="313.21" cy="495.17" r="1.75" fill="#1a2a55"/>
<circle cx="322.48" cy="505.62" r="1.75" fill="#1a2a55"/>
<circle cx="192.70" cy="518.78" r="1.75" fill="#a8103a"/>
<circle cx="201.97" cy="519.62" r="1.75" fill="#a8103a"/>
<circle cx="211.24" cy="517.11" r="1.75" fill="#a8103a"/>
<circle cx="220.51" cy="504.99" r="1.75" fill="#a8103a"/>
<circle cx="229.78" cy="500.60" r="1.75" fill="#a8103a"/>
<circle cx="239.05" cy="493.70" r="1.75" fill="#a8103a"/>
<circle cx="248.32" cy="483.25" r="1.75" fill="#a8103a"/>
<circle cx="257.59" cy="480.75" r="1.75" fill="#a8103a"/>
<circle cx="266.86" cy="485.34" r="1.75" fill="#a8103a"/>
<circle cx="276.13" cy="489.73" r="1.75" fill="#a8103a"/>
<circle cx="285.40" cy="494.75" r="1.75" fill="#a8103a"/>
<circle cx="294.67" cy="503.32" r="1.75" fill="#a8103a"/>
<circle cx="303.94" cy="504.36" r="1.75" fill="#a8103a"/>
<circle cx="313.21" cy="514.60" r="1.75" fill="#a8103a"/>
<circle cx="322.48" cy="508.12" r="1.75" fill="#a8103a"/>
<circle cx="192.70" cy="510.01" r="1.75" fill="#e3952a"/>
<circle cx="201.97" cy="512.72" r="1.75" fill="#e3952a"/>
<circle cx="211.24" cy="512.10" r="1.75" fill="#e3952a"/>
<circle cx="220.51" cy="504.99" r="1.75" fill="#e3952a"/>
<circle cx="229.78" cy="480.33" r="1.75" fill="#e3952a"/>
<circle cx="239.05" cy="468.41" r="1.75" fill="#e3952a"/>
<circle cx="248.32" cy="462.56" r="1.75" fill="#e3952a"/>
<circle cx="257.59" cy="454.41" r="1.75" fill="#e3952a"/>
<circle cx="266.86" cy="473.01" r="1.75" fill="#e3952a"/>
<circle cx="276.13" cy="474.68" r="1.75" fill="#e3952a"/>
<circle cx="285.40" cy="476.36" r="1.75" fill="#e3952a"/>
<circle cx="294.67" cy="464.86" r="1.75" fill="#e3952a"/>
<circle cx="303.94" cy="473.64" r="1.75" fill="#e3952a"/>
<circle cx="313.21" cy="475.94" r="1.75" fill="#e3952a"/>
<circle cx="322.48" cy="489.73" r="1.75" fill="#e3952a"/>
<text x="204.60" y="425.50" font-size="6.4" text-anchor="start" fill="#383838" font-weight="normal" stroke="#383838" stroke-width="0.1" textLength="62.4" lengthAdjust="spacingAndGlyphs">DL1 vs. DL2, <tspan font-style="italic">P</tspan> = .046</text>
<text x="204.60" y="433.20" font-size="6.4" text-anchor="start" fill="#383838" font-weight="normal" stroke="#383838" stroke-width="0.1" textLength="57.4" lengthAdjust="spacingAndGlyphs">DL1 vs. DL3, <tspan font-style="italic">P</tspan> = .42</text>
<text x="259.60" y="546.70" font-size="8.4" text-anchor="middle" fill="#222" stroke="#222" stroke-width="0.3" letter-spacing="0.8" font-weight="normal" textLength="43.7" lengthAdjust="spacingAndGlyphs" >Weeks post-HCT</text>
<text x="175.00" y="470.60" font-size="7.2" text-anchor="middle" fill="#222" stroke="#222" stroke-width="0.2"  font-weight="normal" textLength="75.0" lengthAdjust="spacingAndGlyphs" transform="rotate(-90 175.00 470.60)">BK viral level in blood (log<tspan font-size="4.5" dy="1.5">10</tspan><tspan dy="-1.5">)</tspan></text>
<line x1="378.40" y1="416.50" x2="378.40" y2="524.00" stroke="#181818" stroke-width="1.2" />
<line x1="374.80" y1="523.50" x2="512.30" y2="523.50" stroke="#181818" stroke-width="1.2" />
<line x1="375.00" y1="523.50" x2="378.40" y2="523.50" stroke="#181818" stroke-width="0.8" />
<text x="372.70" y="525.80" font-size="6.5" text-anchor="end" fill="#383838" font-weight="normal" stroke="#383838" stroke-width="0.1" >0</text>
<line x1="375.00" y1="512.97" x2="378.40" y2="512.97" stroke="#181818" stroke-width="0.8" />
<text x="372.70" y="515.27" font-size="6.5" text-anchor="end" fill="#383838" font-weight="normal" stroke="#383838" stroke-width="0.1" >1</text>
<line x1="375.00" y1="502.44" x2="378.40" y2="502.44" stroke="#181818" stroke-width="0.8" />
<text x="372.70" y="504.74" font-size="6.5" text-anchor="end" fill="#383838" font-weight="normal" stroke="#383838" stroke-width="0.1" >2</text>
<line x1="375.00" y1="491.91" x2="378.40" y2="491.91" stroke="#181818" stroke-width="0.8" />
<text x="372.70" y="494.21" font-size="6.5" text-anchor="end" fill="#383838" font-weight="normal" stroke="#383838" stroke-width="0.1" >3</text>
<line x1="375.00" y1="481.38" x2="378.40" y2="481.38" stroke="#181818" stroke-width="0.8" />
<text x="372.70" y="483.68" font-size="6.5" text-anchor="end" fill="#383838" font-weight="normal" stroke="#383838" stroke-width="0.1" >4</text>
<line x1="375.00" y1="470.85" x2="378.40" y2="470.85" stroke="#181818" stroke-width="0.8" />
<text x="372.70" y="473.15" font-size="6.5" text-anchor="end" fill="#383838" font-weight="normal" stroke="#383838" stroke-width="0.1" >5</text>
<line x1="375.00" y1="460.32" x2="378.40" y2="460.32" stroke="#181818" stroke-width="0.8" />
<text x="372.70" y="462.62" font-size="6.5" text-anchor="end" fill="#383838" font-weight="normal" stroke="#383838" stroke-width="0.1" >6</text>
<line x1="375.00" y1="449.79" x2="378.40" y2="449.79" stroke="#181818" stroke-width="0.8" />
<text x="372.70" y="452.09" font-size="6.5" text-anchor="end" fill="#383838" font-weight="normal" stroke="#383838" stroke-width="0.1" >7</text>
<line x1="375.00" y1="439.26" x2="378.40" y2="439.26" stroke="#181818" stroke-width="0.8" />
<text x="372.70" y="441.56" font-size="6.5" text-anchor="end" fill="#383838" font-weight="normal" stroke="#383838" stroke-width="0.1" >8</text>
<line x1="375.00" y1="428.73" x2="378.40" y2="428.73" stroke="#181818" stroke-width="0.8" />
<text x="372.70" y="431.03" font-size="6.5" text-anchor="end" fill="#383838" font-weight="normal" stroke="#383838" stroke-width="0.1" >9</text>
<line x1="375.00" y1="418.20" x2="378.40" y2="418.20" stroke="#181818" stroke-width="0.8" />
<text x="372.70" y="420.50" font-size="6.5" text-anchor="end" fill="#383838" font-weight="normal" stroke="#383838" stroke-width="0.1" >&gt;9.81</text>
<line x1="378.40" y1="523.50" x2="378.40" y2="526.00" stroke="#181818" stroke-width="0.8" />
<text x="378.40" y="536.00" font-size="6.5" text-anchor="middle" fill="#383838" font-weight="normal" stroke="#383838" stroke-width="0.1" >0</text>
<line x1="387.78" y1="523.50" x2="387.78" y2="526.00" stroke="#181818" stroke-width="0.8" />
<text x="387.78" y="536.00" font-size="6.5" text-anchor="middle" fill="#383838" font-weight="normal" stroke="#383838" stroke-width="0.1" >1</text>
<line x1="397.16" y1="523.50" x2="397.16" y2="526.00" stroke="#181818" stroke-width="0.8" />
<text x="397.16" y="536.00" font-size="6.5" text-anchor="middle" fill="#383838" font-weight="normal" stroke="#383838" stroke-width="0.1" >2</text>
<line x1="406.54" y1="523.50" x2="406.54" y2="526.00" stroke="#181818" stroke-width="0.8" />
<text x="406.54" y="536.00" font-size="6.5" text-anchor="middle" fill="#383838" font-weight="normal" stroke="#383838" stroke-width="0.1" >3</text>
<line x1="415.92" y1="523.50" x2="415.92" y2="526.00" stroke="#181818" stroke-width="0.8" />
<text x="415.92" y="536.00" font-size="6.5" text-anchor="middle" fill="#383838" font-weight="normal" stroke="#383838" stroke-width="0.1" >4</text>
<line x1="425.30" y1="523.50" x2="425.30" y2="526.00" stroke="#181818" stroke-width="0.8" />
<text x="425.30" y="536.00" font-size="6.5" text-anchor="middle" fill="#383838" font-weight="normal" stroke="#383838" stroke-width="0.1" >5</text>
<line x1="434.68" y1="523.50" x2="434.68" y2="526.00" stroke="#181818" stroke-width="0.8" />
<text x="434.68" y="536.00" font-size="6.5" text-anchor="middle" fill="#383838" font-weight="normal" stroke="#383838" stroke-width="0.1" >6</text>
<line x1="444.06" y1="523.50" x2="444.06" y2="526.00" stroke="#181818" stroke-width="0.8" />
<text x="444.06" y="536.00" font-size="6.5" text-anchor="middle" fill="#383838" font-weight="normal" stroke="#383838" stroke-width="0.1" >7</text>
<line x1="453.44" y1="523.50" x2="453.44" y2="526.00" stroke="#181818" stroke-width="0.8" />
<text x="453.44" y="536.00" font-size="6.5" text-anchor="middle" fill="#383838" font-weight="normal" stroke="#383838" stroke-width="0.1" >8</text>
<line x1="462.82" y1="523.50" x2="462.82" y2="526.00" stroke="#181818" stroke-width="0.8" />
<text x="462.82" y="536.00" font-size="6.5" text-anchor="middle" fill="#383838" font-weight="normal" stroke="#383838" stroke-width="0.1" >9</text>
<line x1="472.20" y1="523.50" x2="472.20" y2="526.00" stroke="#181818" stroke-width="0.8" />
<text x="472.20" y="536.00" font-size="6.5" text-anchor="middle" fill="#383838" font-weight="normal" stroke="#383838" stroke-width="0.1" >10</text>
<line x1="481.58" y1="523.50" x2="481.58" y2="526.00" stroke="#181818" stroke-width="0.8" />
<text x="481.58" y="536.00" font-size="6.5" text-anchor="middle" fill="#383838" font-weight="normal" stroke="#383838" stroke-width="0.1" >11</text>
<line x1="490.96" y1="523.50" x2="490.96" y2="526.00" stroke="#181818" stroke-width="0.8" />
<text x="490.96" y="536.00" font-size="6.5" text-anchor="middle" fill="#383838" font-weight="normal" stroke="#383838" stroke-width="0.1" >12</text>
<line x1="500.34" y1="523.50" x2="500.34" y2="526.00" stroke="#181818" stroke-width="0.8" />
<text x="500.34" y="536.00" font-size="6.5" text-anchor="middle" fill="#383838" font-weight="normal" stroke="#383838" stroke-width="0.1" >13</text>
<line x1="509.72" y1="523.50" x2="509.72" y2="526.00" stroke="#181818" stroke-width="0.8" />
<text x="509.72" y="536.00" font-size="6.5" text-anchor="middle" fill="#383838" font-weight="normal" stroke="#383838" stroke-width="0.1" >14</text>
<line x1="378.40" y1="513.71" x2="378.40" y2="523.50" stroke="#5f84b4" stroke-width="0.9" opacity="0.85"/>
<line x1="376.60" y1="513.71" x2="380.20" y2="513.71" stroke="#5f84b4" stroke-width="0.9" opacity="0.85"/>
<line x1="376.60" y1="523.50" x2="380.20" y2="523.50" stroke="#5f84b4" stroke-width="0.9" opacity="0.85"/>
<line x1="387.78" y1="512.65" x2="387.78" y2="523.50" stroke="#5f84b4" stroke-width="0.9" opacity="0.85"/>
<line x1="385.98" y1="512.65" x2="389.58" y2="512.65" stroke="#5f84b4" stroke-width="0.9" opacity="0.85"/>
<line x1="385.98" y1="523.50" x2="389.58" y2="523.50" stroke="#5f84b4" stroke-width="0.9" opacity="0.85"/>
<line x1="397.16" y1="500.44" x2="397.16" y2="518.13" stroke="#5f84b4" stroke-width="0.9" opacity="0.85"/>
<line x1="395.36" y1="500.44" x2="398.96" y2="500.44" stroke="#5f84b4" stroke-width="0.9" opacity="0.85"/>
<line x1="395.36" y1="518.13" x2="398.96" y2="518.13" stroke="#5f84b4" stroke-width="0.9" opacity="0.85"/>
<line x1="406.54" y1="485.17" x2="406.54" y2="515.29" stroke="#5f84b4" stroke-width="0.9" opacity="0.85"/>
<line x1="404.74" y1="485.17" x2="408.34" y2="485.17" stroke="#5f84b4" stroke-width="0.9" opacity="0.85"/>
<line x1="404.74" y1="515.29" x2="408.34" y2="515.29" stroke="#5f84b4" stroke-width="0.9" opacity="0.85"/>
<line x1="415.92" y1="474.64" x2="415.92" y2="512.65" stroke="#5f84b4" stroke-width="0.9" opacity="0.85"/>
<line x1="414.12" y1="474.64" x2="417.72" y2="474.64" stroke="#5f84b4" stroke-width="0.9" opacity="0.85"/>
<line x1="414.12" y1="512.65" x2="417.72" y2="512.65" stroke="#5f84b4" stroke-width="0.9" opacity="0.85"/>
<line x1="425.30" y1="472.64" x2="425.30" y2="508.65" stroke="#5f84b4" stroke-width="0.9" opacity="0.85"/>
<line x1="423.50" y1="472.64" x2="427.10" y2="472.64" stroke="#5f84b4" stroke-width="0.9" opacity="0.85"/>
<line x1="423.50" y1="508.65" x2="427.10" y2="508.65" stroke="#5f84b4" stroke-width="0.9" opacity="0.85"/>
<line x1="434.68" y1="462.43" x2="434.68" y2="507.18" stroke="#5f84b4" stroke-width="0.9" opacity="0.85"/>
<line x1="432.88" y1="462.43" x2="436.48" y2="462.43" stroke="#5f84b4" stroke-width="0.9" opacity="0.85"/>
<line x1="432.88" y1="507.18" x2="436.48" y2="507.18" stroke="#5f84b4" stroke-width="0.9" opacity="0.85"/>
<line x1="444.06" y1="458.85" x2="444.06" y2="497.81" stroke="#5f84b4" stroke-width="0.9" opacity="0.85"/>
<line x1="442.26" y1="458.85" x2="445.86" y2="458.85" stroke="#5f84b4" stroke-width="0.9" opacity="0.85"/>
<line x1="442.26" y1="497.81" x2="445.86" y2="497.81" stroke="#5f84b4" stroke-width="0.9" opacity="0.85"/>
<line x1="453.44" y1="444.52" x2="453.44" y2="479.27" stroke="#5f84b4" stroke-width="0.9" opacity="0.85"/>
<line x1="451.64" y1="444.52" x2="455.24" y2="444.52" stroke="#5f84b4" stroke-width="0.9" opacity="0.85"/>
<line x1="451.64" y1="479.27" x2="455.24" y2="479.27" stroke="#5f84b4" stroke-width="0.9" opacity="0.85"/>
<line x1="462.82" y1="442.42" x2="462.82" y2="476.22" stroke="#5f84b4" stroke-width="0.9" opacity="0.85"/>
<line x1="461.02" y1="442.42" x2="464.62" y2="442.42" stroke="#5f84b4" stroke-width="0.9" opacity="0.85"/>
<line x1="461.02" y1="476.22" x2="464.62" y2="476.22" stroke="#5f84b4" stroke-width="0.9" opacity="0.85"/>
<line x1="472.20" y1="432.94" x2="472.20" y2="469.17" stroke="#5f84b4" stroke-width="0.9" opacity="0.85"/>
<line x1="470.40" y1="432.94" x2="474.00" y2="432.94" stroke="#5f84b4" stroke-width="0.9" opacity="0.85"/>
<line x1="470.40" y1="469.17" x2="474.00" y2="469.17" stroke="#5f84b4" stroke-width="0.9" opacity="0.85"/>
<line x1="481.58" y1="429.78" x2="481.58" y2="467.69" stroke="#5f84b4" stroke-width="0.9" opacity="0.85"/>
<line x1="479.78" y1="429.78" x2="483.38" y2="429.78" stroke="#5f84b4" stroke-width="0.9" opacity="0.85"/>
<line x1="479.78" y1="467.69" x2="483.38" y2="467.69" stroke="#5f84b4" stroke-width="0.9" opacity="0.85"/>
<line x1="490.96" y1="432.42" x2="490.96" y2="468.74" stroke="#5f84b4" stroke-width="0.9" opacity="0.85"/>
<line x1="489.16" y1="432.42" x2="492.76" y2="432.42" stroke="#5f84b4" stroke-width="0.9" opacity="0.85"/>
<line x1="489.16" y1="468.74" x2="492.76" y2="468.74" stroke="#5f84b4" stroke-width="0.9" opacity="0.85"/>
<line x1="500.34" y1="450.84" x2="500.34" y2="475.06" stroke="#5f84b4" stroke-width="0.9" opacity="0.85"/>
<line x1="498.54" y1="450.84" x2="502.14" y2="450.84" stroke="#5f84b4" stroke-width="0.9" opacity="0.85"/>
<line x1="498.54" y1="475.06" x2="502.14" y2="475.06" stroke="#5f84b4" stroke-width="0.9" opacity="0.85"/>
<line x1="509.72" y1="457.16" x2="509.72" y2="471.90" stroke="#5f84b4" stroke-width="0.9" opacity="0.85"/>
<line x1="507.92" y1="457.16" x2="511.52" y2="457.16" stroke="#5f84b4" stroke-width="0.9" opacity="0.85"/>
<line x1="507.92" y1="471.90" x2="511.52" y2="471.90" stroke="#5f84b4" stroke-width="0.9" opacity="0.85"/>
<line x1="378.40" y1="500.33" x2="378.40" y2="515.08" stroke="#d9506e" stroke-width="0.9" opacity="0.85"/>
<line x1="376.60" y1="500.33" x2="380.20" y2="500.33" stroke="#d9506e" stroke-width="0.9" opacity="0.85"/>
<line x1="376.60" y1="515.08" x2="380.20" y2="515.08" stroke="#d9506e" stroke-width="0.9" opacity="0.85"/>
<line x1="387.78" y1="490.86" x2="387.78" y2="507.70" stroke="#d9506e" stroke-width="0.9" opacity="0.85"/>
<line x1="385.98" y1="490.86" x2="389.58" y2="490.86" stroke="#d9506e" stroke-width="0.9" opacity="0.85"/>
<line x1="385.98" y1="507.70" x2="389.58" y2="507.70" stroke="#d9506e" stroke-width="0.9" opacity="0.85"/>
<line x1="397.16" y1="470.96" x2="397.16" y2="490.33" stroke="#d9506e" stroke-width="0.9" opacity="0.85"/>
<line x1="395.36" y1="470.96" x2="398.96" y2="470.96" stroke="#d9506e" stroke-width="0.9" opacity="0.85"/>
<line x1="395.36" y1="490.33" x2="398.96" y2="490.33" stroke="#d9506e" stroke-width="0.9" opacity="0.85"/>
<line x1="406.54" y1="457.16" x2="406.54" y2="477.06" stroke="#d9506e" stroke-width="0.9" opacity="0.85"/>
<line x1="404.74" y1="457.16" x2="408.34" y2="457.16" stroke="#d9506e" stroke-width="0.9" opacity="0.85"/>
<line x1="404.74" y1="477.06" x2="408.34" y2="477.06" stroke="#d9506e" stroke-width="0.9" opacity="0.85"/>
<line x1="415.92" y1="450.74" x2="415.92" y2="471.38" stroke="#d9506e" stroke-width="0.9" opacity="0.85"/>
<line x1="414.12" y1="450.74" x2="417.72" y2="450.74" stroke="#d9506e" stroke-width="0.9" opacity="0.85"/>
<line x1="414.12" y1="471.38" x2="417.72" y2="471.38" stroke="#d9506e" stroke-width="0.9" opacity="0.85"/>
<line x1="425.30" y1="450.74" x2="425.30" y2="472.11" stroke="#d9506e" stroke-width="0.9" opacity="0.85"/>
<line x1="423.50" y1="450.74" x2="427.10" y2="450.74" stroke="#d9506e" stroke-width="0.9" opacity="0.85"/>
<line x1="423.50" y1="472.11" x2="427.10" y2="472.11" stroke="#d9506e" stroke-width="0.9" opacity="0.85"/>
<line x1="434.68" y1="442.10" x2="434.68" y2="463.90" stroke="#d9506e" stroke-width="0.9" opacity="0.85"/>
<line x1="432.88" y1="442.10" x2="436.48" y2="442.10" stroke="#d9506e" stroke-width="0.9" opacity="0.85"/>
<line x1="432.88" y1="463.90" x2="436.48" y2="463.90" stroke="#d9506e" stroke-width="0.9" opacity="0.85"/>
<line x1="444.06" y1="439.26" x2="444.06" y2="458.85" stroke="#d9506e" stroke-width="0.9" opacity="0.85"/>
<line x1="442.26" y1="439.26" x2="445.86" y2="439.26" stroke="#d9506e" stroke-width="0.9" opacity="0.85"/>
<line x1="442.26" y1="458.85" x2="445.86" y2="458.85" stroke="#d9506e" stroke-width="0.9" opacity="0.85"/>
<line x1="453.44" y1="442.42" x2="453.44" y2="460.53" stroke="#d9506e" stroke-width="0.9" opacity="0.85"/>
<line x1="451.64" y1="442.42" x2="455.24" y2="442.42" stroke="#d9506e" stroke-width="0.9" opacity="0.85"/>
<line x1="451.64" y1="460.53" x2="455.24" y2="460.53" stroke="#d9506e" stroke-width="0.9" opacity="0.85"/>
<line x1="462.82" y1="447.68" x2="462.82" y2="466.64" stroke="#d9506e" stroke-width="0.9" opacity="0.85"/>
<line x1="461.02" y1="447.68" x2="464.62" y2="447.68" stroke="#d9506e" stroke-width="0.9" opacity="0.85"/>
<line x1="461.02" y1="466.64" x2="464.62" y2="466.64" stroke="#d9506e" stroke-width="0.9" opacity="0.85"/>
<line x1="472.20" y1="450.32" x2="472.20" y2="468.74" stroke="#d9506e" stroke-width="0.9" opacity="0.85"/>
<line x1="470.40" y1="450.32" x2="474.00" y2="450.32" stroke="#d9506e" stroke-width="0.9" opacity="0.85"/>
<line x1="470.40" y1="468.74" x2="474.00" y2="468.74" stroke="#d9506e" stroke-width="0.9" opacity="0.85"/>
<line x1="481.58" y1="457.16" x2="481.58" y2="471.90" stroke="#d9506e" stroke-width="0.9" opacity="0.85"/>
<line x1="479.78" y1="457.16" x2="483.38" y2="457.16" stroke="#d9506e" stroke-width="0.9" opacity="0.85"/>
<line x1="479.78" y1="471.90" x2="483.38" y2="471.90" stroke="#d9506e" stroke-width="0.9" opacity="0.85"/>
<line x1="490.96" y1="460.85" x2="490.96" y2="479.27" stroke="#d9506e" stroke-width="0.9" opacity="0.85"/>
<line x1="489.16" y1="460.85" x2="492.76" y2="460.85" stroke="#d9506e" stroke-width="0.9" opacity="0.85"/>
<line x1="489.16" y1="479.27" x2="492.76" y2="479.27" stroke="#d9506e" stroke-width="0.9" opacity="0.85"/>
<line x1="500.34" y1="468.74" x2="500.34" y2="484.01" stroke="#d9506e" stroke-width="0.9" opacity="0.85"/>
<line x1="498.54" y1="468.74" x2="502.14" y2="468.74" stroke="#d9506e" stroke-width="0.9" opacity="0.85"/>
<line x1="498.54" y1="484.01" x2="502.14" y2="484.01" stroke="#d9506e" stroke-width="0.9" opacity="0.85"/>
<line x1="509.72" y1="472.96" x2="509.72" y2="487.17" stroke="#d9506e" stroke-width="0.9" opacity="0.85"/>
<line x1="507.92" y1="472.96" x2="511.52" y2="472.96" stroke="#d9506e" stroke-width="0.9" opacity="0.85"/>
<line x1="507.92" y1="487.17" x2="511.52" y2="487.17" stroke="#d9506e" stroke-width="0.9" opacity="0.85"/>
<line x1="378.40" y1="488.33" x2="378.40" y2="512.65" stroke="#f6b85c" stroke-width="0.9" opacity="0.85"/>
<line x1="376.60" y1="488.33" x2="380.20" y2="488.33" stroke="#f6b85c" stroke-width="0.9" opacity="0.85"/>
<line x1="376.60" y1="512.65" x2="380.20" y2="512.65" stroke="#f6b85c" stroke-width="0.9" opacity="0.85"/>
<line x1="387.78" y1="488.33" x2="387.78" y2="510.65" stroke="#f6b85c" stroke-width="0.9" opacity="0.85"/>
<line x1="385.98" y1="488.33" x2="389.58" y2="488.33" stroke="#f6b85c" stroke-width="0.9" opacity="0.85"/>
<line x1="385.98" y1="510.65" x2="389.58" y2="510.65" stroke="#f6b85c" stroke-width="0.9" opacity="0.85"/>
<line x1="397.16" y1="458.42" x2="397.16" y2="490.33" stroke="#f6b85c" stroke-width="0.9" opacity="0.85"/>
<line x1="395.36" y1="458.42" x2="398.96" y2="458.42" stroke="#f6b85c" stroke-width="0.9" opacity="0.85"/>
<line x1="395.36" y1="490.33" x2="398.96" y2="490.33" stroke="#f6b85c" stroke-width="0.9" opacity="0.85"/>
<line x1="406.54" y1="428.31" x2="406.54" y2="449.58" stroke="#f6b85c" stroke-width="0.9" opacity="0.85"/>
<line x1="404.74" y1="428.31" x2="408.34" y2="428.31" stroke="#f6b85c" stroke-width="0.9" opacity="0.85"/>
<line x1="404.74" y1="449.58" x2="408.34" y2="449.58" stroke="#f6b85c" stroke-width="0.9" opacity="0.85"/>
<line x1="415.92" y1="424.73" x2="415.92" y2="439.26" stroke="#f6b85c" stroke-width="0.9" opacity="0.85"/>
<line x1="414.12" y1="424.73" x2="417.72" y2="424.73" stroke="#f6b85c" stroke-width="0.9" opacity="0.85"/>
<line x1="414.12" y1="439.26" x2="417.72" y2="439.26" stroke="#f6b85c" stroke-width="0.9" opacity="0.85"/>
<line x1="425.30" y1="421.15" x2="425.30" y2="427.68" stroke="#f6b85c" stroke-width="0.9" opacity="0.85"/>
<line x1="423.50" y1="421.15" x2="427.10" y2="421.15" stroke="#f6b85c" stroke-width="0.9" opacity="0.85"/>
<line x1="423.50" y1="427.68" x2="427.10" y2="427.68" stroke="#f6b85c" stroke-width="0.9" opacity="0.85"/>
<line x1="434.68" y1="421.15" x2="434.68" y2="426.62" stroke="#f6b85c" stroke-width="0.9" opacity="0.85"/>
<line x1="432.88" y1="421.15" x2="436.48" y2="421.15" stroke="#f6b85c" stroke-width="0.9" opacity="0.85"/>
<line x1="432.88" y1="426.62" x2="436.48" y2="426.62" stroke="#f6b85c" stroke-width="0.9" opacity="0.85"/>
<line x1="444.06" y1="424.52" x2="444.06" y2="432.94" stroke="#f6b85c" stroke-width="0.9" opacity="0.85"/>
<line x1="442.26" y1="424.52" x2="445.86" y2="424.52" stroke="#f6b85c" stroke-width="0.9" opacity="0.85"/>
<line x1="442.26" y1="432.94" x2="445.86" y2="432.94" stroke="#f6b85c" stroke-width="0.9" opacity="0.85"/>
<line x1="453.44" y1="428.73" x2="453.44" y2="446.63" stroke="#f6b85c" stroke-width="0.9" opacity="0.85"/>
<line x1="451.64" y1="428.73" x2="455.24" y2="428.73" stroke="#f6b85c" stroke-width="0.9" opacity="0.85"/>
<line x1="451.64" y1="446.63" x2="455.24" y2="446.63" stroke="#f6b85c" stroke-width="0.9" opacity="0.85"/>
<line x1="462.82" y1="433.36" x2="462.82" y2="444.52" stroke="#f6b85c" stroke-width="0.9" opacity="0.85"/>
<line x1="461.02" y1="433.36" x2="464.62" y2="433.36" stroke="#f6b85c" stroke-width="0.9" opacity="0.85"/>
<line x1="461.02" y1="444.52" x2="464.62" y2="444.52" stroke="#f6b85c" stroke-width="0.9" opacity="0.85"/>
<line x1="472.20" y1="432.42" x2="472.20" y2="449.79" stroke="#f6b85c" stroke-width="0.9" opacity="0.85"/>
<line x1="470.40" y1="432.42" x2="474.00" y2="432.42" stroke="#f6b85c" stroke-width="0.9" opacity="0.85"/>
<line x1="470.40" y1="449.79" x2="474.00" y2="449.79" stroke="#f6b85c" stroke-width="0.9" opacity="0.85"/>
<line x1="481.58" y1="436.31" x2="481.58" y2="457.16" stroke="#f6b85c" stroke-width="0.9" opacity="0.85"/>
<line x1="479.78" y1="436.31" x2="483.38" y2="436.31" stroke="#f6b85c" stroke-width="0.9" opacity="0.85"/>
<line x1="479.78" y1="457.16" x2="483.38" y2="457.16" stroke="#f6b85c" stroke-width="0.9" opacity="0.85"/>
<line x1="490.96" y1="432.42" x2="490.96" y2="458.21" stroke="#f6b85c" stroke-width="0.9" opacity="0.85"/>
<line x1="489.16" y1="432.42" x2="492.76" y2="432.42" stroke="#f6b85c" stroke-width="0.9" opacity="0.85"/>
<line x1="489.16" y1="458.21" x2="492.76" y2="458.21" stroke="#f6b85c" stroke-width="0.9" opacity="0.85"/>
<line x1="500.34" y1="441.58" x2="500.34" y2="465.58" stroke="#f6b85c" stroke-width="0.9" opacity="0.85"/>
<line x1="498.54" y1="441.58" x2="502.14" y2="441.58" stroke="#f6b85c" stroke-width="0.9" opacity="0.85"/>
<line x1="498.54" y1="465.58" x2="502.14" y2="465.58" stroke="#f6b85c" stroke-width="0.9" opacity="0.85"/>
<line x1="509.72" y1="448.00" x2="509.72" y2="480.33" stroke="#f6b85c" stroke-width="0.9" opacity="0.85"/>
<line x1="507.92" y1="448.00" x2="511.52" y2="448.00" stroke="#f6b85c" stroke-width="0.9" opacity="0.85"/>
<line x1="507.92" y1="480.33" x2="511.52" y2="480.33" stroke="#f6b85c" stroke-width="0.9" opacity="0.85"/>
<path d="M378.40,517.29 C379.96,517.43 384.65,519.48 387.78,518.13 C390.91,516.78 394.03,512.23 397.16,509.18 C400.29,506.13 403.41,502.46 406.54,499.81 C409.67,497.16 412.79,495.88 415.92,493.28 C419.05,490.68 422.17,486.26 425.30,484.22 C428.43,482.19 431.55,482.54 434.68,481.06 C437.81,479.59 440.93,478.59 444.06,475.38 C447.19,472.17 450.31,464.51 453.44,461.79 C456.57,459.07 459.69,460.81 462.82,459.06 C465.95,457.30 469.07,452.95 472.20,451.26 C475.33,449.58 478.45,448.95 481.58,448.95 C484.71,448.95 487.83,448.97 490.96,451.26 C494.09,453.56 497.21,460.44 500.34,462.74 C503.47,465.04 508.16,464.67 509.72,465.06" fill="none" stroke="#33628a" stroke-width="1.0"/>
<path d="M378.40,507.60 C379.96,506.23 384.65,503.86 387.78,499.39 C390.91,494.91 394.03,486.15 397.16,480.75 C400.29,475.34 403.41,470.20 406.54,466.95 C409.67,463.71 412.79,462.22 415.92,461.27 C419.05,460.32 422.17,462.69 425.30,461.27 C428.43,459.85 431.55,454.84 434.68,452.74 C437.81,450.63 440.93,448.70 444.06,448.63 C447.19,448.56 450.31,450.97 453.44,452.32 C456.57,453.67 459.69,455.58 462.82,456.74 C465.95,457.90 469.07,457.97 472.20,459.27 C475.33,460.57 478.45,462.64 481.58,464.53 C484.71,466.43 487.83,468.55 490.96,470.64 C494.09,472.73 497.21,475.38 500.34,477.06 C503.47,478.75 508.16,480.13 509.72,480.75" fill="none" stroke="#c21c44" stroke-width="1.0"/>
<path d="M378.40,502.44 C379.96,501.86 384.65,503.60 387.78,498.97 C390.91,494.33 394.03,484.56 397.16,474.64 C400.29,464.73 403.41,446.58 406.54,439.47 C409.67,432.36 412.79,434.54 415.92,431.99 C419.05,429.45 422.17,425.57 425.30,424.20 C428.43,422.83 431.55,423.03 434.68,423.78 C437.81,424.54 440.93,426.47 444.06,428.73 C447.19,430.99 450.31,435.66 453.44,437.36 C456.57,439.07 459.69,438.35 462.82,438.94 C465.95,439.54 469.07,439.73 472.20,440.94 C475.33,442.16 478.45,445.33 481.58,446.21 C484.71,447.09 487.83,444.96 490.96,446.21 C494.09,447.46 497.21,450.58 500.34,453.69 C503.47,456.79 508.16,462.99 509.72,464.85" fill="none" stroke="#f3a52e" stroke-width="1.0"/>
<circle cx="378.40" cy="517.29" r="1.75" fill="#1a2a55"/>
<circle cx="387.78" cy="518.13" r="1.75" fill="#1a2a55"/>
<circle cx="397.16" cy="509.18" r="1.75" fill="#1a2a55"/>
<circle cx="406.54" cy="499.81" r="1.75" fill="#1a2a55"/>
<circle cx="415.92" cy="493.28" r="1.75" fill="#1a2a55"/>
<circle cx="425.30" cy="484.22" r="1.75" fill="#1a2a55"/>
<circle cx="434.68" cy="481.06" r="1.75" fill="#1a2a55"/>
<circle cx="444.06" cy="475.38" r="1.75" fill="#1a2a55"/>
<circle cx="453.44" cy="461.79" r="1.75" fill="#1a2a55"/>
<circle cx="462.82" cy="459.06" r="1.75" fill="#1a2a55"/>
<circle cx="472.20" cy="451.26" r="1.75" fill="#1a2a55"/>
<circle cx="481.58" cy="448.95" r="1.75" fill="#1a2a55"/>
<circle cx="490.96" cy="451.26" r="1.75" fill="#1a2a55"/>
<circle cx="500.34" cy="462.74" r="1.75" fill="#1a2a55"/>
<circle cx="509.72" cy="465.06" r="1.75" fill="#1a2a55"/>
<circle cx="378.40" cy="507.60" r="1.75" fill="#a8103a"/>
<circle cx="387.78" cy="499.39" r="1.75" fill="#a8103a"/>
<circle cx="397.16" cy="480.75" r="1.75" fill="#a8103a"/>
<circle cx="406.54" cy="466.95" r="1.75" fill="#a8103a"/>
<circle cx="415.92" cy="461.27" r="1.75" fill="#a8103a"/>
<circle cx="425.30" cy="461.27" r="1.75" fill="#a8103a"/>
<circle cx="434.68" cy="452.74" r="1.75" fill="#a8103a"/>
<circle cx="444.06" cy="448.63" r="1.75" fill="#a8103a"/>
<circle cx="453.44" cy="452.32" r="1.75" fill="#a8103a"/>
<circle cx="462.82" cy="456.74" r="1.75" fill="#a8103a"/>
<circle cx="472.20" cy="459.27" r="1.75" fill="#a8103a"/>
<circle cx="481.58" cy="464.53" r="1.75" fill="#a8103a"/>
<circle cx="490.96" cy="470.64" r="1.75" fill="#a8103a"/>
<circle cx="500.34" cy="477.06" r="1.75" fill="#a8103a"/>
<circle cx="509.72" cy="480.75" r="1.75" fill="#a8103a"/>
<circle cx="378.40" cy="502.44" r="1.75" fill="#e3952a"/>
<circle cx="387.78" cy="498.97" r="1.75" fill="#e3952a"/>
<circle cx="397.16" cy="474.64" r="1.75" fill="#e3952a"/>
<circle cx="406.54" cy="439.47" r="1.75" fill="#e3952a"/>
<circle cx="415.92" cy="431.99" r="1.75" fill="#e3952a"/>
<circle cx="425.30" cy="424.20" r="1.75" fill="#e3952a"/>
<circle cx="434.68" cy="423.78" r="1.75" fill="#e3952a"/>
<circle cx="444.06" cy="428.73" r="1.75" fill="#e3952a"/>
<circle cx="453.44" cy="437.36" r="1.75" fill="#e3952a"/>
<circle cx="462.82" cy="438.94" r="1.75" fill="#e3952a"/>
<circle cx="472.20" cy="440.94" r="1.75" fill="#e3952a"/>
<circle cx="481.58" cy="446.21" r="1.75" fill="#e3952a"/>
<circle cx="490.96" cy="446.21" r="1.75" fill="#e3952a"/>
<circle cx="500.34" cy="453.69" r="1.75" fill="#e3952a"/>
<circle cx="509.72" cy="464.85" r="1.75" fill="#e3952a"/>
<text x="452.40" y="502.60" font-size="6.4" text-anchor="start" fill="#383838" font-weight="normal" stroke="#383838" stroke-width="0.1" textLength="57.6" lengthAdjust="spacingAndGlyphs">DL1 vs. DL2, <tspan font-style="italic">P</tspan> = .18</text>
<text x="452.40" y="510.20" font-size="6.4" text-anchor="start" fill="#383838" font-weight="normal" stroke="#383838" stroke-width="0.1" textLength="57.6" lengthAdjust="spacingAndGlyphs">DL1 vs. DL3, <tspan font-style="italic">P</tspan> = .10</text>
<text x="445.50" y="547.20" font-size="8.4" text-anchor="middle" fill="#222" stroke="#222" stroke-width="0.3" letter-spacing="0.8" font-weight="normal" textLength="43.7" lengthAdjust="spacingAndGlyphs" >Weeks post-HCT</text>
<text x="348.90" y="469.80" font-size="7.2" text-anchor="middle" fill="#222" stroke="#222" stroke-width="0.2"  font-weight="normal" textLength="75.0" lengthAdjust="spacingAndGlyphs" transform="rotate(-90 348.90 469.80)">BK viral level in urine (log<tspan font-size="4.5" dy="1.5">10</tspan><tspan dy="-1.5">)</tspan></text>
<line x1="229.60" y1="559.90" x2="239.30" y2="559.90" stroke="#f3a52e" stroke-width="1.0" />
<circle cx="234.45" cy="559.90" r="1.7" fill="#e3952a"/>
<text x="243.50" y="562.10" font-size="6.5" text-anchor="start" fill="#383838" font-weight="normal" stroke="#383838" stroke-width="0.1" textLength="96.4" lengthAdjust="spacingAndGlyphs">DL1: 50 mg/kg/day on days +3/+4</text>
<line x1="347.50" y1="560.20" x2="356.70" y2="560.20" stroke="#c21c44" stroke-width="1.0" />
<circle cx="352.10" cy="560.20" r="1.7" fill="#a8103a"/>
<text x="359.40" y="562.40" font-size="6.5" text-anchor="start" fill="#383838" font-weight="normal" stroke="#383838" stroke-width="0.1" textLength="97.7" lengthAdjust="spacingAndGlyphs">DL2: 25 mg/kg/day on days +3/+4</text>
<line x1="229.60" y1="569.60" x2="239.30" y2="569.60" stroke="#33628a" stroke-width="1.0" />
<circle cx="234.45" cy="569.60" r="1.7" fill="#1a2a55"/>
<text x="243.50" y="571.80" font-size="6.5" text-anchor="start" fill="#383838" font-weight="normal" stroke="#383838" stroke-width="0.1" textLength="70.3" lengthAdjust="spacingAndGlyphs">DL3: 25 mg/kg on day +4</text>
<rect x="0.5" y="0.5" width="519" height="579" fill="none" stroke="#555" stroke-width="1.2"/>
</g>
</svg>
</body></html>
